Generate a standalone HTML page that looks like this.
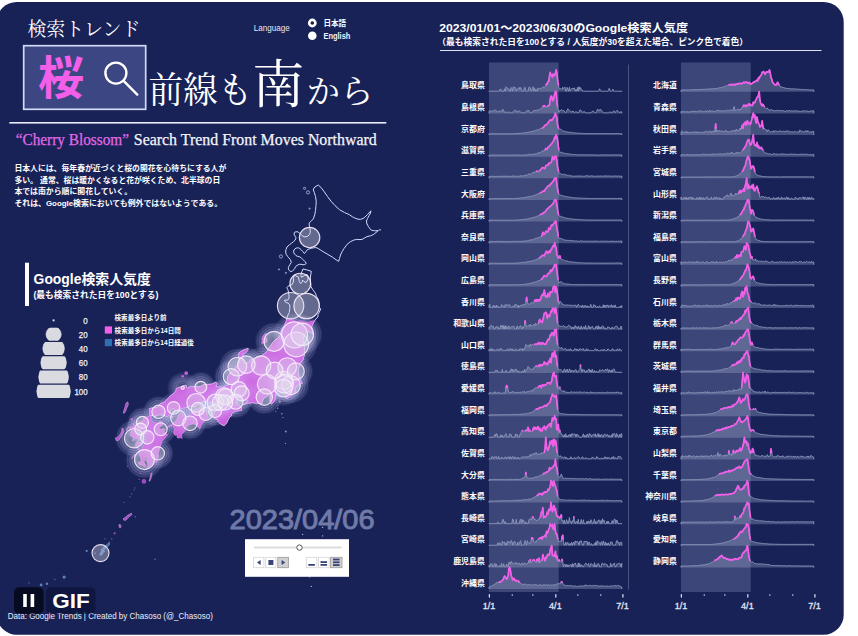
<!DOCTYPE html><html lang="ja"><head><meta charset="utf-8"><title>検索トレンド 桜前線も南から</title><style>html,body{margin:0;padding:0;background:#fff;font-family:"Liberation Sans",sans-serif}svg{display:block}.a{fill:#a9b0d0;fill-opacity:.32;stroke:#8f97bd;stroke-width:.9;stroke-linejoin:round;vector-effect:non-scaling-stroke}.p{fill:none;stroke:#f45fe9;stroke-width:1.7;stroke-linejoin:round;stroke-linecap:round;vector-effect:non-scaling-stroke}.t{font-family:"Liberation Sans","Noto Sans CJK JP",sans-serif;font-weight:bold;fill:#fff}.m{font-family:"Liberation Serif","Noto Serif CJK SC",serif;fill:#fff}</style></head><body><svg width="858" height="636" viewBox="0 0 858 636"><rect x="-3.3" y="2" width="847" height="632.7" rx="20" ry="20" fill="#182257"/><text class="m" x="27.4" y="36.2" font-size="19" textLength="113" lengthAdjust="spacingAndGlyphs">検索トレンド</text><rect x="23.7" y="45.7" width="122" height="63.6" fill="#3c4682" stroke="#d3d9f5" stroke-width="1.7"/><text x="37.9" y="94.2" font-family="Liberation Sans, Noto Sans CJK JP, sans-serif" font-weight="bold" font-size="46" fill="#f45fe9">桜</text><g fill="none" stroke="#fff" stroke-width="2.4" stroke-linecap="round"><circle cx="115.9" cy="73.1" r="10.5"/><path d="M123.6 80.8 L137.3 94.6"/></g><text class="m" x="148.4" y="103.2" font-size="36" textLength="104" lengthAdjust="spacingAndGlyphs">前線も</text><text class="m" x="252.3" y="102.5" font-size="52">南</text><text class="m" x="306.6" y="103.2" font-size="33" textLength="67" lengthAdjust="spacingAndGlyphs">から</text><rect x="9.3" y="122" width="377" height="1.6" fill="#e8ecfa"/><text x="15.7" y="144.7" font-family="Liberation Serif, serif" font-size="16.4" textLength="113.3" lengthAdjust="spacingAndGlyphs" fill="#e169e4" stroke="#e169e4" stroke-width=".25">“Cherry Blossom”</text><text x="133.8" y="144.7" font-family="Liberation Serif, serif" font-size="16.4" textLength="243" lengthAdjust="spacingAndGlyphs" fill="#f4f5fb" stroke="#f4f5fb" stroke-width=".25">Search Trend Front Moves Northward</text><text class="t" x="14.4" y="171.2" font-size="7.85" textLength="211.9" lengthAdjust="spacingAndGlyphs">日本人には、毎年春が近づくと桜の開花を心待ちにする人が</text><text class="t" x="14.4" y="182.75" font-size="7.85" textLength="205.9" lengthAdjust="spacingAndGlyphs">多い。 通常、桜は暖かくなると花が咲くため、北半球の日</text><text class="t" x="14.4" y="194.3" font-size="7.85" textLength="117.7" lengthAdjust="spacingAndGlyphs">本では南から順に開花していく。</text><text class="t" x="14.4" y="205.85" font-size="7.85" textLength="207.7" lengthAdjust="spacingAndGlyphs">それは、Google検索においても例外ではないようである。</text><text x="253.8" y="31" font-family="Liberation Sans, sans-serif" font-size="8.6" fill="#e4e7f5" textLength="36" lengthAdjust="spacingAndGlyphs">Language</text><circle cx="312.3" cy="23" r="3.1" fill="#1b1f3a" stroke="#fff" stroke-width="2.6"/><circle cx="312.3" cy="35.8" r="4.3" fill="#fff"/><text class="t" x="323.4" y="25.8" font-size="7.6" textLength="22.8" lengthAdjust="spacingAndGlyphs">日本語</text><text x="323.4" y="38.7" font-family="Liberation Sans, sans-serif" font-size="8.2" font-weight="bold" fill="#f0f2fa" textLength="27" lengthAdjust="spacingAndGlyphs">English</text><rect x="25" y="262.7" width="4" height="43.3" fill="#fff"/><text class="t" x="33.6" y="283.8" font-size="13.85" textLength="117.2" lengthAdjust="spacingAndGlyphs">Google検索人気度</text><text class="t" x="33.4" y="297.8" font-size="8.6" textLength="125" lengthAdjust="spacingAndGlyphs">(最も検索された日を100とする)</text><circle cx="53.6" cy="320.4" r="1.1" fill="#d5d8e2"/><text x="87.6" y="323.6" text-anchor="end" font-family="Liberation Sans, sans-serif" font-size="8.9" fill="#f2f3fa" stroke="#f2f3fa" stroke-width=".25" textLength="4.4" lengthAdjust="spacingAndGlyphs">0</text><clipPath id="cl20"><rect x="45.0" y="327.8" width="17.2" height="13.0" rx="3.5"/></clipPath><g clip-path="url(#cl20)"><ellipse cx="53.6" cy="334.3" rx="7.6" ry="7.6" fill="#dadbe1" stroke="#ececf0" stroke-width=".6"/></g><text x="87.6" y="337.5" text-anchor="end" font-family="Liberation Sans, sans-serif" font-size="8.9" fill="#f2f3fa" stroke="#f2f3fa" stroke-width=".25" textLength="8.8" lengthAdjust="spacingAndGlyphs">20</text><clipPath id="cl40"><rect x="41.8" y="342.0" width="23.6" height="13.0" rx="3.5"/></clipPath><g clip-path="url(#cl40)"><ellipse cx="53.6" cy="348.5" rx="10.8" ry="10.3" fill="#dadbe1" stroke="#ececf0" stroke-width=".6"/></g><text x="87.6" y="351.7" text-anchor="end" font-family="Liberation Sans, sans-serif" font-size="8.9" fill="#f2f3fa" stroke="#f2f3fa" stroke-width=".25" textLength="8.8" lengthAdjust="spacingAndGlyphs">40</text><clipPath id="cl60"><rect x="39.8" y="356.2" width="27.6" height="13.0" rx="3.5"/></clipPath><g clip-path="url(#cl60)"><ellipse cx="53.6" cy="362.7" rx="12.8" ry="12.2" fill="#dadbe1" stroke="#ececf0" stroke-width=".6"/></g><text x="87.6" y="365.9" text-anchor="end" font-family="Liberation Sans, sans-serif" font-size="8.9" fill="#f2f3fa" stroke="#f2f3fa" stroke-width=".25" textLength="8.8" lengthAdjust="spacingAndGlyphs">60</text><clipPath id="cl80"><rect x="37.7" y="370.5" width="31.8" height="13.0" rx="3.5"/></clipPath><g clip-path="url(#cl80)"><ellipse cx="53.6" cy="377.0" rx="14.9" ry="14.2" fill="#dadbe1" stroke="#ececf0" stroke-width=".6"/></g><text x="87.6" y="380.2" text-anchor="end" font-family="Liberation Sans, sans-serif" font-size="8.9" fill="#f2f3fa" stroke="#f2f3fa" stroke-width=".25" textLength="8.8" lengthAdjust="spacingAndGlyphs">80</text><clipPath id="cl100"><rect x="35.8" y="384.7" width="35.6" height="13.2" rx="3.5"/></clipPath><g clip-path="url(#cl100)"><ellipse cx="53.6" cy="391.3" rx="16.8" ry="16.0" fill="#dadbe1" stroke="#ececf0" stroke-width=".6"/></g><text x="87.6" y="394.5" text-anchor="end" font-family="Liberation Sans, sans-serif" font-size="8.9" fill="#f2f3fa" stroke="#f2f3fa" stroke-width=".25" textLength="13.2" lengthAdjust="spacingAndGlyphs">100</text><text class="t" x="114.6" y="319.9" font-size="6.5" textLength="52" lengthAdjust="spacingAndGlyphs">検索最多日より前</text><rect x="104.8" y="326.4" width="7.2" height="7.2" fill="#f45fe9"/><text class="t" x="114.6" y="332.7" font-size="6.5" textLength="66.2" lengthAdjust="spacingAndGlyphs">検索最多日から14日間</text><rect x="104.8" y="339" width="7.2" height="7.2" fill="#2f6fb0"/><text class="t" x="114.6" y="345.3" font-size="6.5" textLength="79.2" lengthAdjust="spacingAndGlyphs">検索最多日から14日経過後</text><g><circle cx="294.5" cy="334.9" r="22.5" fill="url(#halo)"/><circle cx="294.5" cy="334.9" r="15.5" fill="none" stroke="#e9e6ff" stroke-opacity="0.22" stroke-width=".9"/><circle cx="294.5" cy="334.9" r="17.8" fill="none" stroke="#e9e6ff" stroke-opacity="0.16" stroke-width=".9"/><circle cx="294.5" cy="334.9" r="20.2" fill="none" stroke="#e9e6ff" stroke-opacity="0.1" stroke-width=".9"/><circle cx="296.2" cy="344.4" r="21.9" fill="url(#halo)"/><circle cx="296.2" cy="344.4" r="14.9" fill="none" stroke="#e9e6ff" stroke-opacity="0.22" stroke-width=".9"/><circle cx="296.2" cy="344.4" r="17.2" fill="none" stroke="#e9e6ff" stroke-opacity="0.16" stroke-width=".9"/><circle cx="296.2" cy="344.4" r="19.6" fill="none" stroke="#e9e6ff" stroke-opacity="0.1" stroke-width=".9"/><circle cx="302.3" cy="334.3" r="20.7" fill="url(#halo)"/><circle cx="302.3" cy="334.3" r="13.7" fill="none" stroke="#e9e6ff" stroke-opacity="0.22" stroke-width=".9"/><circle cx="302.3" cy="334.3" r="16.0" fill="none" stroke="#e9e6ff" stroke-opacity="0.16" stroke-width=".9"/><circle cx="302.3" cy="334.3" r="18.4" fill="none" stroke="#e9e6ff" stroke-opacity="0.1" stroke-width=".9"/><circle cx="274.0" cy="341.4" r="19.5" fill="url(#halo)"/><circle cx="274.0" cy="341.4" r="12.5" fill="none" stroke="#e9e6ff" stroke-opacity="0.22" stroke-width=".9"/><circle cx="274.0" cy="341.4" r="14.8" fill="none" stroke="#e9e6ff" stroke-opacity="0.16" stroke-width=".9"/><circle cx="274.0" cy="341.4" r="17.2" fill="none" stroke="#e9e6ff" stroke-opacity="0.1" stroke-width=".9"/><circle cx="144.5" cy="459.6" r="19.5" fill="url(#halo)"/><circle cx="144.5" cy="459.6" r="12.5" fill="none" stroke="#e9e6ff" stroke-opacity="0.22" stroke-width=".9"/><circle cx="144.5" cy="459.6" r="14.8" fill="none" stroke="#e9e6ff" stroke-opacity="0.16" stroke-width=".9"/><circle cx="144.5" cy="459.6" r="17.2" fill="none" stroke="#e9e6ff" stroke-opacity="0.1" stroke-width=".9"/><circle cx="267.1" cy="384.2" r="19.2" fill="url(#halo)"/><circle cx="267.1" cy="384.2" r="12.2" fill="none" stroke="#e9e6ff" stroke-opacity="0.22" stroke-width=".9"/><circle cx="267.1" cy="384.2" r="14.5" fill="none" stroke="#e9e6ff" stroke-opacity="0.16" stroke-width=".9"/><circle cx="267.1" cy="384.2" r="16.9" fill="none" stroke="#e9e6ff" stroke-opacity="0.1" stroke-width=".9"/><circle cx="261.2" cy="365.5" r="19.2" fill="url(#halo)"/><circle cx="261.2" cy="365.5" r="12.2" fill="none" stroke="#e9e6ff" stroke-opacity="0.22" stroke-width=".9"/><circle cx="261.2" cy="365.5" r="14.5" fill="none" stroke="#e9e6ff" stroke-opacity="0.16" stroke-width=".9"/><circle cx="261.2" cy="365.5" r="16.9" fill="none" stroke="#e9e6ff" stroke-opacity="0.1" stroke-width=".9"/><circle cx="134.1" cy="438.2" r="19.2" fill="url(#halo)"/><circle cx="134.1" cy="438.2" r="12.2" fill="none" stroke="#e9e6ff" stroke-opacity="0.22" stroke-width=".9"/><circle cx="134.1" cy="438.2" r="14.5" fill="none" stroke="#e9e6ff" stroke-opacity="0.16" stroke-width=".9"/><circle cx="134.1" cy="438.2" r="16.9" fill="none" stroke="#e9e6ff" stroke-opacity="0.1" stroke-width=".9"/><circle cx="287.2" cy="367.1" r="18.9" fill="url(#halo)"/><circle cx="287.2" cy="367.1" r="11.9" fill="none" stroke="#e9e6ff" stroke-opacity="0.22" stroke-width=".9"/><circle cx="287.2" cy="367.1" r="14.2" fill="none" stroke="#e9e6ff" stroke-opacity="0.16" stroke-width=".9"/><circle cx="287.2" cy="367.1" r="16.6" fill="none" stroke="#e9e6ff" stroke-opacity="0.1" stroke-width=".9"/><circle cx="290.9" cy="385.3" r="18.9" fill="url(#halo)"/><circle cx="290.9" cy="385.3" r="11.9" fill="none" stroke="#e9e6ff" stroke-opacity="0.22" stroke-width=".9"/><circle cx="290.9" cy="385.3" r="14.2" fill="none" stroke="#e9e6ff" stroke-opacity="0.16" stroke-width=".9"/><circle cx="290.9" cy="385.3" r="16.6" fill="none" stroke="#e9e6ff" stroke-opacity="0.1" stroke-width=".9"/><circle cx="237.4" cy="366.6" r="18.9" fill="url(#halo)"/><circle cx="237.4" cy="366.6" r="11.9" fill="none" stroke="#e9e6ff" stroke-opacity="0.22" stroke-width=".9"/><circle cx="237.4" cy="366.6" r="14.2" fill="none" stroke="#e9e6ff" stroke-opacity="0.16" stroke-width=".9"/><circle cx="237.4" cy="366.6" r="16.6" fill="none" stroke="#e9e6ff" stroke-opacity="0.1" stroke-width=".9"/><circle cx="196.2" cy="402.9" r="18.9" fill="url(#halo)"/><circle cx="196.2" cy="402.9" r="11.9" fill="none" stroke="#e9e6ff" stroke-opacity="0.22" stroke-width=".9"/><circle cx="196.2" cy="402.9" r="14.2" fill="none" stroke="#e9e6ff" stroke-opacity="0.16" stroke-width=".9"/><circle cx="196.2" cy="402.9" r="16.6" fill="none" stroke="#e9e6ff" stroke-opacity="0.1" stroke-width=".9"/><circle cx="284.3" cy="383.7" r="18.8" fill="url(#halo)"/><circle cx="284.3" cy="383.7" r="11.8" fill="none" stroke="#e9e6ff" stroke-opacity="0.22" stroke-width=".9"/><circle cx="284.3" cy="383.7" r="14.1" fill="none" stroke="#e9e6ff" stroke-opacity="0.16" stroke-width=".9"/><circle cx="284.3" cy="383.7" r="16.5" fill="none" stroke="#e9e6ff" stroke-opacity="0.1" stroke-width=".9"/><circle cx="283.6" cy="380.5" r="18.5" fill="url(#halo)"/><circle cx="283.6" cy="380.5" r="11.5" fill="none" stroke="#e9e6ff" stroke-opacity="0.22" stroke-width=".9"/><circle cx="283.6" cy="380.5" r="13.8" fill="none" stroke="#e9e6ff" stroke-opacity="0.16" stroke-width=".9"/><circle cx="283.6" cy="380.5" r="16.2" fill="none" stroke="#e9e6ff" stroke-opacity="0.1" stroke-width=".9"/><circle cx="283.5" cy="388.2" r="18.3" fill="url(#halo)"/><circle cx="283.5" cy="388.2" r="11.3" fill="none" stroke="#e9e6ff" stroke-opacity="0.22" stroke-width=".9"/><circle cx="283.5" cy="388.2" r="13.6" fill="none" stroke="#e9e6ff" stroke-opacity="0.16" stroke-width=".9"/><circle cx="283.5" cy="388.2" r="16.0" fill="none" stroke="#e9e6ff" stroke-opacity="0.1" stroke-width=".9"/><circle cx="246.3" cy="364.6" r="18.3" fill="url(#halo)"/><circle cx="246.3" cy="364.6" r="11.3" fill="none" stroke="#e9e6ff" stroke-opacity="0.22" stroke-width=".9"/><circle cx="246.3" cy="364.6" r="13.6" fill="none" stroke="#e9e6ff" stroke-opacity="0.16" stroke-width=".9"/><circle cx="246.3" cy="364.6" r="16.0" fill="none" stroke="#e9e6ff" stroke-opacity="0.1" stroke-width=".9"/><circle cx="295.8" cy="371.4" r="18.0" fill="url(#halo)"/><circle cx="295.8" cy="371.4" r="11.0" fill="none" stroke="#e9e6ff" stroke-opacity="0.22" stroke-width=".9"/><circle cx="295.8" cy="371.4" r="13.3" fill="none" stroke="#e9e6ff" stroke-opacity="0.16" stroke-width=".9"/><circle cx="295.8" cy="371.4" r="15.7" fill="none" stroke="#e9e6ff" stroke-opacity="0.1" stroke-width=".9"/><circle cx="224.1" cy="396.2" r="18.0" fill="url(#halo)"/><circle cx="224.1" cy="396.2" r="11.0" fill="none" stroke="#e9e6ff" stroke-opacity="0.22" stroke-width=".9"/><circle cx="224.1" cy="396.2" r="13.3" fill="none" stroke="#e9e6ff" stroke-opacity="0.16" stroke-width=".9"/><circle cx="224.1" cy="396.2" r="15.7" fill="none" stroke="#e9e6ff" stroke-opacity="0.1" stroke-width=".9"/><circle cx="274.6" cy="370.4" r="17.8" fill="url(#halo)"/><circle cx="274.6" cy="370.4" r="10.8" fill="none" stroke="#e9e6ff" stroke-opacity="0.22" stroke-width=".9"/><circle cx="274.6" cy="370.4" r="13.1" fill="none" stroke="#e9e6ff" stroke-opacity="0.16" stroke-width=".9"/><circle cx="274.6" cy="370.4" r="15.5" fill="none" stroke="#e9e6ff" stroke-opacity="0.1" stroke-width=".9"/><circle cx="215.3" cy="402.4" r="17.8" fill="url(#halo)"/><circle cx="215.3" cy="402.4" r="10.8" fill="none" stroke="#e9e6ff" stroke-opacity="0.22" stroke-width=".9"/><circle cx="215.3" cy="402.4" r="13.1" fill="none" stroke="#e9e6ff" stroke-opacity="0.16" stroke-width=".9"/><circle cx="215.3" cy="402.4" r="15.5" fill="none" stroke="#e9e6ff" stroke-opacity="0.1" stroke-width=".9"/><circle cx="264.3" cy="397.1" r="17.7" fill="url(#halo)"/><circle cx="264.3" cy="397.1" r="10.7" fill="none" stroke="#e9e6ff" stroke-opacity="0.22" stroke-width=".9"/><circle cx="264.3" cy="397.1" r="13.0" fill="none" stroke="#e9e6ff" stroke-opacity="0.16" stroke-width=".9"/><circle cx="264.3" cy="397.1" r="15.4" fill="none" stroke="#e9e6ff" stroke-opacity="0.1" stroke-width=".9"/><circle cx="231.2" cy="376.6" r="17.5" fill="url(#halo)"/><circle cx="231.2" cy="376.6" r="10.5" fill="none" stroke="#e9e6ff" stroke-opacity="0.22" stroke-width=".9"/><circle cx="231.2" cy="376.6" r="12.8" fill="none" stroke="#e9e6ff" stroke-opacity="0.16" stroke-width=".9"/><circle cx="231.2" cy="376.6" r="15.2" fill="none" stroke="#e9e6ff" stroke-opacity="0.1" stroke-width=".9"/><circle cx="225.8" cy="396.6" r="17.5" fill="url(#halo)"/><circle cx="225.8" cy="396.6" r="10.5" fill="none" stroke="#e9e6ff" stroke-opacity="0.22" stroke-width=".9"/><circle cx="225.8" cy="396.6" r="12.8" fill="none" stroke="#e9e6ff" stroke-opacity="0.16" stroke-width=".9"/><circle cx="225.8" cy="396.6" r="15.2" fill="none" stroke="#e9e6ff" stroke-opacity="0.1" stroke-width=".9"/><circle cx="220.4" cy="402.5" r="17.5" fill="url(#halo)"/><circle cx="220.4" cy="402.5" r="10.5" fill="none" stroke="#e9e6ff" stroke-opacity="0.22" stroke-width=".9"/><circle cx="220.4" cy="402.5" r="12.8" fill="none" stroke="#e9e6ff" stroke-opacity="0.16" stroke-width=".9"/><circle cx="220.4" cy="402.5" r="15.2" fill="none" stroke="#e9e6ff" stroke-opacity="0.1" stroke-width=".9"/><circle cx="238.8" cy="389.3" r="17.2" fill="url(#halo)"/><circle cx="238.8" cy="389.3" r="10.2" fill="none" stroke="#e9e6ff" stroke-opacity="0.22" stroke-width=".9"/><circle cx="238.8" cy="389.3" r="12.5" fill="none" stroke="#e9e6ff" stroke-opacity="0.16" stroke-width=".9"/><circle cx="238.8" cy="389.3" r="14.9" fill="none" stroke="#e9e6ff" stroke-opacity="0.1" stroke-width=".9"/><circle cx="178.3" cy="418.1" r="17.2" fill="url(#halo)"/><circle cx="178.3" cy="418.1" r="10.2" fill="none" stroke="#e9e6ff" stroke-opacity="0.22" stroke-width=".9"/><circle cx="178.3" cy="418.1" r="12.5" fill="none" stroke="#e9e6ff" stroke-opacity="0.16" stroke-width=".9"/><circle cx="178.3" cy="418.1" r="14.9" fill="none" stroke="#e9e6ff" stroke-opacity="0.1" stroke-width=".9"/><circle cx="241.7" cy="393.3" r="17.0" fill="url(#halo)"/><circle cx="241.7" cy="393.3" r="10.0" fill="none" stroke="#e9e6ff" stroke-opacity="0.22" stroke-width=".9"/><circle cx="241.7" cy="393.3" r="12.3" fill="none" stroke="#e9e6ff" stroke-opacity="0.16" stroke-width=".9"/><circle cx="241.7" cy="393.3" r="14.7" fill="none" stroke="#e9e6ff" stroke-opacity="0.1" stroke-width=".9"/><circle cx="235.6" cy="401.7" r="17.0" fill="url(#halo)"/><circle cx="235.6" cy="401.7" r="10.0" fill="none" stroke="#e9e6ff" stroke-opacity="0.22" stroke-width=".9"/><circle cx="235.6" cy="401.7" r="12.3" fill="none" stroke="#e9e6ff" stroke-opacity="0.16" stroke-width=".9"/><circle cx="235.6" cy="401.7" r="14.7" fill="none" stroke="#e9e6ff" stroke-opacity="0.1" stroke-width=".9"/><circle cx="225.2" cy="402.5" r="17.0" fill="url(#halo)"/><circle cx="225.2" cy="402.5" r="10.0" fill="none" stroke="#e9e6ff" stroke-opacity="0.22" stroke-width=".9"/><circle cx="225.2" cy="402.5" r="12.3" fill="none" stroke="#e9e6ff" stroke-opacity="0.16" stroke-width=".9"/><circle cx="225.2" cy="402.5" r="14.7" fill="none" stroke="#e9e6ff" stroke-opacity="0.1" stroke-width=".9"/><circle cx="190.0" cy="423.3" r="16.8" fill="url(#halo)"/><circle cx="190.0" cy="423.3" r="9.8" fill="none" stroke="#e9e6ff" stroke-opacity="0.22" stroke-width=".9"/><circle cx="190.0" cy="423.3" r="12.1" fill="none" stroke="#e9e6ff" stroke-opacity="0.16" stroke-width=".9"/><circle cx="190.0" cy="423.3" r="14.5" fill="none" stroke="#e9e6ff" stroke-opacity="0.1" stroke-width=".9"/><circle cx="158.5" cy="411.8" r="16.2" fill="url(#halo)"/><circle cx="158.5" cy="411.8" r="9.2" fill="none" stroke="#e9e6ff" stroke-opacity="0.22" stroke-width=".9"/><circle cx="158.5" cy="411.8" r="11.5" fill="none" stroke="#e9e6ff" stroke-opacity="0.16" stroke-width=".9"/><circle cx="158.5" cy="411.8" r="13.9" fill="none" stroke="#e9e6ff" stroke-opacity="0.1" stroke-width=".9"/><circle cx="147.3" cy="437.4" r="16.2" fill="url(#halo)"/><circle cx="147.3" cy="437.4" r="9.2" fill="none" stroke="#e9e6ff" stroke-opacity="0.22" stroke-width=".9"/><circle cx="147.3" cy="437.4" r="11.5" fill="none" stroke="#e9e6ff" stroke-opacity="0.16" stroke-width=".9"/><circle cx="147.3" cy="437.4" r="13.9" fill="none" stroke="#e9e6ff" stroke-opacity="0.1" stroke-width=".9"/><circle cx="157.8" cy="453.3" r="16.2" fill="url(#halo)"/><circle cx="157.8" cy="453.3" r="9.2" fill="none" stroke="#e9e6ff" stroke-opacity="0.22" stroke-width=".9"/><circle cx="157.8" cy="453.3" r="11.5" fill="none" stroke="#e9e6ff" stroke-opacity="0.16" stroke-width=".9"/><circle cx="157.8" cy="453.3" r="13.9" fill="none" stroke="#e9e6ff" stroke-opacity="0.1" stroke-width=".9"/><circle cx="215.1" cy="411.0" r="16.0" fill="url(#halo)"/><circle cx="215.1" cy="411.0" r="9.0" fill="none" stroke="#e9e6ff" stroke-opacity="0.22" stroke-width=".9"/><circle cx="215.1" cy="411.0" r="11.3" fill="none" stroke="#e9e6ff" stroke-opacity="0.16" stroke-width=".9"/><circle cx="215.1" cy="411.0" r="13.7" fill="none" stroke="#e9e6ff" stroke-opacity="0.1" stroke-width=".9"/><circle cx="205.7" cy="414.0" r="16.0" fill="url(#halo)"/><circle cx="205.7" cy="414.0" r="9.0" fill="none" stroke="#e9e6ff" stroke-opacity="0.22" stroke-width=".9"/><circle cx="205.7" cy="414.0" r="11.3" fill="none" stroke="#e9e6ff" stroke-opacity="0.16" stroke-width=".9"/><circle cx="205.7" cy="414.0" r="13.7" fill="none" stroke="#e9e6ff" stroke-opacity="0.1" stroke-width=".9"/><circle cx="197.8" cy="408.9" r="16.0" fill="url(#halo)"/><circle cx="197.8" cy="408.9" r="9.0" fill="none" stroke="#e9e6ff" stroke-opacity="0.22" stroke-width=".9"/><circle cx="197.8" cy="408.9" r="11.3" fill="none" stroke="#e9e6ff" stroke-opacity="0.16" stroke-width=".9"/><circle cx="197.8" cy="408.9" r="13.7" fill="none" stroke="#e9e6ff" stroke-opacity="0.1" stroke-width=".9"/><circle cx="160.7" cy="429.2" r="16.0" fill="url(#halo)"/><circle cx="160.7" cy="429.2" r="9.0" fill="none" stroke="#e9e6ff" stroke-opacity="0.22" stroke-width=".9"/><circle cx="160.7" cy="429.2" r="11.3" fill="none" stroke="#e9e6ff" stroke-opacity="0.16" stroke-width=".9"/><circle cx="160.7" cy="429.2" r="13.7" fill="none" stroke="#e9e6ff" stroke-opacity="0.1" stroke-width=".9"/><circle cx="173.6" cy="407.9" r="15.8" fill="url(#halo)"/><circle cx="173.6" cy="407.9" r="8.8" fill="none" stroke="#e9e6ff" stroke-opacity="0.22" stroke-width=".9"/><circle cx="173.6" cy="407.9" r="11.1" fill="none" stroke="#e9e6ff" stroke-opacity="0.16" stroke-width=".9"/><circle cx="173.6" cy="407.9" r="13.5" fill="none" stroke="#e9e6ff" stroke-opacity="0.1" stroke-width=".9"/><circle cx="142.4" cy="422.4" r="15.6" fill="url(#halo)"/><circle cx="142.4" cy="422.4" r="8.6" fill="none" stroke="#e9e6ff" stroke-opacity="0.22" stroke-width=".9"/><circle cx="142.4" cy="422.4" r="10.9" fill="none" stroke="#e9e6ff" stroke-opacity="0.16" stroke-width=".9"/><circle cx="142.4" cy="422.4" r="13.3" fill="none" stroke="#e9e6ff" stroke-opacity="0.1" stroke-width=".9"/><circle cx="200.8" cy="387.2" r="16.0" fill="url(#halo)"/><circle cx="200.8" cy="387.2" r="8.4" fill="none" stroke="#e9e6ff" stroke-opacity="0.22" stroke-width=".9"/><circle cx="200.8" cy="387.2" r="10.7" fill="none" stroke="#e9e6ff" stroke-opacity="0.16" stroke-width=".9"/><circle cx="200.8" cy="387.2" r="13.1" fill="none" stroke="#e9e6ff" stroke-opacity="0.1" stroke-width=".9"/><circle cx="140.6" cy="429.0" r="15.4" fill="url(#halo)"/><circle cx="140.6" cy="429.0" r="8.4" fill="none" stroke="#e9e6ff" stroke-opacity="0.22" stroke-width=".9"/><circle cx="140.6" cy="429.0" r="10.7" fill="none" stroke="#e9e6ff" stroke-opacity="0.16" stroke-width=".9"/><circle cx="140.6" cy="429.0" r="13.1" fill="none" stroke="#e9e6ff" stroke-opacity="0.1" stroke-width=".9"/><circle cx="182.7" cy="387.8" r="16.0" fill="url(#halo)"/><circle cx="182.7" cy="387.8" r="4.1" fill="none" stroke="#e9e6ff" stroke-opacity="0.22" stroke-width=".9"/><circle cx="182.7" cy="387.8" r="6.4" fill="none" stroke="#e9e6ff" stroke-opacity="0.16" stroke-width=".9"/><circle cx="182.7" cy="387.8" r="8.8" fill="none" stroke="#e9e6ff" stroke-opacity="0.1" stroke-width=".9"/></g><g><clipPath id="south"><polygon points="273.7,317.6 287.5,318.0 292.1,319.0 296.6,321.3 301.2,320.6 307.4,322.3 311.9,320.6 327.2,320.0 327.2,433.5 136.0,433.5 136.0,317.6"/></clipPath><polygon points="318.3,185.0 321.0,187.5 323.9,191.3 327.5,196.5 331.0,201.2 335.0,205.6 339.5,209.7 344.5,212.5 349.4,214.7 352.5,216.8 355.1,218.2 358.0,219.2 360.7,219.3 363.0,218.5 365.0,217.1 367.5,214.5 370.9,210.8 370.5,213.0 369.2,215.4 367.5,218.5 366.4,221.0 367.0,224.0 368.5,226.7 370.0,228.8 371.3,230.2 374.5,230.8 378.4,230.6 376.0,232.5 373.5,234.5 370.5,235.8 367.1,236.6 364.5,238.0 362.1,239.4 359.0,239.6 356.5,239.4 353.5,240.2 350.8,241.5 348.5,243.0 346.6,245.1 344.0,248.5 342.2,251.5 340.5,255.0 339.5,258.5 338.6,261.4 336.0,259.7 332.4,257.1 328.0,254.5 323.9,252.1 320.5,250.0 318.3,248.6 316.2,247.6 313.5,247.8 311.5,248.3 309.0,249.0 307.3,249.7 305.8,251.8 304.4,253.5 302.8,251.5 301.1,249.7 299.8,248.5 298.3,247.8 296.5,248.0 295.0,248.8 294.0,250.0 293.6,251.1 293.8,252.8 294.5,254.0 295.8,255.4 297.4,256.3 299.5,256.8 301.1,257.7 303.0,259.6 304.9,261.5 306.3,263.4 304.8,264.5 303.0,264.8 301.0,264.3 299.2,264.3 297.0,265.5 295.5,266.7 294.8,268.3 294.1,269.5 292.5,270.8 290.8,271.7 289.3,270.6 288.4,269.1 288.4,267.5 288.9,266.2 290.2,264.3 291.2,262.5 291.0,261.0 290.3,259.6 288.8,257.8 287.5,256.3 286.2,254.2 285.6,252.1 286.0,249.5 287.0,246.9 289.2,245.0 291.7,243.1 293.5,241.7 295.0,240.3 295.7,238.9 295.9,237.5 294.8,235.8 294.1,234.2 294.2,233.0 294.5,232.3 296.0,231.8 297.8,231.8 299.2,232.8 300.2,233.7 302.0,235.5 304.0,236.8 306.0,236.8 308.0,236.0 309.5,234.5 310.2,232.5 310.2,230.0 309.8,227.4 309.2,225.0 309.1,223.1 311.0,221.3 313.3,218.9 314.8,214.5 315.5,210.4 316.0,205.5 316.2,201.2 315.5,196.5 314.3,192.5 313.3,189.9 314.0,187.8 316.0,186.3" fill="none" stroke="#d3dafc" stroke-width="1" stroke-linejoin="round"/><polygon points="302.9,269.0 306.6,269.8 311.3,271.3 310.9,273.9 310.4,277.0 310.4,281.0 310.9,286.5 312.7,289.5 315.3,293.1 316.5,296.3 318.5,300.1 319.3,304.1 319.3,307.3 320.7,309.1 319.3,312.1 318.1,314.6 317.8,317.0 315.8,319.0 313.8,321.9 312.7,324.3 311.6,326.3 312.2,329.8 312.7,334.1 310.4,332.1 308.9,331.3 306.6,332.3 305.1,333.7 304.0,335.6 303.2,339.5 303.7,343.4 304.7,349.2 304.3,355.0 302.9,360.0 300.9,362.6 299.1,366.5 298.5,369.3 297.9,372.0 298.5,375.9 299.4,378.8 301.2,381.6 302.3,383.3 300.0,383.9 296.3,386.3 295.1,388.8 295.1,391.0 293.7,394.0 290.5,395.7 287.3,398.5 285.3,397.0 286.4,394.8 285.8,390.8 287.6,389.5 289.3,387.3 290.5,385.4 288.7,383.9 285.6,384.8 285.6,386.9 283.8,388.2 283.8,389.9 285.0,391.8 283.2,394.2 282.6,392.0 281.0,391.0 279.0,390.6 276.1,392.0 276.0,394.0 274.9,395.0 275.2,397.2 274.8,400.4 272.9,402.8 271.2,404.1 270.2,401.3 270.3,398.3 270.5,396.1 271.5,395.0 268.8,394.4 266.3,396.6 264.5,397.6 263.4,399.1 261.9,401.9 261.9,404.1 259.2,403.5 256.9,403.0 255.3,403.2 253.8,402.8 252.3,402.6 247.7,403.2 243.4,404.5 244.6,403.0 248.0,401.9 247.7,400.4 246.5,400.0 243.9,400.4 242.8,399.4 243.1,400.7 242.6,402.2 240.8,400.7 240.5,398.9 240.5,396.6 240.8,395.7 238.8,396.1 237.7,397.4 236.7,399.4 235.9,401.9 236.5,404.1 238.2,405.0 239.3,405.6 240.8,406.3 241.6,408.7 241.6,410.2 239.3,410.6 236.2,411.0 233.1,412.4 231.2,413.9 231.6,415.6 229.5,417.2 227.8,420.4 227.0,422.2 225.5,424.4 224.1,425.7 222.0,424.8 220.1,423.5 218.6,422.2 217.7,421.1 218.2,420.2 215.9,418.9 213.4,417.4 213.7,415.6 214.0,413.7 215.1,412.4 214.5,411.1 213.6,410.2 214.8,409.3 216.3,408.4 217.1,407.2 218.6,405.6 219.4,404.5 218.9,403.2 217.8,402.2 216.6,402.2 215.4,402.6 213.3,403.5 212.3,403.3 210.2,402.2 207.6,400.9 205.1,401.1 203.0,401.5 201.0,402.6 199.6,403.9 198.0,404.1 196.9,404.5 196.7,405.9 194.3,407.2 193.1,405.9 191.4,406.3 189.5,405.9 188.0,406.9 185.0,407.8 183.1,408.0 180.5,409.1 178.1,410.0 175.3,410.8 173.5,408.5 171.5,408.9 170.0,410.6 170.1,412.1 169.3,414.3 168.4,415.9 166.9,416.5 165.7,416.1 163.5,414.5 162.0,415.2 160.0,414.6 157.4,415.2 155.1,416.5 153.9,415.8 152.1,415.2 150.2,416.1 149.9,414.6 150.1,412.6 149.5,410.0 149.3,408.7 151.3,408.2 154.0,407.8 157.4,407.4 158.6,405.6 160.5,403.7 164.0,402.6 165.8,400.4 167.8,398.5 170.0,396.4 171.9,394.8 174.2,392.9 176.1,390.5 176.2,388.6 178.1,387.8 180.4,386.9 183.4,385.8 185.7,385.4 186.8,386.0 185.7,386.9 186.5,387.8 187.7,388.2 190.3,386.9 192.6,386.7 194.9,386.9 198.0,386.9 200.3,386.5 202.2,385.4 204.1,384.8 206.8,384.4 209.9,384.4 212.5,383.9 215.9,382.0 217.1,383.9 215.6,386.3 217.1,386.7 218.3,387.3 219.8,386.3 220.9,387.3 224.0,387.3 226.3,385.4 228.9,384.4 228.1,381.6 227.2,378.2 228.2,375.9 229.8,373.3 232.4,371.2 234.2,369.7 236.7,366.1 238.5,363.0 239.6,360.7 239.0,358.4 238.8,356.1 238.8,353.0 241.6,351.1 244.6,349.6 248.1,348.6 247.7,350.5 245.4,353.0 241.9,354.4 243.9,355.9 243.1,356.9 242.6,357.8 243.5,359.8 242.9,361.5 244.0,362.8 246.5,363.4 249.2,362.1 249.7,360.3 251.8,359.6 254.3,358.8 256.2,357.8 259.2,356.5 262.2,355.4 264.8,353.4 266.8,351.7 269.1,348.2 270.0,346.5 272.2,343.4 274.5,340.5 278.3,338.0 280.7,335.2 280.9,331.7 282.1,328.6 284.7,324.9 286.2,321.3 287.5,316.0 289.3,312.5 289.8,308.5 289.8,305.1 288.2,303.1 285.9,302.5 284.4,300.1 287.9,300.1 289.0,298.1 289.0,296.1 288.7,293.1 287.9,289.7 286.8,287.7 288.2,286.1 292.1,284.5 293.3,282.0 293.6,280.0 293.6,277.4 294.3,274.7 295.9,276.0 298.6,277.0 298.8,279.0 299.4,281.6 300.5,283.5 302.3,282.0 302.5,280.0 304.0,281.6 306.1,282.7 307.7,280.0 308.1,278.4 308.1,276.0 307.0,274.3 304.3,275.6 301.5,277.2 300.9,275.6 301.2,273.9 302.0,271.5" fill="none" stroke="#d3dafc" stroke-width="1" stroke-linejoin="round"/><g fill="#d863e6" fill-opacity=".92" stroke="#e9a6f2" stroke-width=".5" stroke-linejoin="round"><polygon clip-path="url(#south)" points="302.9,269.0 306.6,269.8 311.3,271.3 310.9,273.9 310.4,277.0 310.4,281.0 310.9,286.5 312.7,289.5 315.3,293.1 316.5,296.3 318.5,300.1 319.3,304.1 319.3,307.3 320.7,309.1 319.3,312.1 318.1,314.6 317.8,317.0 315.8,319.0 313.8,321.9 312.7,324.3 311.6,326.3 312.2,329.8 312.7,334.1 310.4,332.1 308.9,331.3 306.6,332.3 305.1,333.7 304.0,335.6 303.2,339.5 303.7,343.4 304.7,349.2 304.3,355.0 302.9,360.0 300.9,362.6 299.1,366.5 298.5,369.3 297.9,372.0 298.5,375.9 299.4,378.8 301.2,381.6 302.3,383.3 300.0,383.9 296.3,386.3 295.1,388.8 295.1,391.0 293.7,394.0 290.5,395.7 287.3,398.5 285.3,397.0 286.4,394.8 285.8,390.8 287.6,389.5 289.3,387.3 290.5,385.4 288.7,383.9 285.6,384.8 285.6,386.9 283.8,388.2 283.8,389.9 285.0,391.8 283.2,394.2 282.6,392.0 281.0,391.0 279.0,390.6 276.1,392.0 276.0,394.0 274.9,395.0 275.2,397.2 274.8,400.4 272.9,402.8 271.2,404.1 270.2,401.3 270.3,398.3 270.5,396.1 271.5,395.0 268.8,394.4 266.3,396.6 264.5,397.6 263.4,399.1 261.9,401.9 261.9,404.1 259.2,403.5 256.9,403.0 255.3,403.2 253.8,402.8 252.3,402.6 247.7,403.2 243.4,404.5 244.6,403.0 248.0,401.9 247.7,400.4 246.5,400.0 243.9,400.4 242.8,399.4 243.1,400.7 242.6,402.2 240.8,400.7 240.5,398.9 240.5,396.6 240.8,395.7 238.8,396.1 237.7,397.4 236.7,399.4 235.9,401.9 236.5,404.1 238.2,405.0 239.3,405.6 240.8,406.3 241.6,408.7 241.6,410.2 239.3,410.6 236.2,411.0 233.1,412.4 231.2,413.9 231.6,415.6 229.5,417.2 227.8,420.4 227.0,422.2 225.5,424.4 224.1,425.7 222.0,424.8 220.1,423.5 218.6,422.2 217.7,421.1 218.2,420.2 215.9,418.9 213.4,417.4 213.7,415.6 214.0,413.7 215.1,412.4 214.5,411.1 213.6,410.2 214.8,409.3 216.3,408.4 217.1,407.2 218.6,405.6 219.4,404.5 218.9,403.2 217.8,402.2 216.6,402.2 215.4,402.6 213.3,403.5 212.3,403.3 210.2,402.2 207.6,400.9 205.1,401.1 203.0,401.5 201.0,402.6 199.6,403.9 198.0,404.1 196.9,404.5 196.7,405.9 194.3,407.2 193.1,405.9 191.4,406.3 189.5,405.9 188.0,406.9 185.0,407.8 183.1,408.0 180.5,409.1 178.1,410.0 175.3,410.8 173.5,408.5 171.5,408.9 170.0,410.6 170.1,412.1 169.3,414.3 168.4,415.9 166.9,416.5 165.7,416.1 163.5,414.5 162.0,415.2 160.0,414.6 157.4,415.2 155.1,416.5 153.9,415.8 152.1,415.2 150.2,416.1 149.9,414.6 150.1,412.6 149.5,410.0 149.3,408.7 151.3,408.2 154.0,407.8 157.4,407.4 158.6,405.6 160.5,403.7 164.0,402.6 165.8,400.4 167.8,398.5 170.0,396.4 171.9,394.8 174.2,392.9 176.1,390.5 176.2,388.6 178.1,387.8 180.4,386.9 183.4,385.8 185.7,385.4 186.8,386.0 185.7,386.9 186.5,387.8 187.7,388.2 190.3,386.9 192.6,386.7 194.9,386.9 198.0,386.9 200.3,386.5 202.2,385.4 204.1,384.8 206.8,384.4 209.9,384.4 212.5,383.9 215.9,382.0 217.1,383.9 215.6,386.3 217.1,386.7 218.3,387.3 219.8,386.3 220.9,387.3 224.0,387.3 226.3,385.4 228.9,384.4 228.1,381.6 227.2,378.2 228.2,375.9 229.8,373.3 232.4,371.2 234.2,369.7 236.7,366.1 238.5,363.0 239.6,360.7 239.0,358.4 238.8,356.1 238.8,353.0 241.6,351.1 244.6,349.6 248.1,348.6 247.7,350.5 245.4,353.0 241.9,354.4 243.9,355.9 243.1,356.9 242.6,357.8 243.5,359.8 242.9,361.5 244.0,362.8 246.5,363.4 249.2,362.1 249.7,360.3 251.8,359.6 254.3,358.8 256.2,357.8 259.2,356.5 262.2,355.4 264.8,353.4 266.8,351.7 269.1,348.2 270.0,346.5 272.2,343.4 274.5,340.5 278.3,338.0 280.7,335.2 280.9,331.7 282.1,328.6 284.7,324.9 286.2,321.3 287.5,316.0 289.3,312.5 289.8,308.5 289.8,305.1 288.2,303.1 285.9,302.5 284.4,300.1 287.9,300.1 289.0,298.1 289.0,296.1 288.7,293.1 287.9,289.7 286.8,287.7 288.2,286.1 292.1,284.5 293.3,282.0 293.6,280.0 293.6,277.4 294.3,274.7 295.9,276.0 298.6,277.0 298.8,279.0 299.4,281.6 300.5,283.5 302.3,282.0 302.5,280.0 304.0,281.6 306.1,282.7 307.7,280.0 308.1,278.4 308.1,276.0 307.0,274.3 304.3,275.6 301.5,277.2 300.9,275.6 301.2,273.9 302.0,271.5"/><polygon points="206.8,410.8 206.7,412.4 206.2,413.9 207.6,416.1 208.7,418.3 205.6,420.2 202.9,422.6 201.0,425.3 199.9,429.2 198.7,428.1 197.5,425.9 195.7,424.4 193.4,423.9 190.6,424.4 188.5,425.3 186.5,426.6 185.7,428.4 185.3,429.9 183.4,432.6 181.6,434.5 181.9,437.6 182.2,438.6 180.8,437.6 178.8,438.1 177.0,437.6 177.3,434.8 175.5,435.4 174.2,434.5 173.5,431.7 174.7,429.5 173.5,427.2 172.7,425.5 169.7,426.6 166.9,427.3 168.9,425.9 171.2,424.4 173.9,422.4 177.0,419.8 177.3,417.8 178.4,415.6 181.1,413.0 182.2,413.9 183.4,415.8 184.6,416.5 186.5,415.8 190.3,415.2 191.5,412.8 190.8,410.6 192.3,411.1 193.4,410.0 194.9,409.3 198.0,408.7 199.5,407.8 200.3,409.1 202.9,410.6 204.1,411.0"/><polygon points="150.8,416.1 151.3,417.4 151.3,419.3 151.6,420.4 153.1,422.2 154.4,422.6 156.6,423.1 158.2,422.6 160.2,421.1 162.0,421.6 162.6,423.1 162.3,425.3 161.2,426.2 159.2,427.5 158.9,428.4 161.2,429.0 163.5,428.6 165.1,429.0 164.3,430.3 163.8,431.4 165.1,432.1 165.8,433.5 167.8,434.8 166.3,436.3 165.8,437.2 164.0,439.0 162.0,441.2 161.2,444.1 160.2,447.2 159.4,449.5 158.3,453.5 158.5,456.2 157.4,458.9 157.0,461.6 156.5,463.0 154.7,461.9 152.8,461.2 152.1,462.8 152.1,464.3 150.5,466.1 147.9,467.8 146.1,469.6 146.7,467.8 147.9,466.1 147.9,463.4 147.0,461.0 145.5,460.1 145.9,458.9 147.0,458.9 147.5,456.7 145.5,457.1 144.7,459.3 144.1,462.5 145.9,465.5 144.9,467.0 142.9,465.7 140.6,464.8 139.4,464.8 138.7,463.4 138.0,462.1 140.9,462.1 140.9,458.9 140.1,456.7 139.1,454.4 138.9,451.3 139.8,450.2 141.3,449.9 142.1,448.1 143.6,445.4 145.2,442.6 143.9,441.2 142.9,440.5 144.4,439.7 145.9,439.4 145.2,437.7 144.4,435.4 142.4,433.0 141.8,431.2 140.1,430.3 138.7,430.8 137.5,431.7 139.1,434.1 137.8,435.4 137.1,436.3 140.6,435.9 141.7,437.6 139.8,440.3 138.7,440.8 139.1,438.6 136.8,438.1 134.8,439.0 132.2,441.2 132.6,439.9 134.0,438.3 132.6,437.2 130.6,435.4 130.6,432.6 131.4,431.7 131.7,430.6 130.2,429.0 129.6,427.0 131.4,427.2 133.7,428.1 133.2,425.9 133.7,423.5 134.9,424.4 135.5,425.0 137.5,423.5 138.6,422.2 139.4,421.6 140.6,422.6 142.1,422.6 141.8,421.6 140.6,421.1 142.1,420.7 142.9,420.2 143.2,418.5 144.1,417.0 146.1,417.0 148.2,416.5 149.8,415.8"/><polygon points="266.2,333.1 266.0,335.6 265.1,338.0 267.1,338.6 266.8,341.9 263.7,343.0 261.8,343.4 262.2,341.9 263.0,340.1 261.9,339.5 262.2,338.0 263.4,335.6 265.3,333.7"/><polygon points="212.8,404.1 211.3,406.9 211.0,408.9 211.7,410.0 210.2,411.1 208.2,411.5 207.3,410.8 207.9,409.3 209.1,407.4 210.2,406.3 211.4,405.0"/><polygon fill-opacity=".72" points="128.0,402.2 128.3,405.0 126.8,407.8 126.0,410.6 124.1,413.4 123.3,413.0 124.1,409.7 125.0,406.9 126.0,403.2 127.3,401.9"/><polygon fill-opacity=".72" points="152.1,472.7 151.6,476.8 150.1,480.8 149.0,481.2 150.1,477.6 150.8,474.1"/><polygon fill-opacity=".72" points="131.4,513.2 132.0,514.6 129.1,516.8 126.5,519.8 124.4,520.6 123.0,518.9 125.3,517.2 128.0,515.1"/><polygon points="137.5,441.7 139.1,442.6 139.1,445.4 136.8,448.1 136.0,448.1 135.7,445.4 136.3,442.6"/><polygon points="141.3,441.7 142.9,443.6 141.3,444.8 139.8,443.6"/><polygon fill-opacity=".72" points="129.1,426.2 128.6,428.1 126.5,430.3 126.0,429.9 127.3,427.7"/><polygon fill-opacity=".72" points="116.1,440.5 115.3,438.1 117.9,437.2 119.6,435.0 121.1,433.2 121.9,430.8 121.9,428.4 123.3,428.8 123.4,432.6 121.9,435.7 120.2,437.9 119.2,439.7 117.9,440.8"/><polygon points="201.5,405.0 202.7,405.9 202.2,406.9 200.3,407.2 199.9,405.9"/><polygon points="169.7,416.1 172.7,416.5 173.0,417.4 169.7,417.0"/><polygon points="173.0,410.6 174.5,411.1 174.5,413.0 173.5,413.4 172.7,411.9"/><polygon points="181.6,409.7 183.4,410.6 184.6,409.7 184.2,411.1 181.9,411.5"/><polygon fill-opacity=".72" points="134.8,454.0 134.2,455.3 131.4,458.0 131.7,458.5 133.7,456.2 135.2,454.4"/><polygon points="138.3,448.1 139.4,449.0 138.3,449.9 137.2,449.0"/><polygon fill-opacity=".72" points="119.9,524.1 121.1,526.2 120.4,527.9 119.2,527.2 118.9,525.0"/></g><polygon points="109.4,541.9 109.7,544.4 107.7,546.8 105.4,548.5 103.9,550.2 104.6,551.6 102.3,553.0 102.6,554.2 100.5,555.4 100.0,554.7 100.2,553.2 101.4,551.3 101.0,549.6 103.1,548.2 104.2,546.1 103.6,544.8 105.4,545.5 106.9,544.4" fill="#4f7fc4" fill-opacity=".8" stroke="#9db4e6" stroke-width=".4"/><circle cx="186.2" cy="373.1" r="1.9" fill="#d863e6" fill-opacity="0.9"/><circle cx="182.7" cy="376.3" r="1.2" fill="#d863e6" fill-opacity="0.9"/><circle cx="131.7" cy="419.3" r="1.2" fill="#d863e6" fill-opacity="0.9"/><circle cx="143.9" cy="481.4" r="2.3" fill="#d863e6" fill-opacity="0.7"/><circle cx="135.2" cy="516.8" r="0.7" fill="#d863e6" fill-opacity="0.7"/><circle cx="114.6" cy="533.3" r="1.1" fill="#d863e6" fill-opacity="0.7"/><circle cx="111.8" cy="538.9" r="0.6" fill="#6f8fd0" fill-opacity=".85"/><circle cx="86.7" cy="550.9" r="1.1" fill="#6f8fd0" fill-opacity=".85"/><circle cx="95.1" cy="553.3" r="0.7" fill="#6f8fd0" fill-opacity=".85"/><circle cx="64.1" cy="577.1" r="1.6" fill="#6f8fd0" fill-opacity=".85"/><circle cx="155.1" cy="559.3" r="0.7" fill="#6f8fd0" fill-opacity=".85"/><circle cx="279.8" cy="401.7" r="1.1" fill="#b9a4e6" fill-opacity=".8"/><circle cx="278.0" cy="405.6" r="0.6" fill="#b9a4e6" fill-opacity=".8"/><circle cx="277.7" cy="408.2" r="0.7" fill="#b9a4e6" fill-opacity=".8"/><circle cx="275.8" cy="411.3" r="0.6" fill="#b9a4e6" fill-opacity=".8"/><circle cx="281.8" cy="413.7" r="0.8" fill="#b9a4e6" fill-opacity=".8"/><circle cx="282.9" cy="417.6" r="0.6" fill="#b9a4e6" fill-opacity=".8"/><circle cx="285.8" cy="431.5" r="0.9" fill="#b9a4e6" fill-opacity=".8"/><circle cx="285.5" cy="443.4" r="0.6" fill="#b9a4e6" fill-opacity=".8"/><circle cx="308.0" cy="192.4" r="1.6" fill="none" stroke="#c3cdf7" stroke-width=".7"/><circle cx="304.6" cy="188.3" r="1.1" fill="none" stroke="#c3cdf7" stroke-width=".7"/><circle cx="280.9" cy="256.5" r="1.6" fill="none" stroke="#c3cdf7" stroke-width=".7"/><circle cx="309.6" cy="208.6" r="0.6" fill="none" stroke="#c3cdf7" stroke-width=".7"/><circle cx="380.0" cy="229.8" r="0.6" fill="none" stroke="#c3cdf7" stroke-width=".7"/><circle cx="279.0" cy="269.4" r="0.6" fill="none" stroke="#c3cdf7" stroke-width=".7"/><circle cx="285.9" cy="272.9" r="0.6" fill="none" stroke="#c3cdf7" stroke-width=".7"/><circle cx="134.8" cy="487.9" r="0.6" fill="#d863e6" fill-opacity="0.7"/><circle cx="134.0" cy="490.0" r="0.6" fill="#d863e6" fill-opacity="0.7"/><circle cx="131.4" cy="493.9" r="0.6" fill="#d863e6" fill-opacity="0.7"/><circle cx="129.9" cy="496.9" r="0.6" fill="#d863e6" fill-opacity="0.7"/><circle cx="123.8" cy="502.3" r="0.6" fill="#d863e6" fill-opacity="0.7"/><circle cx="140.6" cy="473.2" r="0.6" fill="#d863e6" fill-opacity="0.7"/><circle cx="139.1" cy="479.4" r="0.6" fill="#d863e6" fill-opacity="0.7"/><circle cx="127.6" cy="466.1" r="0.6" fill="#d863e6" fill-opacity="0.7"/><circle cx="46.9" cy="583.8" r="1.2" fill="#6f8fd0" fill-opacity=".85"/><circle cx="41.1" cy="585.0" r="1.4" fill="#6f8fd0" fill-opacity=".85"/><circle cx="28.9" cy="582.9" r="0.6" fill="#6f8fd0" fill-opacity=".85"/><circle cx="54.9" cy="579.4" r="0.6" fill="#6f8fd0" fill-opacity=".85"/><circle cx="102.0" cy="544.4" r="0.6" fill="#6f8fd0" fill-opacity=".85"/><circle cx="104.9" cy="538.8" r="0.6" fill="#6f8fd0" fill-opacity=".85"/><circle cx="322.6" cy="527.4" r=".7" fill="#c9d2f8" fill-opacity=".8"/><circle cx="302.6" cy="534.4" r=".7" fill="#c9d2f8" fill-opacity=".8"/><circle cx="322.6" cy="535.9" r=".7" fill="#c9d2f8" fill-opacity=".8"/><circle cx="309.7" cy="576.9" r=".7" fill="#c9d2f8" fill-opacity=".8"/><circle cx="311.3" cy="586.4" r=".7" fill="#c9d2f8" fill-opacity=".8"/></g><defs><radialGradient id="halo"><stop offset="0" stop-color="#d8d4ff" stop-opacity="0"/><stop offset=".42" stop-color="#d0ccff" stop-opacity=".24"/><stop offset=".65" stop-color="#c8c4ff" stop-opacity=".2"/><stop offset=".85" stop-color="#c4c0ff" stop-opacity=".1"/><stop offset="1" stop-color="#c4c0ff" stop-opacity="0"/></radialGradient></defs><g opacity=".45"><circle cx="294.5" cy="334.9" r="22.5" fill="url(#halo)"/><circle cx="296.2" cy="344.4" r="21.9" fill="url(#halo)"/><circle cx="302.3" cy="334.3" r="20.7" fill="url(#halo)"/><circle cx="274.0" cy="341.4" r="19.5" fill="url(#halo)"/><circle cx="144.5" cy="459.6" r="19.5" fill="url(#halo)"/><circle cx="267.1" cy="384.2" r="19.2" fill="url(#halo)"/><circle cx="261.2" cy="365.5" r="19.2" fill="url(#halo)"/><circle cx="134.1" cy="438.2" r="19.2" fill="url(#halo)"/><circle cx="287.2" cy="367.1" r="18.9" fill="url(#halo)"/><circle cx="290.9" cy="385.3" r="18.9" fill="url(#halo)"/><circle cx="237.4" cy="366.6" r="18.9" fill="url(#halo)"/><circle cx="196.2" cy="402.9" r="18.9" fill="url(#halo)"/><circle cx="284.3" cy="383.7" r="18.8" fill="url(#halo)"/><circle cx="283.6" cy="380.5" r="18.5" fill="url(#halo)"/><circle cx="283.5" cy="388.2" r="18.3" fill="url(#halo)"/><circle cx="246.3" cy="364.6" r="18.3" fill="url(#halo)"/><circle cx="295.8" cy="371.4" r="18.0" fill="url(#halo)"/><circle cx="224.1" cy="396.2" r="18.0" fill="url(#halo)"/><circle cx="274.6" cy="370.4" r="17.8" fill="url(#halo)"/><circle cx="215.3" cy="402.4" r="17.8" fill="url(#halo)"/><circle cx="264.3" cy="397.1" r="17.7" fill="url(#halo)"/><circle cx="231.2" cy="376.6" r="17.5" fill="url(#halo)"/><circle cx="225.8" cy="396.6" r="17.5" fill="url(#halo)"/><circle cx="220.4" cy="402.5" r="17.5" fill="url(#halo)"/><circle cx="238.8" cy="389.3" r="17.2" fill="url(#halo)"/><circle cx="178.3" cy="418.1" r="17.2" fill="url(#halo)"/><circle cx="241.7" cy="393.3" r="17.0" fill="url(#halo)"/><circle cx="235.6" cy="401.7" r="17.0" fill="url(#halo)"/><circle cx="225.2" cy="402.5" r="17.0" fill="url(#halo)"/><circle cx="190.0" cy="423.3" r="16.8" fill="url(#halo)"/><circle cx="158.5" cy="411.8" r="16.2" fill="url(#halo)"/><circle cx="147.3" cy="437.4" r="16.2" fill="url(#halo)"/><circle cx="157.8" cy="453.3" r="16.2" fill="url(#halo)"/><circle cx="215.1" cy="411.0" r="16.0" fill="url(#halo)"/><circle cx="205.7" cy="414.0" r="16.0" fill="url(#halo)"/><circle cx="197.8" cy="408.9" r="16.0" fill="url(#halo)"/><circle cx="160.7" cy="429.2" r="16.0" fill="url(#halo)"/><circle cx="173.6" cy="407.9" r="15.8" fill="url(#halo)"/><circle cx="142.4" cy="422.4" r="15.6" fill="url(#halo)"/><circle cx="200.8" cy="387.2" r="16.0" fill="url(#halo)"/><circle cx="140.6" cy="429.0" r="15.4" fill="url(#halo)"/><circle cx="182.7" cy="387.8" r="16.0" fill="url(#halo)"/></g><g><circle cx="290.6" cy="305.7" r="13.2" fill="#e4e1ee" fill-opacity=".37" stroke="#f8eefc" stroke-opacity=".9" stroke-width="1.15"/><circle cx="294.5" cy="334.9" r="13.0" fill="#e4e1ee" fill-opacity=".37" stroke="#f8eefc" stroke-opacity=".9" stroke-width="1.15"/><circle cx="306.6" cy="306.0" r="12.7" fill="#e4e1ee" fill-opacity=".37" stroke="#f8eefc" stroke-opacity=".9" stroke-width="1.15"/><circle cx="296.2" cy="344.4" r="12.4" fill="#e4e1ee" fill-opacity=".37" stroke="#f8eefc" stroke-opacity=".9" stroke-width="1.15"/><circle cx="302.3" cy="334.3" r="11.2" fill="#e4e1ee" fill-opacity=".37" stroke="#f8eefc" stroke-opacity=".9" stroke-width="1.15"/><circle cx="300.3" cy="283.6" r="10.4" fill="#e4e1ee" fill-opacity=".37" stroke="#f8eefc" stroke-opacity=".9" stroke-width="1.15"/><circle cx="309.6" cy="237.5" r="10.2" fill="#e4e1ee" fill-opacity=".37" stroke="#f8eefc" stroke-opacity=".9" stroke-width="1.15"/><circle cx="274.0" cy="341.4" r="10.0" fill="#e4e1ee" fill-opacity=".37" stroke="#f8eefc" stroke-opacity=".9" stroke-width="1.15"/><circle cx="144.5" cy="459.6" r="10.0" fill="#e4e1ee" fill-opacity=".37" stroke="#f8eefc" stroke-opacity=".9" stroke-width="1.15"/><circle cx="267.1" cy="384.2" r="9.7" fill="#e4e1ee" fill-opacity=".37" stroke="#f8eefc" stroke-opacity=".9" stroke-width="1.15"/><circle cx="261.2" cy="365.5" r="9.7" fill="#e4e1ee" fill-opacity=".37" stroke="#f8eefc" stroke-opacity=".9" stroke-width="1.15"/><circle cx="134.1" cy="438.2" r="9.7" fill="#e4e1ee" fill-opacity=".37" stroke="#f8eefc" stroke-opacity=".9" stroke-width="1.15"/><circle cx="287.2" cy="367.1" r="9.4" fill="#e4e1ee" fill-opacity=".37" stroke="#f8eefc" stroke-opacity=".9" stroke-width="1.15"/><circle cx="290.9" cy="385.3" r="9.4" fill="#e4e1ee" fill-opacity=".37" stroke="#f8eefc" stroke-opacity=".9" stroke-width="1.15"/><circle cx="237.4" cy="366.6" r="9.4" fill="#e4e1ee" fill-opacity=".37" stroke="#f8eefc" stroke-opacity=".9" stroke-width="1.15"/><circle cx="196.2" cy="402.9" r="9.4" fill="#e4e1ee" fill-opacity=".37" stroke="#f8eefc" stroke-opacity=".9" stroke-width="1.15"/><circle cx="284.3" cy="383.7" r="9.3" fill="#e4e1ee" fill-opacity=".37" stroke="#f8eefc" stroke-opacity=".9" stroke-width="1.15"/><circle cx="283.6" cy="380.5" r="9.0" fill="#e4e1ee" fill-opacity=".37" stroke="#f8eefc" stroke-opacity=".9" stroke-width="1.15"/><circle cx="283.5" cy="388.2" r="8.8" fill="#e4e1ee" fill-opacity=".37" stroke="#f8eefc" stroke-opacity=".9" stroke-width="1.15"/><circle cx="246.3" cy="364.6" r="8.8" fill="#e4e1ee" fill-opacity=".37" stroke="#f8eefc" stroke-opacity=".9" stroke-width="1.15"/><circle cx="295.8" cy="371.4" r="8.5" fill="#e4e1ee" fill-opacity=".37" stroke="#f8eefc" stroke-opacity=".9" stroke-width="1.15"/><circle cx="224.1" cy="396.2" r="8.5" fill="#e4e1ee" fill-opacity=".37" stroke="#f8eefc" stroke-opacity=".9" stroke-width="1.15"/><circle cx="100.5" cy="553.1" r="8.5" fill="#e4e1ee" fill-opacity=".37" stroke="#f8eefc" stroke-opacity=".9" stroke-width="1.15"/><circle cx="274.6" cy="370.4" r="8.3" fill="#e4e1ee" fill-opacity=".37" stroke="#f8eefc" stroke-opacity=".9" stroke-width="1.15"/><circle cx="215.3" cy="402.4" r="8.3" fill="#e4e1ee" fill-opacity=".37" stroke="#f8eefc" stroke-opacity=".9" stroke-width="1.15"/><circle cx="264.3" cy="397.1" r="8.2" fill="#e4e1ee" fill-opacity=".37" stroke="#f8eefc" stroke-opacity=".9" stroke-width="1.15"/><circle cx="231.2" cy="376.6" r="8.0" fill="#e4e1ee" fill-opacity=".37" stroke="#f8eefc" stroke-opacity=".9" stroke-width="1.15"/><circle cx="225.8" cy="396.6" r="8.0" fill="#e4e1ee" fill-opacity=".37" stroke="#f8eefc" stroke-opacity=".9" stroke-width="1.15"/><circle cx="220.4" cy="402.5" r="8.0" fill="#e4e1ee" fill-opacity=".37" stroke="#f8eefc" stroke-opacity=".9" stroke-width="1.15"/><circle cx="238.8" cy="389.3" r="7.7" fill="#e4e1ee" fill-opacity=".37" stroke="#f8eefc" stroke-opacity=".9" stroke-width="1.15"/><circle cx="178.3" cy="418.1" r="7.7" fill="#e4e1ee" fill-opacity=".37" stroke="#f8eefc" stroke-opacity=".9" stroke-width="1.15"/><circle cx="241.7" cy="393.3" r="7.5" fill="#e4e1ee" fill-opacity=".37" stroke="#f8eefc" stroke-opacity=".9" stroke-width="1.15"/><circle cx="235.6" cy="401.7" r="7.5" fill="#e4e1ee" fill-opacity=".37" stroke="#f8eefc" stroke-opacity=".9" stroke-width="1.15"/><circle cx="225.2" cy="402.5" r="7.5" fill="#e4e1ee" fill-opacity=".37" stroke="#f8eefc" stroke-opacity=".9" stroke-width="1.15"/><circle cx="190.0" cy="423.3" r="7.3" fill="#e4e1ee" fill-opacity=".37" stroke="#f8eefc" stroke-opacity=".9" stroke-width="1.15"/><circle cx="158.5" cy="411.8" r="6.7" fill="#e4e1ee" fill-opacity=".37" stroke="#f8eefc" stroke-opacity=".9" stroke-width="1.15"/><circle cx="147.3" cy="437.4" r="6.7" fill="#e4e1ee" fill-opacity=".37" stroke="#f8eefc" stroke-opacity=".9" stroke-width="1.15"/><circle cx="157.8" cy="453.3" r="6.7" fill="#e4e1ee" fill-opacity=".37" stroke="#f8eefc" stroke-opacity=".9" stroke-width="1.15"/><circle cx="215.1" cy="411.0" r="6.5" fill="#e4e1ee" fill-opacity=".37" stroke="#f8eefc" stroke-opacity=".9" stroke-width="1.15"/><circle cx="205.7" cy="414.0" r="6.5" fill="#e4e1ee" fill-opacity=".37" stroke="#f8eefc" stroke-opacity=".9" stroke-width="1.15"/><circle cx="197.8" cy="408.9" r="6.5" fill="#e4e1ee" fill-opacity=".37" stroke="#f8eefc" stroke-opacity=".9" stroke-width="1.15"/><circle cx="160.7" cy="429.2" r="6.5" fill="#e4e1ee" fill-opacity=".37" stroke="#f8eefc" stroke-opacity=".9" stroke-width="1.15"/><circle cx="173.6" cy="407.9" r="6.3" fill="#e4e1ee" fill-opacity=".37" stroke="#f8eefc" stroke-opacity=".9" stroke-width="1.15"/><circle cx="142.4" cy="422.4" r="6.1" fill="#e4e1ee" fill-opacity=".37" stroke="#f8eefc" stroke-opacity=".9" stroke-width="1.15"/><circle cx="200.8" cy="387.2" r="5.9" fill="#e4e1ee" fill-opacity=".37" stroke="#f8eefc" stroke-opacity=".9" stroke-width="1.15"/><circle cx="140.6" cy="429.0" r="5.9" fill="#e4e1ee" fill-opacity=".37" stroke="#f8eefc" stroke-opacity=".9" stroke-width="1.15"/><circle cx="182.7" cy="387.8" r="1.6" fill="#e4e1ee" fill-opacity=".37" stroke="#f8eefc" stroke-opacity=".9" stroke-width="1.15"/></g><text x="229.6" y="528.9" font-family="Liberation Sans, sans-serif" font-size="27.6" fill="#6f7aa7" stroke="#6f7aa7" stroke-width=".95" textLength="145" lengthAdjust="spacingAndGlyphs">2023/04/06</text><rect x="245" y="539.2" width="104" height="37.6" fill="#fff"/><rect x="253.8" y="546.6" width="88" height="2" rx="1" fill="#dcdcdc"/><circle cx="299.5" cy="547.6" r="2.7" fill="#fff" stroke="#555" stroke-width="1"/><rect x="253.6" y="557.3" width="10.3" height="10.4" fill="#fff" stroke="#d4d4d4" stroke-width=".8"/><path d="M260.6 559.9v5.2l-3.6-2.6z" fill="#3b4478"/><rect x="265.7" y="557.3" width="10.3" height="10.4" fill="#fff" stroke="#d4d4d4" stroke-width=".8"/><rect x="268.4" y="560" width="5" height="5" fill="#3b4478"/><rect x="277.8" y="557.3" width="10.6" height="10.4" fill="#d0d0d0" stroke="#9a9a9a" stroke-width=".8"/><path d="M281.6 559.9v5.2l3.6-2.6z" fill="#3b4478"/><rect x="306.3" y="557.3" width="10.6" height="10.4" fill="#fff" stroke="#d4d4d4" stroke-width=".8"/><rect x="308.3" y="564" width="6.6" height="1.8" fill="#3b4478"/><rect x="318.5" y="557.3" width="10.6" height="10.4" fill="#fff" stroke="#d4d4d4" stroke-width=".8"/><rect x="320.5" y="564" width="6.6" height="1.8" fill="#3b4478"/><rect x="320.5" y="561.2" width="6.6" height="1.8" fill="#3b4478"/><rect x="330.6" y="557.3" width="11.4" height="10.4" fill="#d0d0d0" stroke="#9a9a9a" stroke-width=".8"/><rect x="333" y="564.2" width="6.6" height="1.8" fill="#3b4478"/><rect x="333" y="561.4" width="6.6" height="1.8" fill="#3b4478"/><rect x="333" y="558.6" width="6.6" height="1.8" fill="#3b4478"/><text class="t" x="439.3" y="31.5" font-size="11.6" textLength="248.8" lengthAdjust="spacingAndGlyphs">2023/01/01～2023/06/30のGoogle検索人気度</text><text class="t" x="437.3" y="44.5" font-size="8.68" textLength="310.7" lengthAdjust="spacingAndGlyphs">（最も検索された日を100とする / 人気度が30を超えた場合、ピンク色で着色）</text><rect x="440" y="50" width="381.5" height="1" fill="#dfe3f5"/><rect x="489" y="62.5" width="69.7" height="529.5" fill="#3d4678"/><rect x="681" y="62.5" width="69.7" height="529.5" fill="#3d4678"/><rect x="628" y="64.5" width="1" height="525" fill="#4a5280"/><g transform="translate(489.0 91.20) scale(0.7376 -0.10650)"><path class="a" d="M0,-6 L0,0 L1,0 L2,0 L3,0 L4,0 L5,0 L6,0 L7,0 L8,0 L9,0 L10,0 L11,0 L12,0 L13,0 L14,0 L15,18 L16,20 L17,0 L18,0 L19,0 L20,0 L21,22 L22,0 L23,41 L24,37 L25,27 L26,22 L27,23 L28,0 L29,0 L30,35 L31,26 L32,0 L33,42 L34,36 L35,32 L36,33 L37,0 L38,17 L39,15 L40,31 L41,37 L42,19 L43,35 L44,14 L45,0 L46,0 L47,0 L48,33 L49,36 L50,0 L51,0 L52,0 L53,0 L54,34 L55,41 L56,30 L57,0 L58,15 L59,27 L60,42 L61,0 L62,26 L63,0 L64,15 L65,0 L66,27 L67,24 L68,26 L69,28 L70,26 L71,27 L72,34 L73,39 L74,37 L75,37 L76,45 L77,54 L78,68 L79,67 L80,92 L81,92 L82,143 L83,176 L84,155 L85,146 L86,131 L87,162 L88,153 L89,146 L90,169 L91,200 L92,173 L93,103 L94,67 L95,24 L96,22 L97,25 L98,20 L99,16 L100,37 L101,24 L102,32 L103,40 L104,0 L105,0 L106,36 L107,16 L108,0 L109,37 L110,0 L111,15 L112,20 L113,29 L114,20 L115,31 L116,29 L117,0 L118,15 L119,0 L120,36 L121,0 L122,42 L123,18 L124,34 L125,15 L126,15 L127,0 L128,0 L129,0 L130,0 L131,0 L132,0 L133,0 L134,0 L135,0 L136,0 L137,0 L138,0 L139,0 L140,0 L141,0 L142,0 L143,0 L144,0 L145,0 L146,0 L147,0 L148,0 L149,6 L150,23 L151,6 L152,0 L153,0 L154,0 L155,0 L156,0 L157,0 L158,0 L159,0 L160,0 L161,0 L162,7 L163,27 L164,7 L165,0 L166,0 L167,5 L168,20 L169,5 L170,0 L171,0 L172,0 L173,0 L174,0 L175,0 L176,0 L177,0 L178,0 L179,0 L180,0 L180,-6"/><polyline class="p" points="77.4,60 78,68 79,67 80,92 81,92 82,143 83,176 84,155 85,146 86,131 87,162 88,153 89,146 90,169 91,200 92,173 93,103 94,67 94.2,60"/></g><text class="t" x="461.1" y="88.4" font-size="7.9" textLength="23.7" lengthAdjust="spacingAndGlyphs">鳥取県</text><g transform="translate(489.0 112.82) scale(0.7376 -0.10650)"><path class="a" d="M0,-6 L0,10 L1,22 L2,19 L3,11 L4,17 L5,18 L6,17 L7,23 L8,26 L9,24 L10,21 L11,9 L12,7 L13,12 L14,19 L15,20 L16,12 L17,10 L18,28 L19,34 L20,19 L21,4 L22,5 L23,8 L24,5 L25,0 L26,5 L27,9 L28,5 L29,0 L30,0 L31,0 L32,8 L33,13 L34,18 L35,22 L36,26 L37,17 L38,8 L39,9 L40,16 L41,18 L42,14 L43,8 L44,0 L45,0 L46,0 L47,0 L48,0 L49,0 L50,11 L51,18 L52,18 L53,21 L54,22 L55,9 L56,0 L57,0 L58,0 L59,8 L60,20 L61,25 L62,22 L63,21 L64,23 L65,26 L66,25 L67,25 L68,30 L69,37 L70,39 L71,39 L72,46 L73,58 L74,66 L75,68 L76,60 L77,56 L78,54 L79,57 L80,68 L81,67 L82,73 L83,131 L84,158 L85,153 L86,116 L87,114 L88,144 L89,175 L90,197 L91,200 L92,109 L93,55 L94,31 L95,4 L96,20 L97,22 L98,29 L99,26 L100,22 L101,21 L102,18 L103,7 L104,0 L105,10 L106,26 L107,38 L108,29 L109,22 L110,19 L111,11 L112,5 L113,16 L114,17 L115,7 L116,0 L117,8 L118,14 L119,8 L120,0 L121,0 L122,7 L123,25 L124,28 L125,18 L126,9 L127,5 L128,8 L129,13 L130,8 L131,0 L132,0 L133,0 L134,0 L135,0 L136,0 L137,0 L138,0 L139,8 L140,14 L141,16 L142,12 L143,7 L144,0 L145,0 L146,12 L147,33 L148,32 L149,19 L150,24 L151,36 L152,26 L153,13 L154,9 L155,5 L156,0 L157,0 L158,0 L159,0 L160,0 L161,0 L162,0 L163,5 L164,9 L165,5 L166,0 L167,0 L168,11 L169,20 L170,11 L171,0 L172,12 L173,21 L174,21 L175,15 L176,9 L177,0 L178,8 L179,13 L180,8 L180,-6"/><polyline class="p" points="73.2,60 74,66 75,68 76,60"/><polyline class="p" points="79.3,60 80,68 81,67 82,73 83,131 84,158 85,153 86,116 87,114 88,144 89,175 90,197 91,200 92,109 92.9,60"/></g><text class="t" x="461.1" y="110.02" font-size="7.9" textLength="23.7" lengthAdjust="spacingAndGlyphs">島根県</text><g transform="translate(489.0 134.44) scale(0.7376 -0.10650)"><path class="a" d="M0,-6 L0,6 L1,5 L2,6 L3,6 L4,6 L5,7 L6,7 L7,6 L8,7 L9,6 L10,6 L11,6 L12,6 L13,6 L14,6 L15,6 L16,6 L17,6 L18,6 L19,6 L20,6 L21,7 L22,5 L23,6 L24,7 L25,6 L26,6 L27,6 L28,6 L29,7 L30,7 L31,7 L32,6 L33,6 L34,6 L35,8 L36,8 L37,8 L38,8 L39,10 L40,10 L41,10 L42,11 L43,11 L44,12 L45,12 L46,14 L47,14 L48,16 L49,16 L50,17 L51,19 L52,19 L53,19 L54,22 L55,22 L56,25 L57,27 L58,26 L59,28 L60,31 L61,35 L62,32 L63,38 L64,40 L65,42 L66,44 L67,44 L68,50 L69,51 L70,56 L71,59 L72,59 L73,63 L74,67 L75,80 L76,86 L77,90 L78,92 L79,98 L80,107 L81,121 L82,127 L83,135 L84,137 L85,133 L86,138 L87,153 L88,162 L89,178 L90,200 L91,173 L92,160 L93,88 L94,63 L95,48 L96,52 L97,50 L98,43 L99,37 L100,32 L101,32 L102,32 L103,26 L104,25 L105,25 L106,23 L107,22 L108,21 L109,21 L110,19 L111,18 L112,19 L113,15 L114,16 L115,15 L116,15 L117,14 L118,13 L119,12 L120,12 L121,12 L122,12 L123,11 L124,11 L125,11 L126,10 L127,9 L128,9 L129,9 L130,9 L131,9 L132,8 L133,8 L134,8 L135,8 L136,8 L137,7 L138,7 L139,9 L140,7 L141,9 L142,8 L143,7 L144,8 L145,8 L146,8 L147,7 L148,9 L149,8 L150,8 L151,7 L152,8 L153,8 L154,8 L155,9 L156,8 L157,8 L158,8 L159,7 L160,8 L161,7 L162,8 L163,8 L164,7 L165,8 L166,8 L167,8 L168,8 L169,8 L170,7 L171,7 L172,8 L173,8 L174,8 L175,7 L176,8 L177,8 L178,7 L179,7 L180,7 L180,-6"/><polyline class="p" points="72.2,60 73,63 74,67 75,80 76,86 77,90 78,92 79,98 80,107 81,121 82,127 83,135 84,137 85,133 86,138 87,153 88,162 89,178 90,200 91,173 92,160 93,88 94,63 94.2,60"/></g><text class="t" x="461.1" y="131.64" font-size="7.9" textLength="23.7" lengthAdjust="spacingAndGlyphs">京都府</text><g transform="translate(489.0 156.06) scale(0.7376 -0.10650)"><path class="a" d="M0,-6 L0,8 L1,9 L2,7 L3,9 L4,8 L5,9 L6,11 L7,10 L8,10 L9,9 L10,9 L11,9 L12,8 L13,9 L14,10 L15,9 L16,8 L17,9 L18,8 L19,8 L20,8 L21,9 L22,8 L23,9 L24,8 L25,8 L26,9 L27,9 L28,11 L29,9 L30,10 L31,8 L32,9 L33,9 L34,8 L35,9 L36,10 L37,8 L38,9 L39,11 L40,10 L41,10 L42,10 L43,8 L44,9 L45,9 L46,8 L47,10 L48,10 L49,10 L50,10 L51,13 L52,10 L53,15 L54,19 L55,15 L56,13 L57,14 L58,17 L59,15 L60,16 L61,19 L62,20 L63,20 L64,20 L65,22 L66,28 L67,30 L68,30 L69,33 L70,35 L71,38 L72,47 L73,53 L74,47 L75,55 L76,58 L77,71 L78,64 L79,66 L80,85 L81,87 L82,92 L83,102 L84,111 L85,116 L86,127 L87,136 L88,148 L89,178 L90,164 L91,200 L92,180 L93,147 L94,91 L95,42 L96,38 L97,35 L98,36 L99,35 L100,30 L101,28 L102,26 L103,27 L104,23 L105,22 L106,22 L107,22 L108,20 L109,21 L110,16 L111,17 L112,17 L113,14 L114,15 L115,14 L116,14 L117,15 L118,13 L119,12 L120,12 L121,10 L122,13 L123,11 L124,13 L125,12 L126,11 L127,11 L128,12 L129,12 L130,12 L131,11 L132,12 L133,10 L134,12 L135,11 L136,11 L137,11 L138,11 L139,13 L140,10 L141,10 L142,12 L143,12 L144,9 L145,10 L146,11 L147,9 L148,10 L149,10 L150,10 L151,11 L152,12 L153,12 L154,11 L155,10 L156,10 L157,11 L158,10 L159,11 L160,12 L161,10 L162,11 L163,9 L164,10 L165,11 L166,10 L167,12 L168,11 L169,10 L170,11 L171,10 L172,13 L173,11 L174,10 L175,11 L176,11 L177,12 L178,10 L179,11 L180,11 L180,-6"/><polyline class="p" points="76.2,60 77,71 78,64 79,66 80,85 81,87 82,92 83,102 84,111 85,116 86,127 87,136 88,148 89,178 90,164 91,200 92,180 93,147 94,91 94.6,60"/></g><text class="t" x="461.1" y="153.26" font-size="7.9" textLength="23.7" lengthAdjust="spacingAndGlyphs">滋賀県</text><g transform="translate(489.0 177.68) scale(0.7376 -0.10650)"><path class="a" d="M0,-6 L0,11 L1,11 L2,11 L3,15 L4,13 L5,13 L6,11 L7,11 L8,15 L9,11 L10,12 L11,12 L12,13 L13,13 L14,13 L15,12 L16,12 L17,14 L18,14 L19,13 L20,13 L21,15 L22,11 L23,13 L24,15 L25,13 L26,15 L27,10 L28,13 L29,13 L30,11 L31,14 L32,17 L33,14 L34,15 L35,15 L36,13 L37,14 L38,14 L39,13 L40,12 L41,15 L42,14 L43,18 L44,18 L45,15 L46,17 L47,17 L48,20 L49,20 L50,21 L51,30 L52,22 L53,30 L54,34 L55,37 L56,30 L57,35 L58,41 L59,48 L60,45 L61,54 L62,50 L63,55 L64,54 L65,63 L66,55 L67,59 L68,59 L69,67 L70,77 L71,82 L72,95 L73,95 L74,93 L75,85 L76,88 L77,114 L78,115 L79,118 L80,117 L81,136 L82,130 L83,142 L84,142 L85,156 L86,197 L87,178 L88,170 L89,200 L90,197 L91,198 L92,158 L93,98 L94,70 L95,38 L96,40 L97,39 L98,33 L99,28 L100,33 L101,32 L102,33 L103,29 L104,24 L105,29 L106,21 L107,20 L108,23 L109,17 L110,21 L111,17 L112,17 L113,14 L114,15 L115,13 L116,13 L117,14 L118,17 L119,13 L120,16 L121,16 L122,15 L123,15 L124,16 L125,14 L126,14 L127,14 L128,13 L129,15 L130,13 L131,17 L132,17 L133,20 L134,17 L135,15 L136,13 L137,13 L138,19 L139,16 L140,16 L141,14 L142,15 L143,14 L144,12 L145,11 L146,16 L147,14 L148,15 L149,15 L150,15 L151,16 L152,15 L153,13 L154,15 L155,14 L156,17 L157,16 L158,16 L159,17 L160,15 L161,14 L162,16 L163,14 L164,18 L165,13 L166,14 L167,14 L168,15 L169,16 L170,14 L171,14 L172,18 L173,15 L174,12 L175,18 L176,16 L177,13 L178,14 L179,14 L180,16 L180,-6"/><polyline class="p" points="64.7,60 65,63 65.4,60"/><polyline class="p" points="68.1,60 69,67 70,77 71,82 72,95 73,95 74,93 75,85 76,88 77,114 78,115 79,118 80,117 81,136 82,130 83,142 84,142 85,156 86,197 87,178 88,170 89,200 90,197 91,198 92,158 93,98 94,70 94.3,60"/></g><text class="t" x="461.1" y="174.88" font-size="7.9" textLength="23.7" lengthAdjust="spacingAndGlyphs">三重県</text><g transform="translate(489.0 199.30) scale(0.7376 -0.10650)"><path class="a" d="M0,-6 L0,6 L1,6 L2,6 L3,6 L4,7 L5,6 L6,6 L7,7 L8,6 L9,6 L10,7 L11,6 L12,6 L13,6 L14,6 L15,7 L16,7 L17,7 L18,6 L19,6 L20,7 L21,7 L22,6 L23,7 L24,7 L25,7 L26,7 L27,7 L28,7 L29,7 L30,7 L31,7 L32,7 L33,7 L34,7 L35,8 L36,8 L37,9 L38,10 L39,9 L40,10 L41,10 L42,11 L43,13 L44,13 L45,14 L46,15 L47,16 L48,16 L49,18 L50,18 L51,19 L52,22 L53,23 L54,23 L55,26 L56,26 L57,28 L58,31 L59,31 L60,33 L61,36 L62,39 L63,41 L64,44 L65,47 L66,51 L67,51 L68,55 L69,58 L70,63 L71,64 L72,71 L73,75 L74,78 L75,75 L76,87 L77,102 L78,106 L79,114 L80,126 L81,128 L82,124 L83,142 L84,145 L85,154 L86,163 L87,171 L88,180 L89,198 L90,200 L91,198 L92,146 L93,96 L94,63 L95,42 L96,43 L97,39 L98,37 L99,34 L100,33 L101,31 L102,29 L103,28 L104,27 L105,25 L106,23 L107,23 L108,20 L109,21 L110,20 L111,18 L112,17 L113,16 L114,16 L115,16 L116,14 L117,13 L118,14 L119,13 L120,11 L121,12 L122,11 L123,12 L124,11 L125,11 L126,10 L127,10 L128,9 L129,10 L130,9 L131,9 L132,9 L133,9 L134,9 L135,8 L136,8 L137,8 L138,8 L139,8 L140,8 L141,8 L142,8 L143,8 L144,8 L145,8 L146,8 L147,8 L148,8 L149,8 L150,8 L151,8 L152,8 L153,8 L154,8 L155,9 L156,8 L157,8 L158,8 L159,8 L160,8 L161,8 L162,8 L163,9 L164,8 L165,8 L166,8 L167,8 L168,8 L169,8 L170,8 L171,7 L172,8 L173,8 L174,8 L175,8 L176,8 L177,8 L178,9 L179,8 L180,9 L180,-6"/><polyline class="p" points="69.4,60 70,63 71,64 72,71 73,75 74,78 75,75 76,87 77,102 78,106 79,114 80,126 81,128 82,124 83,142 84,145 85,154 86,163 87,171 88,180 89,198 90,200 91,198 92,146 93,96 94,63 94.1,60"/></g><text class="t" x="461.1" y="196.5" font-size="7.9" textLength="23.7" lengthAdjust="spacingAndGlyphs">大阪府</text><g transform="translate(489.0 220.92) scale(0.7376 -0.10650)"><path class="a" d="M0,-6 L0,7 L1,6 L2,7 L3,7 L4,7 L5,7 L6,6 L7,6 L8,6 L9,7 L10,7 L11,6 L12,6 L13,7 L14,6 L15,7 L16,7 L17,7 L18,7 L19,7 L20,7 L21,7 L22,7 L23,6 L24,7 L25,7 L26,7 L27,7 L28,7 L29,7 L30,7 L31,7 L32,7 L33,7 L34,7 L35,7 L36,7 L37,7 L38,8 L39,8 L40,9 L41,10 L42,10 L43,11 L44,11 L45,12 L46,13 L47,14 L48,15 L49,15 L50,17 L51,18 L52,19 L53,19 L54,21 L55,24 L56,26 L57,27 L58,28 L59,29 L60,34 L61,33 L62,35 L63,38 L64,42 L65,45 L66,45 L67,50 L68,54 L69,58 L70,61 L71,63 L72,66 L73,70 L74,80 L75,78 L76,85 L77,93 L78,108 L79,111 L80,119 L81,126 L82,132 L83,137 L84,141 L85,150 L86,156 L87,161 L88,181 L89,194 L90,200 L91,191 L92,154 L93,104 L94,64 L95,46 L96,45 L97,43 L98,39 L99,38 L100,37 L101,33 L102,31 L103,32 L104,28 L105,25 L106,25 L107,22 L108,24 L109,21 L110,21 L111,19 L112,19 L113,18 L114,17 L115,16 L116,15 L117,15 L118,15 L119,15 L120,14 L121,12 L122,12 L123,12 L124,12 L125,11 L126,11 L127,11 L128,10 L129,10 L130,9 L131,9 L132,9 L133,9 L134,9 L135,9 L136,9 L137,9 L138,8 L139,8 L140,8 L141,8 L142,8 L143,8 L144,8 L145,8 L146,8 L147,8 L148,8 L149,9 L150,8 L151,8 L152,8 L153,8 L154,9 L155,8 L156,8 L157,9 L158,8 L159,8 L160,8 L161,8 L162,8 L163,8 L164,8 L165,8 L166,8 L167,9 L168,8 L169,8 L170,8 L171,8 L172,8 L173,9 L174,8 L175,8 L176,9 L177,8 L178,8 L179,8 L180,8 L180,-6"/><polyline class="p" points="69.7,60 70,61 71,63 72,66 73,70 74,80 75,78 76,85 77,93 78,108 79,111 80,119 81,126 82,132 83,137 84,141 85,150 86,156 87,161 88,181 89,194 90,200 91,191 92,154 93,104 94,64 94.2,60"/></g><text class="t" x="461.1" y="218.12" font-size="7.9" textLength="23.7" lengthAdjust="spacingAndGlyphs">兵庫県</text><g transform="translate(489.0 242.54) scale(0.7376 -0.10650)"><path class="a" d="M0,-6 L0,9 L1,8 L2,10 L3,10 L4,11 L5,10 L6,9 L7,10 L8,8 L9,10 L10,11 L11,13 L12,10 L13,10 L14,12 L15,10 L16,9 L17,10 L18,11 L19,10 L20,9 L21,10 L22,9 L23,10 L24,8 L25,9 L26,10 L27,9 L28,10 L29,10 L30,9 L31,10 L32,10 L33,13 L34,10 L35,10 L36,10 L37,10 L38,11 L39,12 L40,12 L41,11 L42,10 L43,10 L44,12 L45,13 L46,10 L47,14 L48,14 L49,14 L50,14 L51,18 L52,15 L53,20 L54,20 L55,23 L56,24 L57,23 L58,27 L59,26 L60,28 L61,35 L62,34 L63,39 L64,43 L65,38 L66,44 L67,47 L68,49 L69,48 L70,53 L71,55 L72,70 L73,97 L74,77 L75,76 L76,85 L77,107 L78,99 L79,103 L80,100 L81,138 L82,124 L83,125 L84,157 L85,165 L86,158 L87,173 L88,179 L89,192 L90,200 L91,194 L92,133 L93,104 L94,57 L95,38 L96,38 L97,38 L98,40 L99,33 L100,29 L101,29 L102,24 L103,24 L104,23 L105,20 L106,21 L107,20 L108,19 L109,21 L110,20 L111,18 L112,18 L113,16 L114,17 L115,17 L116,15 L117,14 L118,15 L119,17 L120,10 L121,13 L122,11 L123,13 L124,16 L125,14 L126,12 L127,15 L128,11 L129,12 L130,12 L131,13 L132,13 L133,12 L134,12 L135,12 L136,12 L137,12 L138,11 L139,13 L140,12 L141,12 L142,12 L143,14 L144,12 L145,14 L146,13 L147,12 L148,10 L149,12 L150,12 L151,12 L152,12 L153,12 L154,13 L155,11 L156,11 L157,12 L158,13 L159,12 L160,13 L161,12 L162,11 L163,10 L164,11 L165,13 L166,11 L167,13 L168,12 L169,12 L170,10 L171,12 L172,11 L173,12 L174,10 L175,12 L176,13 L177,11 L178,14 L179,10 L180,16 L180,-6"/><polyline class="p" points="71.3,60 72,70 73,97 74,77 75,76 76,85 77,107 78,99 79,103 80,100 81,138 82,124 83,125 84,157 85,165 86,158 87,173 88,179 89,192 90,200 91,194 92,133 93,104 93.9,60"/></g><text class="t" x="461.1" y="239.74" font-size="7.9" textLength="23.7" lengthAdjust="spacingAndGlyphs">奈良県</text><g transform="translate(489.0 264.16) scale(0.7376 -0.10650)"><path class="a" d="M0,-6 L0,8 L1,8 L2,10 L3,9 L4,8 L5,9 L6,7 L7,9 L8,9 L9,10 L10,7 L11,8 L12,8 L13,7 L14,8 L15,9 L16,8 L17,9 L18,8 L19,7 L20,9 L21,9 L22,9 L23,7 L24,8 L25,8 L26,10 L27,8 L28,9 L29,8 L30,9 L31,8 L32,9 L33,9 L34,10 L35,10 L36,10 L37,9 L38,10 L39,11 L40,11 L41,13 L42,12 L43,13 L44,15 L45,16 L46,18 L47,16 L48,17 L49,17 L50,18 L51,20 L52,23 L53,26 L54,25 L55,24 L56,25 L57,31 L58,30 L59,31 L60,33 L61,35 L62,39 L63,41 L64,45 L65,41 L66,51 L67,48 L68,57 L69,64 L70,63 L71,76 L72,80 L73,85 L74,82 L75,77 L76,97 L77,112 L78,122 L79,106 L80,101 L81,118 L82,125 L83,111 L84,139 L85,141 L86,161 L87,174 L88,165 L89,200 L90,167 L91,155 L92,91 L93,75 L94,56 L95,58 L96,78 L97,59 L98,44 L99,44 L100,40 L101,39 L102,33 L103,33 L104,33 L105,29 L106,27 L107,31 L108,24 L109,23 L110,24 L111,20 L112,22 L113,19 L114,17 L115,20 L116,19 L117,16 L118,17 L119,13 L120,15 L121,14 L122,13 L123,14 L124,12 L125,14 L126,10 L127,14 L128,11 L129,13 L130,10 L131,10 L132,10 L133,10 L134,11 L135,11 L136,11 L137,11 L138,12 L139,10 L140,11 L141,11 L142,9 L143,10 L144,10 L145,10 L146,10 L147,9 L148,11 L149,10 L150,10 L151,10 L152,10 L153,10 L154,10 L155,10 L156,10 L157,10 L158,9 L159,10 L160,9 L161,10 L162,10 L163,9 L164,11 L165,10 L166,9 L167,11 L168,10 L169,11 L170,9 L171,10 L172,10 L173,11 L174,11 L175,12 L176,10 L177,10 L178,11 L179,9 L180,10 L180,-6"/><polyline class="p" points="68.4,60 69,64 70,63 71,76 72,80 73,85 74,82 75,77 76,97 77,112 78,122 79,106 80,101 81,118 82,125 83,111 84,139 85,141 86,161 87,174 88,165 89,200 90,167 91,155 92,91 93,75 93.8,60"/><polyline class="p" points="95.1,60 96,78 96.9,60"/></g><text class="t" x="461.1" y="261.36" font-size="7.9" textLength="23.7" lengthAdjust="spacingAndGlyphs">岡山県</text><g transform="translate(489.0 285.78) scale(0.7376 -0.10650)"><path class="a" d="M0,-6 L0,9 L1,9 L2,11 L3,10 L4,8 L5,10 L6,9 L7,10 L8,9 L9,9 L10,9 L11,9 L12,9 L13,9 L14,9 L15,10 L16,9 L17,9 L18,10 L19,8 L20,9 L21,9 L22,9 L23,9 L24,9 L25,9 L26,9 L27,10 L28,9 L29,10 L30,9 L31,9 L32,9 L33,10 L34,10 L35,9 L36,9 L37,10 L38,10 L39,8 L40,10 L41,10 L42,9 L43,10 L44,11 L45,12 L46,13 L47,12 L48,14 L49,16 L50,15 L51,16 L52,19 L53,20 L54,20 L55,21 L56,25 L57,26 L58,28 L59,27 L60,31 L61,32 L62,38 L63,35 L64,37 L65,41 L66,46 L67,47 L68,43 L69,53 L70,56 L71,59 L72,68 L73,75 L74,89 L75,95 L76,88 L77,87 L78,89 L79,104 L80,116 L81,116 L82,115 L83,142 L84,150 L85,135 L86,153 L87,166 L88,179 L89,197 L90,186 L91,200 L92,142 L93,88 L94,49 L95,25 L96,34 L97,38 L98,37 L99,34 L100,27 L101,19 L102,19 L103,18 L104,18 L105,16 L106,17 L107,14 L108,16 L109,14 L110,14 L111,13 L112,12 L113,12 L114,12 L115,10 L116,11 L117,11 L118,13 L119,13 L120,10 L121,11 L122,11 L123,11 L124,10 L125,13 L126,11 L127,12 L128,11 L129,11 L130,10 L131,11 L132,12 L133,11 L134,10 L135,11 L136,11 L137,11 L138,11 L139,11 L140,10 L141,11 L142,12 L143,10 L144,10 L145,10 L146,12 L147,10 L148,10 L149,11 L150,10 L151,11 L152,12 L153,11 L154,11 L155,11 L156,11 L157,11 L158,11 L159,11 L160,11 L161,11 L162,10 L163,11 L164,10 L165,12 L166,11 L167,12 L168,10 L169,12 L170,12 L171,10 L172,10 L173,11 L174,11 L175,10 L176,10 L177,11 L178,10 L179,11 L180,12 L180,-6"/><polyline class="p" points="71.1,60 72,68 73,75 74,89 75,95 76,88 77,87 78,89 79,104 80,116 81,116 82,115 83,142 84,150 85,135 86,153 87,166 88,179 89,197 90,186 91,200 92,142 93,88 93.7,60"/></g><text class="t" x="461.1" y="282.98" font-size="7.9" textLength="23.7" lengthAdjust="spacingAndGlyphs">広島県</text><g transform="translate(489.0 307.40) scale(0.7376 -0.10650)"><path class="a" d="M0,-6 L0,25 L1,30 L2,0 L3,0 L4,0 L5,0 L6,21 L7,0 L8,14 L9,0 L10,21 L11,0 L12,14 L13,0 L14,0 L15,0 L16,0 L17,27 L18,18 L19,17 L20,0 L21,0 L22,27 L23,17 L24,27 L25,20 L26,22 L27,22 L28,26 L29,11 L30,0 L31,0 L32,11 L33,10 L34,0 L35,28 L36,24 L37,28 L38,18 L39,0 L40,21 L41,0 L42,16 L43,19 L44,23 L45,16 L46,29 L47,24 L48,26 L49,24 L50,45 L51,95 L52,46 L53,32 L54,34 L55,30 L56,36 L57,44 L58,42 L59,46 L60,41 L61,42 L62,67 L63,70 L64,54 L65,74 L66,70 L67,53 L68,74 L69,65 L70,79 L71,104 L72,117 L73,126 L74,111 L75,162 L76,122 L77,97 L78,109 L79,96 L80,132 L81,115 L82,101 L83,147 L84,143 L85,139 L86,151 L87,190 L88,197 L89,200 L90,141 L91,192 L92,163 L93,114 L94,39 L95,28 L96,58 L97,55 L98,47 L99,38 L100,24 L101,28 L102,21 L103,21 L104,23 L105,22 L106,25 L107,19 L108,21 L109,21 L110,22 L111,17 L112,20 L113,19 L114,18 L115,17 L116,21 L117,20 L118,19 L119,0 L120,17 L121,30 L122,15 L123,14 L124,11 L125,14 L126,0 L127,23 L128,0 L129,0 L130,19 L131,17 L132,0 L133,15 L134,0 L135,10 L136,0 L137,10 L138,29 L139,0 L140,0 L141,0 L142,26 L143,14 L144,19 L145,0 L146,0 L147,12 L148,0 L149,0 L150,15 L151,0 L152,0 L153,0 L154,0 L155,25 L156,0 L157,21 L158,0 L159,23 L160,15 L161,24 L162,0 L163,17 L164,11 L165,11 L166,25 L167,0 L168,17 L169,13 L170,0 L171,24 L172,0 L173,0 L174,0 L175,0 L176,0 L177,0 L178,14 L179,0 L180,17 L180,-6"/><polyline class="p" points="50.3,60 51,95 51.7,60"/><polyline class="p" points="61.7,60 62,67 63,70 63.6,60"/><polyline class="p" points="64.3,60 65,74 66,70 66.6,60"/><polyline class="p" points="67.3,60 68,74 69,65 70,79 71,104 72,117 73,126 74,111 75,162 76,122 77,97 78,109 79,96 80,132 81,115 82,101 83,147 84,143 85,139 86,151 87,190 88,197 89,200 90,141 91,192 92,163 93,114 93.7,60"/></g><text class="t" x="461.1" y="304.6" font-size="7.9" textLength="23.7" lengthAdjust="spacingAndGlyphs">香川県</text><g transform="translate(489.0 329.02) scale(0.7376 -0.10650)"><path class="a" d="M0,-6 L0,18 L1,17 L2,29 L3,35 L4,31 L5,17 L6,26 L7,0 L8,0 L9,17 L10,26 L11,12 L12,22 L13,0 L14,12 L15,0 L16,35 L17,19 L18,34 L19,0 L20,33 L21,0 L22,32 L23,0 L24,26 L25,0 L26,17 L27,31 L28,0 L29,12 L30,19 L31,26 L32,24 L33,25 L34,23 L35,0 L36,0 L37,0 L38,30 L39,19 L40,0 L41,20 L42,29 L43,32 L44,12 L45,0 L46,22 L47,13 L48,33 L49,77 L50,37 L51,22 L52,26 L53,33 L54,34 L55,24 L56,45 L57,26 L58,34 L59,34 L60,39 L61,44 L62,28 L63,55 L64,43 L65,40 L66,51 L67,46 L68,79 L69,90 L70,72 L71,72 L72,61 L73,85 L74,116 L75,147 L76,150 L77,158 L78,148 L79,100 L80,134 L81,122 L82,115 L83,139 L84,169 L85,161 L86,193 L87,194 L88,183 L89,149 L90,200 L91,180 L92,126 L93,51 L94,43 L95,28 L96,25 L97,25 L98,26 L99,23 L100,26 L101,33 L102,27 L103,16 L104,20 L105,18 L106,20 L107,28 L108,35 L109,30 L110,24 L111,24 L112,0 L113,16 L114,19 L115,0 L116,19 L117,33 L118,12 L119,22 L120,0 L121,26 L122,21 L123,0 L124,0 L125,29 L126,0 L127,0 L128,20 L129,19 L130,0 L131,34 L132,0 L133,0 L134,0 L135,32 L136,22 L137,0 L138,17 L139,13 L140,26 L141,14 L142,0 L143,0 L144,0 L145,28 L146,21 L147,0 L148,32 L149,0 L150,19 L151,16 L152,0 L153,24 L154,31 L155,25 L156,0 L157,13 L158,0 L159,0 L160,0 L161,21 L162,16 L163,13 L164,12 L165,0 L166,0 L167,20 L168,14 L169,0 L170,14 L171,23 L172,27 L173,27 L174,21 L175,14 L176,0 L177,0 L178,0 L179,28 L180,13 L180,-6"/><polyline class="p" points="48.6,60 49,77 49.4,60"/><polyline class="p" points="67.4,60 68,79 69,90 70,72 71,72 72,61 73,85 74,116 75,147 76,150 77,158 78,148 79,100 80,134 81,122 82,115 83,139 84,169 85,161 86,193 87,194 88,183 89,149 90,200 91,180 92,126 92.9,60"/></g><text class="t" x="453.2" y="326.22" font-size="7.9" textLength="31.6" lengthAdjust="spacingAndGlyphs">和歌山県</text><g transform="translate(489.0 350.64) scale(0.7376 -0.10650)"><path class="a" d="M0,-6 L0,12 L1,0 L2,18 L3,0 L4,19 L5,0 L6,0 L7,12 L8,0 L9,0 L10,0 L11,13 L12,16 L13,0 L14,0 L15,19 L16,18 L17,17 L18,12 L19,0 L20,0 L21,0 L22,0 L23,9 L24,0 L25,16 L26,11 L27,0 L28,17 L29,19 L30,16 L31,0 L32,17 L33,0 L34,0 L35,0 L36,17 L37,11 L38,0 L39,0 L40,10 L41,0 L42,19 L43,17 L44,10 L45,18 L46,0 L47,18 L48,15 L49,33 L50,59 L51,48 L52,44 L53,47 L54,53 L55,33 L56,60 L57,49 L58,58 L59,57 L60,52 L61,56 L62,61 L63,56 L64,63 L65,56 L66,56 L67,77 L68,74 L69,61 L70,72 L71,56 L72,76 L73,74 L74,65 L75,60 L76,63 L77,58 L78,81 L79,87 L80,107 L81,101 L82,115 L83,148 L84,142 L85,167 L86,151 L87,170 L88,140 L89,195 L90,166 L91,200 L92,105 L93,57 L94,36 L95,28 L96,27 L97,23 L98,26 L99,27 L100,15 L101,11 L102,16 L103,16 L104,19 L105,13 L106,0 L107,11 L108,9 L109,0 L110,17 L111,15 L112,0 L113,0 L114,0 L115,0 L116,18 L117,13 L118,17 L119,0 L120,16 L121,0 L122,0 L123,18 L124,18 L125,10 L126,12 L127,13 L128,19 L129,0 L130,0 L131,0 L132,18 L133,0 L134,12 L135,8 L136,0 L137,0 L138,7 L139,0 L140,0 L141,0 L142,0 L143,9 L144,17 L145,15 L146,0 L147,12 L148,0 L149,0 L150,0 L151,0 L152,9 L153,0 L154,9 L155,0 L156,14 L157,8 L158,0 L159,0 L160,0 L161,16 L162,14 L163,7 L164,0 L165,0 L166,0 L167,16 L168,17 L169,0 L170,0 L171,0 L172,8 L173,0 L174,16 L175,10 L176,0 L177,17 L178,8 L179,7 L180,0 L180,-6"/><polyline class="p" points="61.8,60 62,61 62.2,60"/><polyline class="p" points="63.6,60 64,63 64.4,60"/><polyline class="p" points="66.2,60 67,77 68,74 69,61 70,72 70.8,60"/><polyline class="p" points="71.2,60 72,76 73,74 74,65 75,60"/><polyline class="p" points="75,60 76,63 76.6,60"/><polyline class="p" points="77.1,60 78,81 79,87 80,107 81,101 82,115 83,148 84,142 85,167 86,151 87,170 88,140 89,195 90,166 91,200 92,105 92.9,60"/></g><text class="t" x="461.1" y="347.84" font-size="7.9" textLength="23.7" lengthAdjust="spacingAndGlyphs">山口県</text><g transform="translate(489.0 372.26) scale(0.7376 -0.10650)"><path class="a" d="M0,-6 L0,0 L1,0 L2,0 L3,0 L4,0 L5,0 L6,0 L7,0 L8,0 L9,18 L10,12 L11,21 L12,0 L13,0 L14,0 L15,0 L16,0 L17,0 L18,26 L19,0 L20,0 L21,0 L22,0 L23,19 L24,0 L25,0 L26,0 L27,0 L28,11 L29,0 L30,32 L31,18 L32,28 L33,0 L34,23 L35,14 L36,29 L37,28 L38,12 L39,0 L40,14 L41,0 L42,0 L43,0 L44,0 L45,13 L46,0 L47,0 L48,26 L49,0 L50,16 L51,30 L52,33 L53,54 L54,47 L55,39 L56,32 L57,25 L58,29 L59,28 L60,31 L61,46 L62,51 L63,49 L64,61 L65,53 L66,46 L67,63 L68,69 L69,48 L70,72 L71,69 L72,63 L73,73 L74,80 L75,98 L76,77 L77,86 L78,84 L79,70 L80,83 L81,105 L82,95 L83,130 L84,88 L85,145 L86,179 L87,147 L88,172 L89,200 L90,139 L91,158 L92,97 L93,48 L94,27 L95,28 L96,19 L97,26 L98,21 L99,15 L100,0 L101,0 L102,31 L103,26 L104,0 L105,17 L106,29 L107,0 L108,0 L109,32 L110,20 L111,0 L112,19 L113,12 L114,18 L115,0 L116,15 L117,23 L118,23 L119,0 L120,0 L121,12 L122,18 L123,25 L124,68 L125,29 L126,1 L127,26 L128,21 L129,24 L130,0 L131,0 L132,16 L133,0 L134,11 L135,30 L136,29 L137,0 L138,21 L139,0 L140,29 L141,0 L142,0 L143,17 L144,0 L145,0 L146,11 L147,0 L148,0 L149,0 L150,23 L151,21 L152,14 L153,14 L154,26 L155,17 L156,12 L157,13 L158,28 L159,17 L160,28 L161,31 L162,0 L163,22 L164,19 L165,0 L166,22 L167,0 L168,24 L169,32 L170,26 L171,0 L172,0 L173,0 L174,0 L175,0 L176,0 L177,0 L178,0 L179,0 L180,0 L180,-6"/><polyline class="p" points="63.9,60 64,61 64.1,60"/><polyline class="p" points="66.8,60 67,63 68,69 68.4,60"/><polyline class="p" points="69.5,60 70,72 71,69 72,63 73,73 74,80 75,98 76,77 77,86 78,84 79,70 80,83 81,105 82,95 83,130 84,88 85,145 86,179 87,147 88,172 89,200 90,139 91,158 92,97 92.8,60"/><polyline class="p" points="123.8,60 124,68 124.2,60"/></g><text class="t" x="461.1" y="369.46" font-size="7.9" textLength="23.7" lengthAdjust="spacingAndGlyphs">徳島県</text><g transform="translate(489.0 393.88) scale(0.7376 -0.10650)"><path class="a" d="M0,-6 L0,6 L1,15 L2,12 L3,9 L4,5 L5,7 L6,9 L7,6 L8,21 L9,7 L10,8 L11,6 L12,10 L13,18 L14,12 L15,9 L16,6 L17,6 L18,7 L19,7 L20,11 L21,8 L22,7 L23,59 L24,79 L25,63 L26,27 L27,17 L28,12 L29,12 L30,16 L31,13 L32,22 L33,20 L34,13 L35,13 L36,14 L37,11 L38,14 L39,13 L40,14 L41,13 L42,12 L43,17 L44,14 L45,21 L46,15 L47,20 L48,24 L49,12 L50,14 L51,21 L52,17 L53,26 L54,21 L55,21 L56,26 L57,28 L58,34 L59,29 L60,28 L61,49 L62,52 L63,56 L64,56 L65,58 L66,55 L67,63 L68,75 L69,76 L70,78 L71,59 L72,82 L73,87 L74,75 L75,79 L76,86 L77,84 L78,92 L79,101 L80,106 L81,104 L82,104 L83,91 L84,110 L85,118 L86,164 L87,191 L88,200 L89,165 L90,160 L91,170 L92,104 L93,59 L94,45 L95,40 L96,63 L97,41 L98,37 L99,29 L100,21 L101,25 L102,30 L103,17 L104,16 L105,15 L106,13 L107,15 L108,13 L109,13 L110,13 L111,18 L112,20 L113,16 L114,16 L115,14 L116,17 L117,14 L118,16 L119,16 L120,15 L121,17 L122,13 L123,19 L124,16 L125,19 L126,12 L127,10 L128,14 L129,21 L130,14 L131,13 L132,15 L133,12 L134,13 L135,9 L136,11 L137,11 L138,21 L139,10 L140,13 L141,11 L142,14 L143,11 L144,13 L145,8 L146,8 L147,16 L148,14 L149,12 L150,10 L151,10 L152,16 L153,12 L154,11 L155,11 L156,9 L157,13 L158,10 L159,11 L160,17 L161,17 L162,14 L163,10 L164,11 L165,16 L166,8 L167,12 L168,14 L169,16 L170,8 L171,11 L172,17 L173,10 L174,20 L175,12 L176,15 L177,9 L178,9 L179,10 L180,12 L180,-6"/><polyline class="p" points="23.1,60 24,79 25,63 25.1,60"/><polyline class="p" points="66.6,60 67,63 68,75 69,76 70,78 70.9,60"/><polyline class="p" points="71,60 72,82 73,87 74,75 75,79 76,86 77,84 78,92 79,101 80,106 81,104 82,104 83,91 84,110 85,118 86,164 87,191 88,200 89,165 90,160 91,170 92,104 93,60"/><polyline class="p" points="95.9,60 96,63 96.1,60"/></g><text class="t" x="461.1" y="391.08" font-size="7.9" textLength="23.7" lengthAdjust="spacingAndGlyphs">愛媛県</text><g transform="translate(489.0 415.50) scale(0.7376 -0.10650)"><path class="a" d="M0,-6 L0,6 L1,6 L2,6 L3,7 L4,6 L5,7 L6,6 L7,6 L8,6 L9,6 L10,7 L11,7 L12,6 L13,6 L14,8 L15,7 L16,8 L17,7 L18,9 L19,7 L20,8 L21,7 L22,7 L23,8 L24,8 L25,8 L26,8 L27,8 L28,8 L29,9 L30,8 L31,9 L32,10 L33,9 L34,9 L35,9 L36,10 L37,10 L38,10 L39,10 L40,10 L41,11 L42,10 L43,11 L44,13 L45,12 L46,13 L47,14 L48,15 L49,16 L50,15 L51,17 L52,20 L53,22 L54,22 L55,24 L56,25 L57,31 L58,29 L59,34 L60,37 L61,43 L62,53 L63,54 L64,61 L65,63 L66,60 L67,66 L68,72 L69,71 L70,78 L71,76 L72,78 L73,80 L74,85 L75,95 L76,88 L77,96 L78,89 L79,103 L80,107 L81,116 L82,121 L83,130 L84,164 L85,178 L86,200 L87,187 L88,190 L89,174 L90,173 L91,189 L92,129 L93,57 L94,36 L95,25 L96,21 L97,18 L98,18 L99,15 L100,16 L101,15 L102,13 L103,12 L104,12 L105,12 L106,11 L107,10 L108,12 L109,10 L110,10 L111,10 L112,10 L113,9 L114,9 L115,11 L116,10 L117,10 L118,10 L119,9 L120,9 L121,10 L122,9 L123,8 L124,8 L125,8 L126,9 L127,8 L128,8 L129,7 L130,8 L131,7 L132,8 L133,7 L134,8 L135,7 L136,8 L137,8 L138,8 L139,7 L140,7 L141,7 L142,7 L143,7 L144,8 L145,8 L146,8 L147,7 L148,7 L149,6 L150,7 L151,7 L152,7 L153,7 L154,7 L155,6 L156,7 L157,7 L158,7 L159,7 L160,7 L161,7 L162,7 L163,6 L164,7 L165,7 L166,6 L167,6 L168,6 L169,6 L170,7 L171,8 L172,7 L173,6 L174,6 L175,6 L176,7 L177,5 L178,7 L179,7 L180,6 L180,-6"/><polyline class="p" points="63.9,60 64,61 65,63 66,60"/><polyline class="p" points="66,60 67,66 68,72 69,71 70,78 71,76 72,78 73,80 74,85 75,95 76,88 77,96 78,89 79,103 80,107 81,116 82,121 83,130 84,164 85,178 86,200 87,187 88,190 89,174 90,173 91,189 92,129 93,60"/></g><text class="t" x="461.1" y="412.7" font-size="7.9" textLength="23.7" lengthAdjust="spacingAndGlyphs">福岡県</text><g transform="translate(489.0 437.12) scale(0.7376 -0.10650)"><path class="a" d="M0,-6 L0,0 L1,0 L2,0 L3,0 L4,0 L5,0 L6,0 L7,8 L8,26 L9,8 L10,34 L11,25 L12,0 L13,0 L14,0 L15,0 L16,23 L17,0 L18,18 L19,0 L20,0 L21,15 L22,21 L23,33 L24,13 L25,0 L26,0 L27,0 L28,30 L29,26 L30,25 L31,0 L32,0 L33,0 L34,0 L35,0 L36,30 L37,15 L38,28 L39,0 L40,0 L41,0 L42,27 L43,32 L44,50 L45,61 L46,58 L47,59 L48,56 L49,52 L50,65 L51,63 L52,62 L53,93 L54,51 L55,68 L56,55 L57,56 L58,50 L59,58 L60,84 L61,93 L62,75 L63,91 L64,76 L65,76 L66,97 L67,96 L68,68 L69,83 L70,58 L71,70 L72,60 L73,88 L74,86 L75,103 L76,81 L77,69 L78,97 L79,93 L80,112 L81,109 L82,124 L83,126 L84,95 L85,143 L86,180 L87,157 L88,170 L89,200 L90,172 L91,171 L92,71 L93,70 L94,121 L95,36 L96,64 L97,48 L98,26 L99,27 L100,12 L101,0 L102,23 L103,0 L104,32 L105,0 L106,13 L107,0 L108,21 L109,13 L110,28 L111,0 L112,30 L113,34 L114,18 L115,27 L116,30 L117,27 L118,0 L119,29 L120,21 L121,19 L122,0 L123,0 L124,0 L125,0 L126,0 L127,16 L128,31 L129,0 L130,18 L131,0 L132,0 L133,29 L134,20 L135,0 L136,34 L137,20 L138,25 L139,0 L140,15 L141,26 L142,21 L143,12 L144,33 L145,0 L146,16 L147,12 L148,34 L149,0 L150,23 L151,0 L152,25 L153,22 L154,0 L155,0 L156,24 L157,31 L158,15 L159,12 L160,25 L161,24 L162,0 L163,16 L164,0 L165,0 L166,22 L167,0 L168,33 L169,23 L170,34 L171,23 L172,0 L173,34 L174,20 L175,0 L176,0 L177,27 L178,0 L179,31 L180,32 L180,-6"/><polyline class="p" points="44.9,60 45,61 45.3,60"/><polyline class="p" points="49.6,60 50,65 51,63 52,62 53,93 53.8,60"/><polyline class="p" points="54.5,60 55,68 55.6,60"/><polyline class="p" points="59.1,60 60,84 61,93 62,75 63,91 64,76 65,76 66,97 67,96 68,68 69,83 69.9,60"/><polyline class="p" points="70.2,60 71,70 72,60"/><polyline class="p" points="72,60 73,88 74,86 75,103 76,81 77,69 78,97 79,93 80,112 81,109 82,124 83,126 84,95 85,143 86,180 87,157 88,170 89,200 90,172 91,171 92,71 93,70 94,121 94.7,60"/><polyline class="p" points="95.9,60 96,64 96.2,60"/></g><text class="t" x="461.1" y="434.32" font-size="7.9" textLength="23.7" lengthAdjust="spacingAndGlyphs">高知県</text><g transform="translate(489.0 458.74) scale(0.7376 -0.10650)"><path class="a" d="M0,-6 L0,0 L1,0 L2,0 L3,0 L4,22 L5,16 L6,0 L7,15 L8,22 L9,12 L10,20 L11,0 L12,0 L13,22 L14,0 L15,0 L16,0 L17,16 L18,9 L19,9 L20,0 L21,11 L22,12 L23,18 L24,0 L25,8 L26,16 L27,19 L28,0 L29,19 L30,0 L31,13 L32,22 L33,13 L34,0 L35,18 L36,9 L37,0 L38,11 L39,0 L40,13 L41,0 L42,0 L43,7 L44,15 L45,16 L46,19 L47,15 L48,19 L49,15 L50,15 L51,23 L52,15 L53,21 L54,23 L55,22 L56,40 L57,26 L58,38 L59,42 L60,49 L61,38 L62,51 L63,49 L64,59 L65,41 L66,42 L67,44 L68,41 L69,48 L70,42 L71,56 L72,46 L73,57 L74,57 L75,61 L76,90 L77,200 L78,112 L79,91 L80,79 L81,100 L82,132 L83,163 L84,138 L85,167 L86,173 L87,115 L88,182 L89,132 L90,173 L91,147 L92,70 L93,42 L94,25 L95,23 L96,22 L97,28 L98,17 L99,18 L100,12 L101,9 L102,15 L103,18 L104,0 L105,13 L106,0 L107,0 L108,0 L109,0 L110,0 L111,19 L112,0 L113,0 L114,0 L115,9 L116,14 L117,0 L118,0 L119,10 L120,13 L121,18 L122,16 L123,8 L124,0 L125,0 L126,13 L127,18 L128,0 L129,0 L130,0 L131,10 L132,8 L133,0 L134,0 L135,0 L136,0 L137,0 L138,0 L139,0 L140,17 L141,10 L142,10 L143,0 L144,0 L145,0 L146,21 L147,8 L148,11 L149,0 L150,0 L151,0 L152,0 L153,9 L154,0 L155,0 L156,0 L157,18 L158,15 L159,0 L160,14 L161,0 L162,9 L163,13 L164,0 L165,0 L166,0 L167,17 L168,0 L169,21 L170,0 L171,8 L172,8 L173,0 L174,0 L175,21 L176,21 L177,20 L178,18 L179,13 L180,0 L180,-6"/><polyline class="p" points="74.8,60 75,61 76,90 77,200 78,112 79,91 80,79 81,100 82,132 83,163 84,138 85,167 86,173 87,115 88,182 89,132 90,173 91,147 92,70 92.4,60"/></g><text class="t" x="461.1" y="455.94" font-size="7.9" textLength="23.7" lengthAdjust="spacingAndGlyphs">佐賀県</text><g transform="translate(489.0 480.36) scale(0.7376 -0.10650)"><path class="a" d="M0,-6 L0,7 L1,9 L2,8 L3,9 L4,6 L5,7 L6,7 L7,10 L8,10 L9,8 L10,9 L11,7 L12,9 L13,7 L14,8 L15,9 L16,9 L17,6 L18,7 L19,12 L20,8 L21,8 L22,6 L23,7 L24,10 L25,6 L26,6 L27,7 L28,13 L29,8 L30,7 L31,11 L32,7 L33,6 L34,9 L35,7 L36,10 L37,10 L38,10 L39,7 L40,8 L41,9 L42,11 L43,10 L44,13 L45,20 L46,21 L47,23 L48,26 L49,40 L50,74 L51,39 L52,22 L53,19 L54,18 L55,24 L56,18 L57,20 L58,22 L59,23 L60,23 L61,24 L62,26 L63,34 L64,37 L65,27 L66,35 L67,38 L68,45 L69,44 L70,49 L71,47 L72,51 L73,54 L74,65 L75,66 L76,66 L77,74 L78,78 L79,79 L80,83 L81,90 L82,119 L83,103 L84,110 L85,116 L86,121 L87,128 L88,142 L89,141 L90,200 L91,132 L92,120 L93,68 L94,31 L95,28 L96,28 L97,43 L98,60 L99,44 L100,23 L101,19 L102,17 L103,22 L104,23 L105,15 L106,16 L107,23 L108,16 L109,18 L110,18 L111,17 L112,19 L113,16 L114,18 L115,15 L116,17 L117,16 L118,15 L119,16 L120,13 L121,15 L122,18 L123,16 L124,13 L125,16 L126,19 L127,14 L128,14 L129,14 L130,13 L131,15 L132,18 L133,14 L134,12 L135,12 L136,14 L137,15 L138,17 L139,11 L140,10 L141,12 L142,12 L143,11 L144,12 L145,12 L146,10 L147,11 L148,11 L149,14 L150,12 L151,9 L152,10 L153,9 L154,11 L155,11 L156,11 L157,12 L158,11 L159,11 L160,13 L161,9 L162,8 L163,12 L164,10 L165,14 L166,9 L167,11 L168,14 L169,9 L170,12 L171,8 L172,11 L173,9 L174,11 L175,12 L176,9 L177,9 L178,12 L179,10 L180,7 L180,-6"/><polyline class="p" points="49.6,60 50,74 50.4,60"/><polyline class="p" points="73.5,60 74,65 75,66 76,66 77,74 78,78 79,79 80,83 81,90 82,119 83,103 84,110 85,116 86,121 87,128 88,142 89,141 90,200 91,132 92,120 93,68 93.2,60"/></g><text class="t" x="461.1" y="477.56" font-size="7.9" textLength="23.7" lengthAdjust="spacingAndGlyphs">大分県</text><g transform="translate(489.0 501.98) scale(0.7376 -0.10650)"><path class="a" d="M0,-6 L0,8 L1,8 L2,9 L3,9 L4,9 L5,8 L6,8 L7,8 L8,8 L9,9 L10,9 L11,10 L12,12 L13,11 L14,9 L15,10 L16,11 L17,9 L18,15 L19,10 L20,13 L21,13 L22,11 L23,10 L24,13 L25,12 L26,11 L27,10 L28,10 L29,10 L30,14 L31,10 L32,12 L33,15 L34,12 L35,18 L36,15 L37,13 L38,16 L39,15 L40,20 L41,14 L42,14 L43,16 L44,19 L45,17 L46,20 L47,17 L48,26 L49,22 L50,18 L51,22 L52,21 L53,27 L54,23 L55,28 L56,26 L57,29 L58,30 L59,35 L60,38 L61,41 L62,50 L63,52 L64,56 L65,57 L66,68 L67,67 L68,80 L69,75 L70,77 L71,78 L72,65 L73,83 L74,78 L75,93 L76,96 L77,92 L78,95 L79,97 L80,120 L81,112 L82,128 L83,145 L84,200 L85,195 L86,160 L87,150 L88,196 L89,169 L90,154 L91,122 L92,102 L93,55 L94,42 L95,30 L96,26 L97,22 L98,21 L99,20 L100,22 L101,21 L102,19 L103,17 L104,17 L105,18 L106,17 L107,17 L108,18 L109,18 L110,16 L111,16 L112,17 L113,18 L114,16 L115,16 L116,17 L117,16 L118,12 L119,15 L120,16 L121,13 L122,17 L123,17 L124,16 L125,18 L126,14 L127,13 L128,19 L129,18 L130,16 L131,18 L132,13 L133,15 L134,14 L135,17 L136,15 L137,17 L138,13 L139,13 L140,15 L141,15 L142,11 L143,13 L144,14 L145,14 L146,11 L147,15 L148,15 L149,15 L150,12 L151,14 L152,16 L153,14 L154,20 L155,11 L156,11 L157,12 L158,16 L159,12 L160,15 L161,16 L162,12 L163,15 L164,14 L165,12 L166,13 L167,17 L168,11 L169,10 L170,11 L171,12 L172,12 L173,14 L174,12 L175,15 L176,10 L177,14 L178,12 L179,14 L180,11 L180,-6"/><polyline class="p" points="65.3,60 66,68 67,67 68,80 69,75 70,77 71,78 72,65 73,83 74,78 75,93 76,96 77,92 78,95 79,97 80,120 81,112 82,128 83,145 84,200 85,195 86,160 87,150 88,196 89,169 90,154 91,122 92,102 92.9,60"/></g><text class="t" x="461.1" y="499.18" font-size="7.9" textLength="23.7" lengthAdjust="spacingAndGlyphs">熊本県</text><g transform="translate(489.0 523.60) scale(0.7376 -0.10650)"><path class="a" d="M0,-6 L0,0 L1,0 L2,0 L3,0 L4,0 L5,0 L6,0 L7,0 L8,0 L9,0 L10,0 L11,0 L12,17 L13,0 L14,0 L15,0 L16,0 L17,0 L18,27 L19,42 L20,21 L21,0 L22,20 L23,0 L24,0 L25,0 L26,0 L27,0 L28,0 L29,0 L30,0 L31,0 L32,44 L33,36 L34,0 L35,0 L36,0 L37,40 L38,0 L39,0 L40,0 L41,0 L42,31 L43,43 L44,0 L45,39 L46,18 L47,30 L48,0 L49,0 L50,17 L51,0 L52,0 L53,0 L54,30 L55,44 L56,45 L57,43 L58,36 L59,64 L60,60 L61,51 L62,34 L63,39 L64,29 L65,30 L66,33 L67,42 L68,42 L69,57 L70,65 L71,109 L72,108 L73,149 L74,46 L75,67 L76,57 L77,68 L78,79 L79,107 L80,91 L81,134 L82,124 L83,126 L84,200 L85,153 L86,112 L87,147 L88,170 L89,123 L90,144 L91,98 L92,72 L93,70 L94,52 L95,62 L96,39 L97,64 L98,82 L99,23 L100,28 L101,0 L102,34 L103,0 L104,0 L105,37 L106,23 L107,0 L108,14 L109,57 L110,14 L111,19 L112,0 L113,27 L114,16 L115,64 L116,21 L117,0 L118,20 L119,18 L120,0 L121,40 L122,0 L123,0 L124,0 L125,39 L126,0 L127,0 L128,36 L129,0 L130,0 L131,0 L132,0 L133,24 L134,0 L135,25 L136,18 L137,0 L138,37 L139,30 L140,0 L141,0 L142,16 L143,41 L144,0 L145,19 L146,0 L147,24 L148,19 L149,36 L150,21 L151,0 L152,30 L153,0 L154,45 L155,20 L156,31 L157,0 L158,0 L159,0 L160,24 L161,0 L162,21 L163,0 L164,0 L165,0 L166,0 L167,28 L168,0 L169,23 L170,42 L171,40 L172,0 L173,34 L174,26 L175,0 L176,0 L177,0 L178,0 L179,0 L180,0 L180,-6"/><polyline class="p" points="58.9,60 59,64 60,60"/><polyline class="p" points="69.4,60 70,65 71,109 72,108 73,149 73.9,60"/><polyline class="p" points="74.7,60 75,67 75.7,60"/><polyline class="p" points="76.3,60 77,68 78,79 79,107 80,91 81,134 82,124 83,126 84,200 85,153 86,112 87,147 88,170 89,123 90,144 91,98 92,72 93,70 93.6,60"/><polyline class="p" points="94.8,60 95,62 95.1,60"/><polyline class="p" points="96.8,60 97,64 98,82 98.4,60"/><polyline class="p" points="114.9,60 115,64 115.1,60"/></g><text class="t" x="461.1" y="520.8" font-size="7.9" textLength="23.7" lengthAdjust="spacingAndGlyphs">長崎県</text><g transform="translate(489.0 545.22) scale(0.7376 -0.10650)"><path class="a" d="M0,-6 L0,0 L1,0 L2,0 L3,0 L4,0 L5,0 L6,0 L7,0 L8,0 L9,0 L10,0 L11,0 L12,23 L13,0 L14,23 L15,21 L16,0 L17,0 L18,38 L19,26 L20,26 L21,29 L22,0 L23,23 L24,0 L25,39 L26,30 L27,34 L28,19 L29,31 L30,45 L31,40 L32,0 L33,21 L34,31 L35,37 L36,16 L37,0 L38,0 L39,28 L40,0 L41,18 L42,33 L43,43 L44,0 L45,0 L46,0 L47,0 L48,20 L49,44 L50,16 L51,0 L52,43 L53,26 L54,18 L55,20 L56,18 L57,37 L58,70 L59,68 L60,48 L61,31 L62,26 L63,35 L64,29 L65,45 L66,52 L67,53 L68,63 L69,67 L70,66 L71,75 L72,58 L73,78 L74,80 L75,86 L76,94 L77,78 L78,131 L79,112 L80,127 L81,149 L82,166 L83,200 L84,181 L85,177 L86,195 L87,151 L88,147 L89,200 L90,135 L91,105 L92,103 L93,67 L94,49 L95,30 L96,36 L97,39 L98,34 L99,81 L100,94 L101,26 L102,0 L103,0 L104,30 L105,0 L106,22 L107,28 L108,0 L109,0 L110,18 L111,0 L112,28 L113,0 L114,19 L115,30 L116,0 L117,41 L118,25 L119,36 L120,34 L121,29 L122,0 L123,37 L124,29 L125,43 L126,15 L127,0 L128,0 L129,38 L130,29 L131,40 L132,32 L133,37 L134,0 L135,27 L136,30 L137,0 L138,0 L139,16 L140,0 L141,0 L142,0 L143,18 L144,0 L145,34 L146,0 L147,41 L148,30 L149,27 L150,22 L151,0 L152,32 L153,30 L154,0 L155,41 L156,19 L157,0 L158,31 L159,0 L160,19 L161,0 L162,23 L163,0 L164,0 L165,32 L166,30 L167,29 L168,0 L169,0 L170,0 L171,0 L172,15 L173,42 L174,42 L175,22 L176,29 L177,0 L178,26 L179,30 L180,26 L180,-6"/><polyline class="p" points="57.7,60 58,70 59,68 59.4,60"/><polyline class="p" points="67.7,60 68,63 69,67 70,66 71,75 71.9,60"/><polyline class="p" points="72.1,60 73,78 74,80 75,86 76,94 77,78 78,131 79,112 80,127 81,149 82,166 83,200 84,181 85,177 86,195 87,151 88,147 89,200 90,135 91,105 92,103 93,67 93.4,60"/><polyline class="p" points="98.6,60 99,81 100,94 100.5,60"/></g><text class="t" x="461.1" y="542.42" font-size="7.9" textLength="23.7" lengthAdjust="spacingAndGlyphs">宮崎県</text><g transform="translate(489.0 566.84) scale(0.7376 -0.10650)"><path class="a" d="M0,-6 L0,16 L1,0 L2,28 L3,22 L4,30 L5,0 L6,0 L7,19 L8,33 L9,0 L10,26 L11,0 L12,0 L13,0 L14,13 L15,0 L16,0 L17,36 L18,0 L19,0 L20,29 L21,0 L22,0 L23,0 L24,27 L25,0 L26,0 L27,46 L28,36 L29,23 L30,52 L31,36 L32,33 L33,39 L34,32 L35,31 L36,30 L37,43 L38,26 L39,27 L40,33 L41,35 L42,19 L43,17 L44,34 L45,34 L46,33 L47,19 L48,35 L49,35 L50,31 L51,25 L52,32 L53,33 L54,60 L55,40 L56,68 L57,35 L58,42 L59,58 L60,67 L61,65 L62,57 L63,55 L64,41 L65,70 L66,70 L67,39 L68,82 L69,38 L70,56 L71,56 L72,64 L73,115 L74,83 L75,83 L76,52 L77,92 L78,84 L79,109 L80,119 L81,108 L82,115 L83,159 L84,178 L85,200 L86,109 L87,103 L88,111 L89,100 L90,145 L91,87 L92,102 L93,67 L94,51 L95,66 L96,44 L97,53 L98,51 L99,70 L100,50 L101,0 L102,16 L103,26 L104,0 L105,21 L106,0 L107,21 L108,0 L109,14 L110,18 L111,23 L112,0 L113,30 L114,0 L115,26 L116,29 L117,36 L118,16 L119,0 L120,0 L121,37 L122,0 L123,31 L124,0 L125,15 L126,19 L127,0 L128,0 L129,14 L130,22 L131,35 L132,29 L133,24 L134,15 L135,32 L136,0 L137,0 L138,32 L139,28 L140,21 L141,15 L142,0 L143,39 L144,0 L145,19 L146,0 L147,29 L148,29 L149,27 L150,0 L151,0 L152,0 L153,32 L154,35 L155,23 L156,18 L157,32 L158,27 L159,19 L160,23 L161,0 L162,0 L163,0 L164,0 L165,35 L166,0 L167,17 L168,15 L169,26 L170,37 L171,0 L172,0 L173,24 L174,22 L175,33 L176,29 L177,34 L178,27 L179,0 L180,34 L180,-6"/><polyline class="p" points="55.7,60 56,68 56.2,60"/><polyline class="p" points="59.2,60 60,67 61,65 61.6,60"/><polyline class="p" points="64.7,60 65,70 66,70 66.3,60"/><polyline class="p" points="67.5,60 68,82 68.5,60"/><polyline class="p" points="71.5,60 72,64 73,115 74,83 75,83 75.7,60"/><polyline class="p" points="76.2,60 77,92 78,84 79,109 80,119 81,108 82,115 83,159 84,178 85,200 86,109 87,103 88,111 89,100 90,145 91,87 92,102 93,67 93.4,60"/><polyline class="p" points="94.6,60 95,66 95.3,60"/><polyline class="p" points="98.5,60 99,70 99.5,60"/></g><text class="t" x="453.2" y="564.04" font-size="7.9" textLength="31.6" lengthAdjust="spacingAndGlyphs">鹿児島県</text><g transform="translate(489.0 588.46) scale(0.7376 -0.10650)"><path class="a" d="M0,-6 L0,12 L1,18 L2,20 L3,19 L4,25 L5,29 L6,29 L7,41 L8,37 L9,43 L10,55 L11,53 L12,56 L13,53 L14,62 L15,60 L16,63 L17,69 L18,78 L19,81 L20,98 L21,117 L22,110 L23,97 L24,87 L25,101 L26,125 L27,189 L28,200 L29,174 L30,122 L31,106 L32,79 L33,91 L34,95 L35,77 L36,71 L37,77 L38,70 L39,67 L40,71 L41,55 L42,53 L43,49 L44,45 L45,38 L46,40 L47,34 L48,42 L49,43 L50,36 L51,34 L52,32 L53,34 L54,36 L55,36 L56,35 L57,32 L58,33 L59,30 L60,36 L61,35 L62,36 L63,34 L64,34 L65,32 L66,30 L67,28 L68,33 L69,33 L70,37 L71,29 L72,32 L73,32 L74,32 L75,37 L76,28 L77,30 L78,37 L79,29 L80,37 L81,33 L82,30 L83,28 L84,35 L85,31 L86,29 L87,37 L88,34 L89,33 L90,29 L91,40 L92,40 L93,41 L94,50 L95,48 L96,43 L97,43 L98,62 L99,62 L100,43 L101,41 L102,30 L103,28 L104,23 L105,31 L106,25 L107,32 L108,25 L109,23 L110,29 L111,26 L112,27 L113,22 L114,24 L115,21 L116,23 L117,23 L118,21 L119,18 L120,19 L121,19 L122,25 L123,22 L124,21 L125,23 L126,25 L127,23 L128,22 L129,27 L130,22 L131,35 L132,26 L133,30 L134,24 L135,23 L136,30 L137,30 L138,27 L139,25 L140,23 L141,26 L142,30 L143,27 L144,25 L145,31 L146,25 L147,28 L148,22 L149,22 L150,23 L151,22 L152,27 L153,22 L154,24 L155,23 L156,21 L157,20 L158,22 L159,21 L160,21 L161,23 L162,21 L163,21 L164,20 L165,22 L166,24 L167,25 L168,25 L169,21 L170,28 L171,29 L172,24 L173,23 L174,27 L175,30 L176,24 L177,24 L178,21 L179,14 L180,13 L180,-6"/><polyline class="p" points="13.8,60 14,62 15,60"/><polyline class="p" points="15,60 16,63 17,69 18,78 19,81 20,98 21,117 22,110 23,97 24,87 25,101 26,125 27,189 28,200 29,174 30,122 31,106 32,79 33,91 34,95 35,77 36,71 37,77 38,70 39,67 40,71 40.7,60"/><polyline class="p" points="97.9,60 98,62 99,62 99.1,60"/></g><text class="t" x="461.1" y="585.66" font-size="7.9" textLength="23.7" lengthAdjust="spacingAndGlyphs">沖縄県</text><rect x="488.8" y="594.2" width="1.2" height="3.3" fill="#e4e8ff"/><text x="489.0" y="609.3" text-anchor="middle" font-family="Liberation Sans, sans-serif" font-size="9.1" fill="#e1e4f2" stroke="#e1e4f2" stroke-width=".3">1/1</text><rect x="555.2" y="594.2" width="1.2" height="3.3" fill="#e4e8ff"/><text x="555.4" y="609.3" text-anchor="middle" font-family="Liberation Sans, sans-serif" font-size="9.1" fill="#e1e4f2" stroke="#e1e4f2" stroke-width=".3">4/1</text><rect x="622.3" y="594.2" width="1.2" height="3.3" fill="#e4e8ff"/><text x="622.5" y="609.3" text-anchor="middle" font-family="Liberation Sans, sans-serif" font-size="9.1" fill="#e1e4f2" stroke="#e1e4f2" stroke-width=".3">7/1</text><rect x="511.7" y="594.3" width="1.1" height="1.5" fill="#cfd5f2"/><rect x="532.3" y="594.3" width="1.1" height="1.5" fill="#cfd5f2"/><rect x="577.3" y="594.3" width="1.1" height="1.5" fill="#cfd5f2"/><rect x="600.2" y="594.3" width="1.1" height="1.5" fill="#cfd5f2"/><g transform="translate(681.0 91.20) scale(0.7376 -0.10650)"><path class="a" d="M0,-6 L0,9 L1,11 L2,12 L3,12 L4,13 L5,13 L6,12 L7,11 L8,11 L9,11 L10,11 L11,11 L12,11 L13,15 L14,14 L15,12 L16,13 L17,13 L18,14 L19,15 L20,15 L21,15 L22,13 L23,15 L24,15 L25,16 L26,15 L27,17 L28,15 L29,17 L30,16 L31,19 L32,18 L33,18 L34,20 L35,19 L36,19 L37,20 L38,20 L39,21 L40,23 L41,22 L42,22 L43,23 L44,23 L45,23 L46,25 L47,26 L48,25 L49,27 L50,27 L51,31 L52,32 L53,29 L54,35 L55,35 L56,37 L57,36 L58,42 L59,44 L60,48 L61,47 L62,50 L63,53 L64,57 L65,60 L66,61 L67,62 L68,57 L69,64 L70,65 L71,59 L72,63 L73,59 L74,66 L75,67 L76,68 L77,65 L78,71 L79,73 L80,74 L81,72 L82,68 L83,75 L84,77 L85,85 L86,78 L87,83 L88,85 L89,86 L90,76 L91,78 L92,77 L93,82 L94,66 L95,69 L96,71 L97,75 L98,82 L99,88 L100,85 L101,96 L102,97 L103,105 L104,95 L105,128 L106,119 L107,137 L108,147 L109,154 L110,179 L111,178 L112,185 L113,171 L114,159 L115,173 L116,183 L117,181 L118,179 L119,180 L120,200 L121,172 L122,127 L123,115 L124,86 L125,78 L126,70 L127,62 L128,60 L129,53 L130,71 L131,84 L132,73 L133,56 L134,51 L135,39 L136,41 L137,39 L138,34 L139,35 L140,31 L141,31 L142,30 L143,26 L144,26 L145,24 L146,26 L147,25 L148,22 L149,24 L150,21 L151,22 L152,23 L153,22 L154,20 L155,21 L156,21 L157,18 L158,19 L159,21 L160,18 L161,16 L162,18 L163,15 L164,17 L165,16 L166,16 L167,15 L168,16 L169,15 L170,15 L171,14 L172,12 L173,13 L174,12 L175,13 L176,11 L177,12 L178,12 L179,12 L180,13 L180,-6"/><polyline class="p" points="65,60 66,61 67,62 67.4,60"/><polyline class="p" points="68.4,60 69,64 70,65 70.8,60"/><polyline class="p" points="71.2,60 72,63 72.8,60"/><polyline class="p" points="73.1,60 74,66 75,67 76,68 77,65 78,71 79,73 80,74 81,72 82,68 83,75 84,77 85,85 86,78 87,83 88,85 89,86 90,76 91,78 92,77 93,82 94,66 95,69 96,71 97,75 98,82 99,88 100,85 101,96 102,97 103,105 104,95 105,128 106,119 107,137 108,147 109,154 110,179 111,178 112,185 113,171 114,159 115,173 116,183 117,181 118,179 119,180 120,200 121,172 122,127 123,115 124,86 125,78 126,70 127,62 128,60"/><polyline class="p" points="129.4,60 130,71 131,84 132,73 132.8,60"/></g><text class="t" x="653.1" y="88.4" font-size="7.9" textLength="23.7" lengthAdjust="spacingAndGlyphs">北海道</text><g transform="translate(681.0 112.82) scale(0.7376 -0.10650)"><path class="a" d="M0,-6 L0,13 L1,12 L2,10 L3,13 L4,10 L5,9 L6,9 L7,10 L8,11 L9,10 L10,8 L11,9 L12,10 L13,10 L14,12 L15,14 L16,12 L17,15 L18,16 L19,11 L20,14 L21,9 L22,14 L23,18 L24,13 L25,19 L26,18 L27,13 L28,17 L29,11 L30,13 L31,13 L32,13 L33,17 L34,12 L35,17 L36,18 L37,13 L38,15 L39,26 L40,12 L41,15 L42,13 L43,19 L44,13 L45,13 L46,17 L47,14 L48,20 L49,23 L50,22 L51,19 L52,24 L53,16 L54,19 L55,20 L56,17 L57,18 L58,17 L59,20 L60,19 L61,18 L62,20 L63,24 L64,20 L65,20 L66,25 L67,29 L68,22 L69,26 L70,23 L71,35 L72,60 L73,21 L74,24 L75,24 L76,32 L77,34 L78,30 L79,27 L80,35 L81,27 L82,46 L83,44 L84,54 L85,73 L86,65 L87,71 L88,57 L89,71 L90,66 L91,74 L92,85 L93,69 L94,81 L95,72 L96,67 L97,68 L98,100 L99,94 L100,94 L101,115 L102,125 L103,145 L104,147 L105,168 L106,200 L107,123 L108,92 L109,76 L110,66 L111,81 L112,70 L113,56 L114,51 L115,41 L116,40 L117,45 L118,34 L119,32 L120,21 L121,29 L122,24 L123,31 L124,21 L125,24 L126,21 L127,19 L128,20 L129,18 L130,24 L131,21 L132,25 L133,21 L134,20 L135,21 L136,19 L137,24 L138,19 L139,19 L140,15 L141,15 L142,13 L143,22 L144,20 L145,17 L146,17 L147,25 L148,16 L149,16 L150,19 L151,17 L152,19 L153,17 L154,17 L155,17 L156,20 L157,20 L158,18 L159,13 L160,17 L161,14 L162,14 L163,12 L164,16 L165,19 L166,17 L167,18 L168,22 L169,13 L170,15 L171,18 L172,16 L173,12 L174,14 L175,16 L176,16 L177,17 L178,18 L179,20 L180,19 L180,-6"/><polyline class="p" points="84.3,60 85,73 86,65 87,71 87.8,60"/><polyline class="p" points="88.2,60 89,71 90,66 91,74 92,85 93,69 94,81 95,72 96,67 97,68 98,100 99,94 100,94 101,115 102,125 103,145 104,147 105,168 106,200 107,123 108,92 109,76 110,66 111,81 112,70 112.7,60"/></g><text class="t" x="653.1" y="110.02" font-size="7.9" textLength="23.7" lengthAdjust="spacingAndGlyphs">青森県</text><g transform="translate(681.0 134.44) scale(0.7376 -0.10650)"><path class="a" d="M0,-6 L0,17 L1,34 L2,17 L3,17 L4,21 L5,23 L6,18 L7,29 L8,13 L9,23 L10,18 L11,21 L12,19 L13,21 L14,19 L15,18 L16,19 L17,17 L18,28 L19,20 L20,21 L21,18 L22,28 L23,15 L24,19 L25,19 L26,19 L27,22 L28,18 L29,19 L30,21 L31,21 L32,27 L33,19 L34,30 L35,30 L36,24 L37,23 L38,26 L39,34 L40,29 L41,15 L42,29 L43,24 L44,23 L45,38 L46,26 L47,99 L48,25 L49,39 L50,30 L51,28 L52,41 L53,32 L54,27 L55,33 L56,30 L57,24 L58,32 L59,27 L60,36 L61,33 L62,35 L63,23 L64,19 L65,25 L66,33 L67,25 L68,29 L69,34 L70,35 L71,34 L72,34 L73,35 L74,29 L75,51 L76,37 L77,37 L78,32 L79,42 L80,60 L81,43 L82,54 L83,87 L84,59 L85,102 L86,99 L87,117 L88,87 L89,113 L90,128 L91,98 L92,111 L93,102 L94,93 L95,116 L96,143 L97,181 L98,200 L99,161 L100,184 L101,136 L102,107 L103,164 L104,129 L105,106 L106,92 L107,69 L108,81 L109,83 L110,127 L111,79 L112,48 L113,57 L114,48 L115,41 L116,44 L117,25 L118,44 L119,41 L120,31 L121,20 L122,24 L123,27 L124,28 L125,22 L126,36 L127,26 L128,32 L129,28 L130,32 L131,27 L132,26 L133,32 L134,33 L135,30 L136,31 L137,28 L138,27 L139,30 L140,26 L141,22 L142,33 L143,32 L144,31 L145,32 L146,33 L147,20 L148,24 L149,23 L150,26 L151,25 L152,21 L153,23 L154,29 L155,23 L156,27 L157,19 L158,25 L159,24 L160,18 L161,42 L162,35 L163,30 L164,29 L165,30 L166,25 L167,23 L168,22 L169,36 L170,33 L171,22 L172,36 L173,27 L174,22 L175,25 L176,21 L177,20 L178,33 L179,26 L180,27 L180,-6"/><polyline class="p" points="46.5,60 47,99 47.5,60"/><polyline class="p" points="82.2,60 83,87 84,60"/><polyline class="p" points="84,60 85,102 86,99 87,117 88,87 89,113 90,128 91,98 92,111 93,102 94,93 95,116 96,143 97,181 98,200 99,161 100,184 101,136 102,107 103,164 104,129 105,106 106,92 107,69 108,81 109,83 110,127 111,79 111.6,60"/></g><text class="t" x="653.1" y="131.64" font-size="7.9" textLength="23.7" lengthAdjust="spacingAndGlyphs">秋田県</text><g transform="translate(681.0 156.06) scale(0.7376 -0.10650)"><path class="a" d="M0,-6 L0,13 L1,11 L2,15 L3,12 L4,10 L5,14 L6,9 L7,11 L8,10 L9,18 L10,10 L11,11 L12,10 L13,11 L14,12 L15,13 L16,12 L17,11 L18,10 L19,15 L20,12 L21,12 L22,14 L23,15 L24,10 L25,12 L26,11 L27,15 L28,14 L29,11 L30,19 L31,20 L32,14 L33,17 L34,16 L35,12 L36,13 L37,15 L38,14 L39,17 L40,14 L41,12 L42,22 L43,16 L44,19 L45,14 L46,18 L47,19 L48,18 L49,18 L50,15 L51,24 L52,18 L53,21 L54,19 L55,21 L56,16 L57,19 L58,21 L59,21 L60,17 L61,23 L62,22 L63,27 L64,29 L65,21 L66,21 L67,26 L68,25 L69,37 L70,24 L71,25 L72,18 L73,27 L74,28 L75,28 L76,37 L77,26 L78,31 L79,28 L80,29 L81,31 L82,38 L83,52 L84,58 L85,66 L86,76 L87,90 L88,93 L89,120 L90,140 L91,153 L92,156 L93,130 L94,103 L95,108 L96,125 L97,164 L98,200 L99,122 L100,101 L101,100 L102,94 L103,128 L104,83 L105,99 L106,74 L107,77 L108,74 L109,83 L110,64 L111,60 L112,44 L113,35 L114,32 L115,26 L116,27 L117,24 L118,22 L119,19 L120,22 L121,17 L122,19 L123,16 L124,16 L125,21 L126,22 L127,21 L128,19 L129,17 L130,21 L131,16 L132,19 L133,14 L134,16 L135,20 L136,21 L137,16 L138,19 L139,20 L140,16 L141,22 L142,16 L143,14 L144,16 L145,17 L146,16 L147,16 L148,17 L149,22 L150,18 L151,17 L152,17 L153,17 L154,20 L155,14 L156,18 L157,13 L158,16 L159,15 L160,12 L161,18 L162,15 L163,19 L164,19 L165,15 L166,19 L167,14 L168,21 L169,14 L170,15 L171,19 L172,13 L173,13 L174,12 L175,14 L176,16 L177,11 L178,14 L179,14 L180,16 L180,-6"/><polyline class="p" points="84.2,60 85,66 86,76 87,90 88,93 89,120 90,140 91,153 92,156 93,130 94,103 95,108 96,125 97,164 98,200 99,122 100,101 101,100 102,94 103,128 104,83 105,99 106,74 107,77 108,74 109,83 110,64 111,60"/></g><text class="t" x="653.1" y="153.26" font-size="7.9" textLength="23.7" lengthAdjust="spacingAndGlyphs">岩手県</text><g transform="translate(681.0 177.68) scale(0.7376 -0.10650)"><path class="a" d="M0,-6 L0,5 L1,6 L2,6 L3,6 L4,6 L5,6 L6,6 L7,6 L8,6 L9,6 L10,6 L11,6 L12,6 L13,7 L14,6 L15,6 L16,7 L17,7 L18,6 L19,7 L20,7 L21,6 L22,6 L23,6 L24,6 L25,7 L26,6 L27,6 L28,7 L29,6 L30,7 L31,7 L32,7 L33,7 L34,7 L35,7 L36,7 L37,6 L38,7 L39,7 L40,7 L41,7 L42,7 L43,7 L44,7 L45,6 L46,7 L47,7 L48,7 L49,7 L50,7 L51,7 L52,7 L53,7 L54,7 L55,7 L56,7 L57,7 L58,7 L59,7 L60,7 L61,8 L62,7 L63,7 L64,7 L65,7 L66,7 L67,7 L68,8 L69,7 L70,8 L71,9 L72,10 L73,12 L74,14 L75,16 L76,18 L77,22 L78,26 L79,32 L80,36 L81,43 L82,50 L83,58 L84,70 L85,80 L86,101 L87,107 L88,139 L89,165 L90,187 L91,200 L92,183 L93,168 L94,124 L95,84 L96,93 L97,109 L98,109 L99,92 L100,59 L101,38 L102,32 L103,28 L104,23 L105,19 L106,18 L107,16 L108,16 L109,13 L110,12 L111,11 L112,11 L113,10 L114,9 L115,9 L116,9 L117,8 L118,8 L119,8 L120,8 L121,7 L122,8 L123,8 L124,8 L125,7 L126,8 L127,7 L128,7 L129,8 L130,8 L131,8 L132,8 L133,7 L134,7 L135,7 L136,7 L137,8 L138,8 L139,8 L140,7 L141,8 L142,8 L143,8 L144,8 L145,8 L146,8 L147,8 L148,8 L149,8 L150,7 L151,8 L152,8 L153,7 L154,9 L155,8 L156,8 L157,7 L158,8 L159,8 L160,8 L161,8 L162,7 L163,8 L164,9 L165,8 L166,7 L167,8 L168,8 L169,8 L170,8 L171,8 L172,8 L173,7 L174,8 L175,7 L176,8 L177,8 L178,8 L179,8 L180,8 L180,-6"/><polyline class="p" points="83.2,60 84,70 85,80 86,101 87,107 88,139 89,165 90,187 91,200 92,183 93,168 94,124 95,84 96,93 97,109 98,109 99,92 100,60"/></g><text class="t" x="653.1" y="174.88" font-size="7.9" textLength="23.7" lengthAdjust="spacingAndGlyphs">宮城県</text><g transform="translate(681.0 199.30) scale(0.7376 -0.10650)"><path class="a" d="M0,-6 L0,22 L1,12 L2,0 L3,0 L4,18 L5,14 L6,0 L7,20 L8,0 L9,13 L10,0 L11,21 L12,11 L13,14 L14,22 L15,0 L16,17 L17,10 L18,10 L19,0 L20,0 L21,0 L22,20 L23,0 L24,0 L25,19 L26,0 L27,19 L28,0 L29,0 L30,16 L31,0 L32,0 L33,13 L34,19 L35,19 L36,19 L37,0 L38,0 L39,0 L40,0 L41,21 L42,8 L43,0 L44,0 L45,20 L46,16 L47,0 L48,22 L49,19 L50,8 L51,0 L52,16 L53,0 L54,12 L55,0 L56,0 L57,0 L58,20 L59,23 L60,21 L61,29 L62,40 L63,41 L64,26 L65,26 L66,34 L67,51 L68,58 L69,31 L70,36 L71,34 L72,34 L73,39 L74,58 L75,42 L76,55 L77,54 L78,49 L79,72 L80,83 L81,62 L82,70 L83,84 L84,79 L85,100 L86,77 L87,127 L88,150 L89,200 L90,100 L91,140 L92,105 L93,122 L94,108 L95,112 L96,130 L97,102 L98,141 L99,85 L100,78 L101,105 L102,104 L103,123 L104,100 L105,68 L106,58 L107,15 L108,20 L109,25 L110,29 L111,19 L112,25 L113,17 L114,20 L115,22 L116,16 L117,13 L118,16 L119,18 L120,18 L121,0 L122,0 L123,9 L124,0 L125,14 L126,16 L127,0 L128,0 L129,14 L130,0 L131,16 L132,20 L133,0 L134,9 L135,0 L136,21 L137,17 L138,0 L139,9 L140,15 L141,0 L142,0 L143,21 L144,20 L145,0 L146,16 L147,0 L148,0 L149,0 L150,14 L151,0 L152,0 L153,0 L154,0 L155,21 L156,9 L157,12 L158,0 L159,0 L160,16 L161,12 L162,13 L163,8 L164,14 L165,22 L166,21 L167,0 L168,21 L169,17 L170,0 L171,0 L172,20 L173,0 L174,18 L175,0 L176,14 L177,20 L178,0 L179,11 L180,0 L180,-6"/><polyline class="p" points="78.5,60 79,72 80,83 81,62 82,70 83,84 84,79 85,100 86,77 87,127 88,150 89,200 90,100 91,140 92,105 93,122 94,108 95,112 96,130 97,102 98,141 99,85 100,78 101,105 102,104 103,123 104,100 105,68 105.8,60"/></g><text class="t" x="653.1" y="196.5" font-size="7.9" textLength="23.7" lengthAdjust="spacingAndGlyphs">山形県</text><g transform="translate(681.0 220.92) scale(0.7376 -0.10650)"><path class="a" d="M0,-6 L0,6 L1,6 L2,7 L3,6 L4,6 L5,7 L6,7 L7,7 L8,7 L9,7 L10,6 L11,7 L12,7 L13,7 L14,6 L15,6 L16,7 L17,6 L18,7 L19,6 L20,7 L21,7 L22,7 L23,7 L24,6 L25,7 L26,7 L27,6 L28,7 L29,7 L30,7 L31,7 L32,7 L33,7 L34,7 L35,7 L36,7 L37,7 L38,7 L39,8 L40,8 L41,7 L42,7 L43,7 L44,7 L45,7 L46,7 L47,7 L48,7 L49,7 L50,7 L51,7 L52,7 L53,8 L54,8 L55,8 L56,7 L57,7 L58,8 L59,7 L60,7 L61,7 L62,7 L63,8 L64,8 L65,9 L66,10 L67,11 L68,13 L69,15 L70,16 L71,20 L72,21 L73,23 L74,28 L75,27 L76,34 L77,39 L78,41 L79,48 L80,57 L81,67 L82,69 L83,86 L84,101 L85,102 L86,130 L87,137 L88,161 L89,172 L90,191 L91,200 L92,192 L93,139 L94,102 L95,66 L96,103 L97,101 L98,86 L99,58 L100,45 L101,41 L102,30 L103,31 L104,27 L105,24 L106,22 L107,20 L108,18 L109,17 L110,16 L111,14 L112,14 L113,13 L114,12 L115,11 L116,12 L117,10 L118,10 L119,10 L120,9 L121,8 L122,8 L123,8 L124,8 L125,8 L126,8 L127,8 L128,8 L129,8 L130,9 L131,8 L132,9 L133,8 L134,8 L135,8 L136,8 L137,8 L138,8 L139,9 L140,8 L141,9 L142,8 L143,8 L144,8 L145,8 L146,8 L147,9 L148,8 L149,8 L150,8 L151,8 L152,8 L153,8 L154,8 L155,8 L156,8 L157,8 L158,8 L159,8 L160,9 L161,9 L162,9 L163,8 L164,8 L165,9 L166,8 L167,8 L168,9 L169,8 L170,8 L171,7 L172,8 L173,7 L174,8 L175,8 L176,8 L177,8 L178,9 L179,8 L180,9 L180,-6"/><polyline class="p" points="80.3,60 81,67 82,69 83,86 84,101 85,102 86,130 87,137 88,161 89,172 90,191 91,200 92,192 93,139 94,102 95,66 96,103 97,101 98,86 98.9,60"/></g><text class="t" x="653.1" y="218.12" font-size="7.9" textLength="23.7" lengthAdjust="spacingAndGlyphs">新潟県</text><g transform="translate(681.0 242.54) scale(0.7376 -0.10650)"><path class="a" d="M0,-6 L0,7 L1,6 L2,7 L3,6 L4,7 L5,7 L6,7 L7,6 L8,7 L9,6 L10,7 L11,6 L12,6 L13,6 L14,7 L15,8 L16,6 L17,7 L18,7 L19,6 L20,7 L21,7 L22,8 L23,7 L24,8 L25,7 L26,7 L27,7 L28,8 L29,7 L30,8 L31,7 L32,7 L33,6 L34,7 L35,7 L36,7 L37,8 L38,8 L39,7 L40,9 L41,8 L42,8 L43,7 L44,7 L45,7 L46,8 L47,8 L48,7 L49,7 L50,8 L51,7 L52,7 L53,7 L54,8 L55,7 L56,7 L57,8 L58,7 L59,8 L60,8 L61,8 L62,8 L63,7 L64,8 L65,8 L66,8 L67,7 L68,7 L69,8 L70,8 L71,9 L72,8 L73,8 L74,9 L75,11 L76,14 L77,15 L78,18 L79,22 L80,29 L81,32 L82,41 L83,44 L84,54 L85,72 L86,76 L87,95 L88,117 L89,131 L90,165 L91,200 L92,190 L93,170 L94,149 L95,102 L96,104 L97,124 L98,132 L99,99 L100,63 L101,38 L102,29 L103,28 L104,22 L105,19 L106,20 L107,16 L108,12 L109,13 L110,11 L111,10 L112,10 L113,9 L114,8 L115,9 L116,9 L117,8 L118,7 L119,9 L120,8 L121,9 L122,9 L123,8 L124,8 L125,8 L126,8 L127,8 L128,7 L129,8 L130,8 L131,7 L132,7 L133,9 L134,8 L135,8 L136,9 L137,8 L138,8 L139,8 L140,9 L141,8 L142,7 L143,8 L144,8 L145,7 L146,8 L147,8 L148,7 L149,8 L150,8 L151,8 L152,8 L153,8 L154,8 L155,8 L156,8 L157,8 L158,7 L159,8 L160,9 L161,8 L162,8 L163,8 L164,8 L165,10 L166,8 L167,7 L168,8 L169,8 L170,10 L171,8 L172,8 L173,9 L174,8 L175,10 L176,8 L177,8 L178,8 L179,9 L180,8 L180,-6"/><polyline class="p" points="84.3,60 85,72 86,76 87,95 88,117 89,131 90,165 91,200 92,190 93,170 94,149 95,102 96,104 97,124 98,132 99,99 100,63 100.1,60"/></g><text class="t" x="653.1" y="239.74" font-size="7.9" textLength="23.7" lengthAdjust="spacingAndGlyphs">福島県</text><g transform="translate(681.0 264.16) scale(0.7376 -0.10650)"><path class="a" d="M0,-6 L0,23 L1,10 L2,16 L3,21 L4,13 L5,14 L6,24 L7,17 L8,12 L9,16 L10,20 L11,15 L12,23 L13,16 L14,20 L15,16 L16,20 L17,23 L18,11 L19,14 L20,19 L21,15 L22,30 L23,18 L24,19 L25,15 L26,16 L27,20 L28,16 L29,23 L30,18 L31,18 L32,12 L33,11 L34,17 L35,28 L36,17 L37,13 L38,14 L39,13 L40,14 L41,23 L42,23 L43,19 L44,25 L45,13 L46,12 L47,17 L48,27 L49,11 L50,18 L51,16 L52,19 L53,19 L54,16 L55,21 L56,16 L57,15 L58,20 L59,17 L60,25 L61,20 L62,20 L63,25 L64,33 L65,38 L66,31 L67,38 L68,41 L69,36 L70,47 L71,54 L72,56 L73,59 L74,68 L75,62 L76,88 L77,63 L78,80 L79,78 L80,86 L81,74 L82,117 L83,119 L84,117 L85,140 L86,169 L87,150 L88,135 L89,200 L90,190 L91,179 L92,148 L93,110 L94,88 L95,52 L96,71 L97,50 L98,38 L99,43 L100,35 L101,50 L102,32 L103,29 L104,34 L105,26 L106,29 L107,26 L108,26 L109,31 L110,21 L111,24 L112,26 L113,23 L114,27 L115,32 L116,26 L117,27 L118,19 L119,19 L120,17 L121,16 L122,22 L123,28 L124,23 L125,22 L126,16 L127,18 L128,16 L129,17 L130,17 L131,21 L132,16 L133,24 L134,21 L135,18 L136,24 L137,18 L138,23 L139,16 L140,24 L141,18 L142,15 L143,18 L144,21 L145,22 L146,15 L147,21 L148,18 L149,16 L150,13 L151,26 L152,14 L153,18 L154,19 L155,30 L156,22 L157,16 L158,17 L159,17 L160,26 L161,23 L162,21 L163,24 L164,23 L165,15 L166,17 L167,22 L168,16 L169,20 L170,26 L171,24 L172,17 L173,18 L174,20 L175,23 L176,13 L177,27 L178,18 L179,16 L180,21 L180,-6"/><polyline class="p" points="73.1,60 74,68 75,62 76,88 77,63 78,80 79,78 80,86 81,74 82,117 83,119 84,117 85,140 86,169 87,150 88,135 89,200 90,190 91,179 92,148 93,110 94,88 94.8,60"/><polyline class="p" points="95.4,60 96,71 96.5,60"/></g><text class="t" x="653.1" y="261.36" font-size="7.9" textLength="23.7" lengthAdjust="spacingAndGlyphs">富山県</text><g transform="translate(681.0 285.78) scale(0.7376 -0.10650)"><path class="a" d="M0,-6 L0,9 L1,8 L2,9 L3,8 L4,9 L5,9 L6,9 L7,9 L8,8 L9,9 L10,10 L11,8 L12,10 L13,9 L14,10 L15,9 L16,8 L17,9 L18,10 L19,8 L20,8 L21,8 L22,9 L23,10 L24,8 L25,10 L26,9 L27,8 L28,9 L29,10 L30,10 L31,8 L32,8 L33,11 L34,9 L35,10 L36,11 L37,10 L38,9 L39,10 L40,11 L41,9 L42,10 L43,10 L44,10 L45,9 L46,11 L47,10 L48,11 L49,10 L50,10 L51,10 L52,10 L53,10 L54,9 L55,10 L56,12 L57,11 L58,10 L59,11 L60,9 L61,10 L62,11 L63,10 L64,9 L65,11 L66,14 L67,12 L68,14 L69,18 L70,19 L71,24 L72,22 L73,27 L74,29 L75,33 L76,36 L77,44 L78,49 L79,50 L80,62 L81,71 L82,74 L83,92 L84,94 L85,108 L86,126 L87,144 L88,144 L89,169 L90,200 L91,187 L92,165 L93,125 L94,75 L95,66 L96,73 L97,88 L98,87 L99,65 L100,48 L101,38 L102,33 L103,26 L104,27 L105,27 L106,24 L107,22 L108,19 L109,19 L110,19 L111,18 L112,15 L113,18 L114,15 L115,13 L116,13 L117,13 L118,12 L119,13 L120,11 L121,13 L122,11 L123,10 L124,11 L125,9 L126,11 L127,12 L128,10 L129,11 L130,10 L131,12 L132,12 L133,12 L134,13 L135,12 L136,11 L137,10 L138,11 L139,11 L140,12 L141,10 L142,12 L143,12 L144,10 L145,10 L146,11 L147,12 L148,10 L149,11 L150,11 L151,11 L152,11 L153,10 L154,11 L155,11 L156,10 L157,11 L158,10 L159,12 L160,10 L161,10 L162,11 L163,10 L164,10 L165,11 L166,12 L167,13 L168,11 L169,10 L170,10 L171,11 L172,11 L173,9 L174,11 L175,11 L176,11 L177,12 L178,11 L179,11 L180,11 L180,-6"/><polyline class="p" points="79.8,60 80,62 81,71 82,74 83,92 84,94 85,108 86,126 87,144 88,144 89,169 90,200 91,187 92,165 93,125 94,75 95,66 96,73 97,88 98,87 99,65 99.3,60"/></g><text class="t" x="653.1" y="282.98" font-size="7.9" textLength="23.7" lengthAdjust="spacingAndGlyphs">長野県</text><g transform="translate(681.0 307.40) scale(0.7376 -0.10650)"><path class="a" d="M0,-6 L0,11 L1,19 L2,24 L3,11 L4,21 L5,14 L6,20 L7,11 L8,16 L9,13 L10,12 L11,11 L12,11 L13,14 L14,11 L15,12 L16,16 L17,19 L18,22 L19,18 L20,20 L21,15 L22,12 L23,13 L24,23 L25,18 L26,13 L27,10 L28,13 L29,18 L30,17 L31,13 L32,12 L33,19 L34,23 L35,14 L36,24 L37,11 L38,17 L39,10 L40,20 L41,16 L42,11 L43,16 L44,13 L45,18 L46,15 L47,18 L48,13 L49,15 L50,16 L51,15 L52,20 L53,16 L54,17 L55,15 L56,16 L57,27 L58,24 L59,26 L60,23 L61,20 L62,40 L63,32 L64,32 L65,31 L66,31 L67,44 L68,45 L69,44 L70,58 L71,60 L72,54 L73,65 L74,66 L75,87 L76,71 L77,93 L78,93 L79,79 L80,81 L81,103 L82,134 L83,150 L84,99 L85,144 L86,123 L87,184 L88,167 L89,200 L90,142 L91,126 L92,99 L93,68 L94,58 L95,58 L96,41 L97,39 L98,41 L99,37 L100,45 L101,41 L102,36 L103,29 L104,34 L105,35 L106,31 L107,34 L108,23 L109,21 L110,21 L111,22 L112,22 L113,24 L114,18 L115,21 L116,21 L117,18 L118,23 L119,20 L120,22 L121,22 L122,16 L123,17 L124,20 L125,24 L126,19 L127,31 L128,12 L129,20 L130,18 L131,21 L132,15 L133,14 L134,16 L135,17 L136,12 L137,18 L138,18 L139,14 L140,13 L141,21 L142,17 L143,22 L144,17 L145,16 L146,18 L147,16 L148,16 L149,25 L150,18 L151,13 L152,14 L153,19 L154,13 L155,22 L156,22 L157,15 L158,19 L159,18 L160,19 L161,17 L162,16 L163,22 L164,13 L165,15 L166,17 L167,20 L168,13 L169,15 L170,18 L171,16 L172,12 L173,15 L174,16 L175,20 L176,15 L177,17 L178,22 L179,21 L180,17 L180,-6"/><polyline class="p" points="72.5,60 73,65 74,66 75,87 76,71 77,93 78,93 79,79 80,81 81,103 82,134 83,150 84,99 85,144 86,123 87,184 88,167 89,200 90,142 91,126 92,99 93,68 93.8,60"/></g><text class="t" x="653.1" y="304.6" font-size="7.9" textLength="23.7" lengthAdjust="spacingAndGlyphs">石川県</text><g transform="translate(681.0 329.02) scale(0.7376 -0.10650)"><path class="a" d="M0,-6 L0,8 L1,7 L2,10 L3,9 L4,12 L5,10 L6,9 L7,10 L8,9 L9,10 L10,9 L11,8 L12,8 L13,9 L14,8 L15,13 L16,11 L17,10 L18,11 L19,9 L20,8 L21,13 L22,8 L23,10 L24,8 L25,12 L26,8 L27,13 L28,9 L29,10 L30,12 L31,11 L32,9 L33,11 L34,12 L35,10 L36,9 L37,11 L38,9 L39,8 L40,8 L41,8 L42,10 L43,12 L44,10 L45,10 L46,10 L47,13 L48,11 L49,11 L50,13 L51,14 L52,15 L53,17 L54,19 L55,20 L56,23 L57,26 L58,26 L59,32 L60,35 L61,37 L62,35 L63,33 L64,31 L65,36 L66,49 L67,52 L68,62 L69,67 L70,55 L71,51 L72,56 L73,59 L74,59 L75,74 L76,71 L77,82 L78,82 L79,91 L80,103 L81,91 L82,109 L83,114 L84,126 L85,137 L86,138 L87,172 L88,159 L89,185 L90,185 L91,200 L92,149 L93,96 L94,68 L95,60 L96,58 L97,50 L98,43 L99,39 L100,33 L101,37 L102,35 L103,29 L104,33 L105,22 L106,22 L107,22 L108,23 L109,19 L110,14 L111,18 L112,17 L113,16 L114,15 L115,15 L116,12 L117,12 L118,10 L119,14 L120,13 L121,12 L122,12 L123,12 L124,11 L125,9 L126,10 L127,12 L128,13 L129,10 L130,14 L131,10 L132,11 L133,10 L134,11 L135,12 L136,10 L137,12 L138,10 L139,12 L140,11 L141,12 L142,13 L143,9 L144,11 L145,12 L146,10 L147,12 L148,13 L149,10 L150,11 L151,11 L152,11 L153,10 L154,12 L155,12 L156,11 L157,12 L158,9 L159,10 L160,11 L161,15 L162,10 L163,10 L164,12 L165,11 L166,12 L167,13 L168,9 L169,13 L170,13 L171,11 L172,10 L173,11 L174,11 L175,9 L176,11 L177,10 L178,11 L179,12 L180,11 L180,-6"/><polyline class="p" points="67.8,60 68,62 69,67 69.6,60"/><polyline class="p" points="74.1,60 75,74 76,71 77,82 78,82 79,91 80,103 81,91 82,109 83,114 84,126 85,137 86,138 87,172 88,159 89,185 90,185 91,200 92,149 93,96 94,68 95,60"/></g><text class="t" x="653.1" y="326.22" font-size="7.9" textLength="23.7" lengthAdjust="spacingAndGlyphs">栃木県</text><g transform="translate(681.0 350.64) scale(0.7376 -0.10650)"><path class="a" d="M0,-6 L0,16 L1,7 L2,11 L3,14 L4,12 L5,11 L6,11 L7,13 L8,12 L9,13 L10,15 L11,9 L12,13 L13,13 L14,10 L15,10 L16,10 L17,9 L18,9 L19,9 L20,12 L21,12 L22,10 L23,11 L24,11 L25,12 L26,12 L27,12 L28,10 L29,11 L30,11 L31,11 L32,9 L33,11 L34,12 L35,10 L36,12 L37,9 L38,14 L39,11 L40,16 L41,12 L42,10 L43,9 L44,12 L45,11 L46,11 L47,9 L48,13 L49,9 L50,13 L51,13 L52,17 L53,16 L54,15 L55,19 L56,18 L57,21 L58,23 L59,24 L60,24 L61,27 L62,26 L63,31 L64,27 L65,32 L66,34 L67,41 L68,39 L69,60 L70,78 L71,69 L72,58 L73,54 L74,65 L75,81 L76,82 L77,96 L78,104 L79,107 L80,122 L81,124 L82,120 L83,123 L84,127 L85,148 L86,141 L87,166 L88,180 L89,184 L90,200 L91,198 L92,164 L93,117 L94,71 L95,46 L96,78 L97,61 L98,42 L99,35 L100,35 L101,31 L102,29 L103,25 L104,30 L105,30 L106,23 L107,22 L108,22 L109,22 L110,17 L111,18 L112,17 L113,16 L114,17 L115,13 L116,13 L117,13 L118,13 L119,12 L120,12 L121,12 L122,10 L123,12 L124,12 L125,11 L126,11 L127,15 L128,15 L129,12 L130,13 L131,15 L132,15 L133,13 L134,12 L135,13 L136,11 L137,15 L138,13 L139,11 L140,12 L141,12 L142,16 L143,13 L144,13 L145,12 L146,15 L147,14 L148,11 L149,11 L150,14 L151,12 L152,11 L153,12 L154,11 L155,13 L156,11 L157,14 L158,12 L159,14 L160,12 L161,13 L162,13 L163,12 L164,12 L165,13 L166,14 L167,13 L168,12 L169,13 L170,13 L171,14 L172,12 L173,11 L174,17 L175,15 L176,12 L177,12 L178,13 L179,15 L180,12 L180,-6"/><polyline class="p" points="69,60 70,78 71,69 71.8,60"/><polyline class="p" points="73.5,60 74,65 75,81 76,82 77,96 78,104 79,107 80,122 81,124 82,120 83,123 84,127 85,148 86,141 87,166 88,180 89,184 90,200 91,198 92,164 93,117 94,71 94.4,60"/><polyline class="p" points="95.4,60 96,78 97,61 97.1,60"/></g><text class="t" x="653.1" y="347.84" font-size="7.9" textLength="23.7" lengthAdjust="spacingAndGlyphs">群馬県</text><g transform="translate(681.0 372.26) scale(0.7376 -0.10650)"><path class="a" d="M0,-6 L0,9 L1,12 L2,10 L3,8 L4,9 L5,10 L6,11 L7,10 L8,10 L9,11 L10,11 L11,12 L12,11 L13,9 L14,12 L15,10 L16,9 L17,9 L18,10 L19,9 L20,10 L21,11 L22,9 L23,12 L24,11 L25,10 L26,12 L27,11 L28,11 L29,11 L30,9 L31,10 L32,10 L33,11 L34,8 L35,11 L36,10 L37,11 L38,10 L39,11 L40,13 L41,10 L42,11 L43,10 L44,13 L45,15 L46,15 L47,13 L48,13 L49,16 L50,21 L51,19 L52,19 L53,20 L54,22 L55,23 L56,22 L57,25 L58,32 L59,32 L60,32 L61,34 L62,34 L63,37 L64,37 L65,44 L66,45 L67,50 L68,48 L69,63 L70,67 L71,72 L72,65 L73,74 L74,75 L75,77 L76,95 L77,83 L78,101 L79,105 L80,91 L81,116 L82,108 L83,134 L84,138 L85,135 L86,171 L87,167 L88,181 L89,197 L90,200 L91,166 L92,150 L93,92 L94,64 L95,46 L96,46 L97,41 L98,39 L99,36 L100,34 L101,32 L102,32 L103,28 L104,27 L105,29 L106,26 L107,24 L108,25 L109,22 L110,19 L111,21 L112,19 L113,18 L114,17 L115,19 L116,16 L117,14 L118,14 L119,18 L120,14 L121,12 L122,14 L123,13 L124,14 L125,12 L126,12 L127,13 L128,12 L129,12 L130,12 L131,11 L132,12 L133,12 L134,12 L135,12 L136,13 L137,14 L138,13 L139,11 L140,12 L141,17 L142,13 L143,12 L144,10 L145,10 L146,10 L147,14 L148,11 L149,12 L150,11 L151,10 L152,11 L153,12 L154,12 L155,12 L156,11 L157,12 L158,12 L159,10 L160,11 L161,13 L162,12 L163,11 L164,11 L165,12 L166,11 L167,13 L168,12 L169,14 L170,11 L171,11 L172,15 L173,13 L174,11 L175,11 L176,13 L177,12 L178,11 L179,11 L180,13 L180,-6"/><polyline class="p" points="68.8,60 69,63 70,67 71,72 72,65 73,74 74,75 75,77 76,95 77,83 78,101 79,105 80,91 81,116 82,108 83,134 84,138 85,135 86,171 87,167 88,181 89,197 90,200 91,166 92,150 93,92 94,64 94.2,60"/></g><text class="t" x="653.1" y="369.46" font-size="7.9" textLength="23.7" lengthAdjust="spacingAndGlyphs">茨城県</text><g transform="translate(681.0 393.88) scale(0.7376 -0.10650)"><path class="a" d="M0,-6 L0,11 L1,14 L2,7 L3,8 L4,14 L5,9 L6,6 L7,8 L8,14 L9,11 L10,19 L11,14 L12,12 L13,11 L14,8 L15,10 L16,15 L17,8 L18,9 L19,10 L20,8 L21,9 L22,13 L23,17 L24,11 L25,18 L26,9 L27,15 L28,13 L29,11 L30,17 L31,10 L32,19 L33,17 L34,18 L35,11 L36,22 L37,8 L38,18 L39,12 L40,9 L41,10 L42,14 L43,12 L44,12 L45,13 L46,19 L47,12 L48,20 L49,15 L50,13 L51,21 L52,17 L53,16 L54,18 L55,20 L56,19 L57,18 L58,16 L59,19 L60,22 L61,21 L62,23 L63,23 L64,25 L65,31 L66,28 L67,28 L68,22 L69,26 L70,25 L71,40 L72,26 L73,36 L74,33 L75,31 L76,30 L77,42 L78,35 L79,49 L80,43 L81,42 L82,43 L83,115 L84,200 L85,160 L86,124 L87,106 L88,131 L89,186 L90,153 L91,169 L92,114 L93,61 L94,55 L95,42 L96,43 L97,32 L98,29 L99,19 L100,22 L101,17 L102,17 L103,17 L104,17 L105,12 L106,21 L107,14 L108,14 L109,14 L110,15 L111,20 L112,16 L113,15 L114,27 L115,10 L116,13 L117,17 L118,17 L119,13 L120,11 L121,10 L122,8 L123,11 L124,16 L125,8 L126,16 L127,12 L128,16 L129,13 L130,15 L131,12 L132,13 L133,12 L134,14 L135,14 L136,11 L137,13 L138,14 L139,12 L140,15 L141,13 L142,10 L143,13 L144,17 L145,9 L146,15 L147,18 L148,12 L149,11 L150,10 L151,17 L152,11 L153,9 L154,16 L155,10 L156,9 L157,9 L158,10 L159,13 L160,13 L161,10 L162,11 L163,11 L164,13 L165,8 L166,10 L167,10 L168,9 L169,9 L170,15 L171,14 L172,10 L173,8 L174,9 L175,14 L176,9 L177,9 L178,9 L179,11 L180,11 L180,-6"/><polyline class="p" points="82.2,60 83,115 84,200 85,160 86,124 87,106 88,131 89,186 90,153 91,169 92,114 93,61 93.2,60"/></g><text class="t" x="653.1" y="391.08" font-size="7.9" textLength="23.7" lengthAdjust="spacingAndGlyphs">福井県</text><g transform="translate(681.0 415.50) scale(0.7376 -0.10650)"><path class="a" d="M0,-6 L0,5 L1,5 L2,6 L3,6 L4,6 L5,6 L6,6 L7,6 L8,6 L9,7 L10,7 L11,6 L12,7 L13,7 L14,7 L15,7 L16,7 L17,8 L18,7 L19,8 L20,8 L21,7 L22,9 L23,8 L24,8 L25,9 L26,9 L27,10 L28,9 L29,10 L30,9 L31,10 L32,10 L33,11 L34,12 L35,13 L36,12 L37,13 L38,14 L39,16 L40,17 L41,17 L42,19 L43,20 L44,22 L45,25 L46,26 L47,27 L48,29 L49,36 L50,39 L51,42 L52,46 L53,51 L54,61 L55,58 L56,60 L57,65 L58,69 L59,68 L60,73 L61,70 L62,72 L63,74 L64,80 L65,80 L66,75 L67,83 L68,80 L69,81 L70,97 L71,87 L72,103 L73,101 L74,108 L75,112 L76,124 L77,129 L78,151 L79,171 L80,151 L81,116 L82,127 L83,136 L84,155 L85,143 L86,149 L87,161 L88,186 L89,197 L90,200 L91,168 L92,105 L93,68 L94,59 L95,54 L96,56 L97,52 L98,61 L99,56 L100,58 L101,62 L102,48 L103,37 L104,36 L105,32 L106,29 L107,27 L108,28 L109,23 L110,23 L111,22 L112,20 L113,19 L114,20 L115,17 L116,17 L117,16 L118,14 L119,14 L120,14 L121,12 L122,12 L123,13 L124,12 L125,11 L126,12 L127,11 L128,11 L129,11 L130,11 L131,11 L132,11 L133,10 L134,11 L135,9 L136,10 L137,9 L138,10 L139,10 L140,9 L141,9 L142,8 L143,8 L144,9 L145,8 L146,8 L147,8 L148,8 L149,8 L150,7 L151,7 L152,7 L153,7 L154,7 L155,7 L156,8 L157,7 L158,7 L159,6 L160,7 L161,6 L162,7 L163,6 L164,6 L165,5 L166,6 L167,6 L168,6 L169,6 L170,6 L171,6 L172,6 L173,6 L174,6 L175,6 L176,6 L177,6 L178,6 L179,6 L180,6 L180,-6"/><polyline class="p" points="53.9,60 54,61 54.3,60"/><polyline class="p" points="56,60 57,65 58,69 59,68 60,73 61,70 62,72 63,74 64,80 65,80 66,75 67,83 68,80 69,81 70,97 71,87 72,103 73,101 74,108 75,112 76,124 77,129 78,151 79,171 80,151 81,116 82,127 83,136 84,155 85,143 86,149 87,161 88,186 89,197 90,200 91,168 92,105 93,68 93.9,60"/><polyline class="p" points="97.9,60 98,61 98.2,60"/><polyline class="p" points="100.5,60 101,62 101.1,60"/></g><text class="t" x="653.1" y="412.7" font-size="7.9" textLength="23.7" lengthAdjust="spacingAndGlyphs">埼玉県</text><g transform="translate(681.0 437.12) scale(0.7376 -0.10650)"><path class="a" d="M0,-6 L0,8 L1,8 L2,8 L3,8 L4,8 L5,8 L6,9 L7,8 L8,9 L9,9 L10,9 L11,9 L12,9 L13,10 L14,10 L15,9 L16,10 L17,10 L18,11 L19,10 L20,11 L21,10 L22,11 L23,11 L24,12 L25,13 L26,12 L27,13 L28,14 L29,14 L30,17 L31,18 L32,18 L33,18 L34,21 L35,23 L36,24 L37,25 L38,28 L39,32 L40,32 L41,36 L42,37 L43,46 L44,45 L45,49 L46,52 L47,59 L48,61 L49,67 L50,66 L51,62 L52,70 L53,67 L54,69 L55,76 L56,71 L57,80 L58,81 L59,79 L60,88 L61,82 L62,90 L63,88 L64,96 L65,94 L66,95 L67,96 L68,105 L69,103 L70,106 L71,107 L72,113 L73,123 L74,120 L75,125 L76,142 L77,155 L78,165 L79,186 L80,169 L81,144 L82,145 L83,139 L84,146 L85,148 L86,156 L87,162 L88,174 L89,176 L90,200 L91,171 L92,113 L93,89 L94,67 L95,60 L96,65 L97,65 L98,65 L99,59 L100,50 L101,41 L102,43 L103,36 L104,35 L105,33 L106,30 L107,30 L108,26 L109,26 L110,26 L111,24 L112,22 L113,22 L114,22 L115,23 L116,20 L117,19 L118,18 L119,16 L120,18 L121,16 L122,16 L123,16 L124,14 L125,13 L126,13 L127,13 L128,13 L129,13 L130,12 L131,13 L132,12 L133,12 L134,11 L135,11 L136,11 L137,11 L138,11 L139,10 L140,11 L141,10 L142,11 L143,10 L144,9 L145,11 L146,11 L147,11 L148,10 L149,9 L150,9 L151,9 L152,9 L153,10 L154,9 L155,9 L156,9 L157,9 L158,9 L159,9 L160,9 L161,9 L162,8 L163,9 L164,8 L165,8 L166,9 L167,8 L168,8 L169,8 L170,8 L171,8 L172,8 L173,8 L174,8 L175,8 L176,9 L177,8 L178,8 L179,8 L180,7 L180,-6"/><polyline class="p" points="47.5,60 48,61 49,67 50,66 51,62 52,70 53,67 54,69 55,76 56,71 57,80 58,81 59,79 60,88 61,82 62,90 63,88 64,96 65,94 66,95 67,96 68,105 69,103 70,106 71,107 72,113 73,123 74,120 75,125 76,142 77,155 78,165 79,186 80,169 81,144 82,145 83,139 84,146 85,148 86,156 87,162 88,174 89,176 90,200 91,171 92,113 93,89 94,67 95,60"/><polyline class="p" points="95,60 96,65 97,65 98,65 98.8,60"/></g><text class="t" x="653.1" y="434.32" font-size="7.9" textLength="23.7" lengthAdjust="spacingAndGlyphs">東京都</text><g transform="translate(681.0 458.74) scale(0.7376 -0.10650)"><path class="a" d="M0,-6 L0,20 L1,16 L2,31 L3,17 L4,20 L5,17 L6,25 L7,28 L8,16 L9,19 L10,15 L11,35 L12,21 L13,26 L14,23 L15,16 L16,23 L17,29 L18,25 L19,17 L20,13 L21,28 L22,17 L23,24 L24,18 L25,21 L26,25 L27,27 L28,20 L29,29 L30,15 L31,26 L32,25 L33,22 L34,26 L35,25 L36,26 L37,20 L38,16 L39,24 L40,27 L41,35 L42,23 L43,24 L44,27 L45,26 L46,32 L47,33 L48,27 L49,28 L50,59 L51,30 L52,22 L53,45 L54,31 L55,27 L56,25 L57,31 L58,28 L59,30 L60,22 L61,38 L62,29 L63,30 L64,36 L65,75 L66,37 L67,40 L68,48 L69,31 L70,41 L71,78 L72,47 L73,49 L74,68 L75,65 L76,78 L77,69 L78,78 L79,80 L80,100 L81,73 L82,83 L83,95 L84,125 L85,153 L86,200 L87,151 L88,163 L89,164 L90,125 L91,142 L92,89 L93,82 L94,41 L95,66 L96,56 L97,95 L98,86 L99,48 L100,44 L101,28 L102,34 L103,31 L104,25 L105,29 L106,22 L107,25 L108,21 L109,29 L110,31 L111,27 L112,24 L113,19 L114,28 L115,20 L116,19 L117,39 L118,27 L119,18 L120,25 L121,26 L122,94 L123,52 L124,29 L125,19 L126,20 L127,16 L128,22 L129,16 L130,28 L131,32 L132,27 L133,26 L134,15 L135,21 L136,22 L137,18 L138,29 L139,20 L140,17 L141,11 L142,17 L143,22 L144,27 L145,15 L146,21 L147,25 L148,21 L149,18 L150,23 L151,18 L152,16 L153,24 L154,15 L155,26 L156,18 L157,11 L158,25 L159,19 L160,14 L161,16 L162,23 L163,22 L164,27 L165,16 L166,21 L167,14 L168,14 L169,15 L170,20 L171,25 L172,12 L173,26 L174,12 L175,15 L176,32 L177,24 L178,20 L179,20 L180,13 L180,-6"/><polyline class="p" points="64.6,60 65,75 65.4,60"/><polyline class="p" points="70.5,60 71,78 71.6,60"/><polyline class="p" points="73.6,60 74,68 75,65 76,78 77,69 78,78 79,80 80,100 81,73 82,83 83,95 84,125 85,153 86,200 87,151 88,163 89,164 90,125 91,142 92,89 93,82 93.5,60"/><polyline class="p" points="94.8,60 95,66 95.6,60"/><polyline class="p" points="96.1,60 97,95 98,86 98.7,60"/><polyline class="p" points="121.5,60 122,94 122.8,60"/></g><text class="t" x="653.1" y="455.94" font-size="7.9" textLength="23.7" lengthAdjust="spacingAndGlyphs">山梨県</text><g transform="translate(681.0 480.36) scale(0.7376 -0.10650)"><path class="a" d="M0,-6 L0,6 L1,6 L2,6 L3,6 L4,6 L5,7 L6,6 L7,6 L8,6 L9,7 L10,6 L11,7 L12,7 L13,7 L14,7 L15,6 L16,7 L17,7 L18,7 L19,8 L20,8 L21,8 L22,8 L23,8 L24,8 L25,9 L26,10 L27,9 L28,10 L29,10 L30,10 L31,11 L32,10 L33,11 L34,13 L35,13 L36,14 L37,16 L38,18 L39,18 L40,19 L41,23 L42,23 L43,26 L44,28 L45,27 L46,31 L47,34 L48,39 L49,42 L50,49 L51,52 L52,61 L53,61 L54,65 L55,67 L56,66 L57,67 L58,72 L59,73 L60,81 L61,77 L62,83 L63,82 L64,83 L65,94 L66,79 L67,84 L68,92 L69,88 L70,97 L71,98 L72,101 L73,103 L74,110 L75,117 L76,114 L77,122 L78,120 L79,130 L80,120 L81,114 L82,126 L83,128 L84,148 L85,157 L86,179 L87,185 L88,185 L89,196 L90,200 L91,160 L92,106 L93,71 L94,64 L95,58 L96,52 L97,48 L98,40 L99,38 L100,35 L101,33 L102,28 L103,28 L104,29 L105,28 L106,27 L107,24 L108,24 L109,22 L110,23 L111,19 L112,19 L113,18 L114,18 L115,16 L116,16 L117,16 L118,14 L119,15 L120,15 L121,14 L122,14 L123,13 L124,13 L125,14 L126,14 L127,12 L128,13 L129,13 L130,13 L131,11 L132,12 L133,12 L134,12 L135,12 L136,11 L137,11 L138,11 L139,11 L140,11 L141,10 L142,11 L143,11 L144,10 L145,9 L146,10 L147,10 L148,9 L149,11 L150,10 L151,10 L152,9 L153,9 L154,9 L155,9 L156,9 L157,9 L158,9 L159,9 L160,9 L161,9 L162,9 L163,9 L164,8 L165,8 L166,9 L167,8 L168,8 L169,8 L170,8 L171,8 L172,8 L173,8 L174,7 L175,9 L176,8 L177,9 L178,8 L179,8 L180,8 L180,-6"/><polyline class="p" points="51.9,60 52,61 53,61 54,65 55,67 56,66 57,67 58,72 59,73 60,81 61,77 62,83 63,82 64,83 65,94 66,79 67,84 68,92 69,88 70,97 71,98 72,101 73,103 74,110 75,117 76,114 77,122 78,120 79,130 80,120 81,114 82,126 83,128 84,148 85,157 86,179 87,185 88,185 89,196 90,200 91,160 92,106 93,71 94,64 94.7,60"/></g><text class="t" x="653.1" y="477.56" font-size="7.9" textLength="23.7" lengthAdjust="spacingAndGlyphs">千葉県</text><g transform="translate(681.0 501.98) scale(0.7376 -0.10650)"><path class="a" d="M0,-6 L0,8 L1,8 L2,8 L3,8 L4,8 L5,8 L6,9 L7,8 L8,8 L9,8 L10,9 L11,8 L12,9 L13,9 L14,9 L15,9 L16,10 L17,10 L18,10 L19,11 L20,11 L21,11 L22,11 L23,12 L24,11 L25,11 L26,13 L27,13 L28,14 L29,14 L30,15 L31,17 L32,18 L33,20 L34,20 L35,22 L36,24 L37,26 L38,29 L39,29 L40,32 L41,34 L42,37 L43,42 L44,47 L45,53 L46,59 L47,61 L48,64 L49,67 L50,64 L51,69 L52,66 L53,65 L54,68 L55,71 L56,69 L57,66 L58,71 L59,68 L60,70 L61,71 L62,71 L63,68 L64,69 L65,73 L66,76 L67,76 L68,76 L69,75 L70,82 L71,82 L72,83 L73,96 L74,99 L75,123 L76,129 L77,152 L78,148 L79,122 L80,115 L81,117 L82,113 L83,125 L84,131 L85,127 L86,154 L87,156 L88,163 L89,179 L90,200 L91,168 L92,81 L93,57 L94,51 L95,48 L96,45 L97,41 L98,38 L99,33 L100,31 L101,31 L102,31 L103,27 L104,25 L105,25 L106,23 L107,23 L108,21 L109,20 L110,21 L111,19 L112,19 L113,19 L114,17 L115,17 L116,16 L117,17 L118,17 L119,15 L120,15 L121,14 L122,14 L123,13 L124,13 L125,13 L126,13 L127,12 L128,12 L129,11 L130,12 L131,11 L132,12 L133,12 L134,12 L135,11 L136,11 L137,12 L138,11 L139,10 L140,11 L141,10 L142,10 L143,10 L144,10 L145,10 L146,10 L147,10 L148,9 L149,9 L150,10 L151,10 L152,9 L153,9 L154,9 L155,9 L156,9 L157,9 L158,9 L159,9 L160,9 L161,8 L162,9 L163,8 L164,9 L165,8 L166,8 L167,8 L168,8 L169,8 L170,8 L171,8 L172,8 L173,8 L174,8 L175,8 L176,8 L177,9 L178,8 L179,8 L180,8 L180,-6"/><polyline class="p" points="46.5,60 47,61 48,64 49,67 50,64 51,69 52,66 53,65 54,68 55,71 56,69 57,66 58,71 59,68 60,70 61,71 62,71 63,68 64,69 65,73 66,76 67,76 68,76 69,75 70,82 71,82 72,83 73,96 74,99 75,123 76,129 77,152 78,148 79,122 80,115 81,117 82,113 83,125 84,131 85,127 86,154 87,156 88,163 89,179 90,200 91,168 92,81 92.9,60"/></g><text class="t" x="645.2" y="499.18" font-size="7.9" textLength="31.6" lengthAdjust="spacingAndGlyphs">神奈川県</text><g transform="translate(681.0 523.60) scale(0.7376 -0.10650)"><path class="a" d="M0,-6 L0,14 L1,14 L2,12 L3,16 L4,15 L5,12 L6,13 L7,12 L8,13 L9,14 L10,13 L11,14 L12,16 L13,14 L14,12 L15,13 L16,16 L17,15 L18,13 L19,14 L20,14 L21,15 L22,17 L23,14 L24,11 L25,13 L26,15 L27,14 L28,15 L29,13 L30,14 L31,15 L32,12 L33,15 L34,15 L35,13 L36,14 L37,13 L38,12 L39,18 L40,17 L41,14 L42,12 L43,14 L44,13 L45,16 L46,14 L47,15 L48,16 L49,16 L50,16 L51,17 L52,16 L53,13 L54,13 L55,16 L56,16 L57,14 L58,15 L59,16 L60,17 L61,20 L62,15 L63,18 L64,16 L65,15 L66,17 L67,14 L68,13 L69,18 L70,19 L71,21 L72,33 L73,69 L74,34 L75,38 L76,56 L77,52 L78,49 L79,49 L80,69 L81,61 L82,82 L83,93 L84,94 L85,116 L86,149 L87,150 L88,173 L89,181 L90,200 L91,181 L92,190 L93,114 L94,68 L95,38 L96,48 L97,41 L98,42 L99,38 L100,30 L101,32 L102,33 L103,28 L104,31 L105,31 L106,23 L107,26 L108,27 L109,24 L110,25 L111,25 L112,23 L113,26 L114,18 L115,21 L116,20 L117,20 L118,20 L119,21 L120,20 L121,16 L122,20 L123,16 L124,21 L125,15 L126,18 L127,16 L128,16 L129,14 L130,14 L131,17 L132,19 L133,16 L134,15 L135,15 L136,15 L137,16 L138,16 L139,14 L140,15 L141,17 L142,18 L143,14 L144,16 L145,16 L146,14 L147,17 L148,19 L149,17 L150,15 L151,17 L152,17 L153,17 L154,16 L155,15 L156,16 L157,18 L158,20 L159,16 L160,19 L161,14 L162,18 L163,15 L164,18 L165,16 L166,18 L167,16 L168,18 L169,17 L170,14 L171,17 L172,15 L173,16 L174,15 L175,16 L176,19 L177,16 L178,17 L179,17 L180,19 L180,-6"/><polyline class="p" points="72.8,60 73,69 73.3,60"/><polyline class="p" points="79.5,60 80,69 81,61 82,82 83,93 84,94 85,116 86,149 87,150 88,173 89,181 90,200 91,181 92,190 93,114 94,68 94.3,60"/></g><text class="t" x="653.1" y="520.8" font-size="7.9" textLength="23.7" lengthAdjust="spacingAndGlyphs">岐阜県</text><g transform="translate(681.0 545.22) scale(0.7376 -0.10650)"><path class="a" d="M0,-6 L0,6 L1,7 L2,6 L3,6 L4,6 L5,6 L6,6 L7,6 L8,7 L9,6 L10,6 L11,6 L12,6 L13,6 L14,6 L15,6 L16,7 L17,6 L18,7 L19,6 L20,6 L21,6 L22,7 L23,7 L24,7 L25,7 L26,7 L27,6 L28,6 L29,6 L30,6 L31,7 L32,7 L33,7 L34,6 L35,7 L36,6 L37,7 L38,7 L39,7 L40,7 L41,8 L42,8 L43,8 L44,9 L45,10 L46,11 L47,12 L48,12 L49,13 L50,14 L51,15 L52,15 L53,16 L54,17 L55,20 L56,20 L57,22 L58,22 L59,25 L60,28 L61,30 L62,32 L63,32 L64,35 L65,35 L66,41 L67,44 L68,45 L69,50 L70,59 L71,54 L72,59 L73,64 L74,70 L75,74 L76,75 L77,93 L78,91 L79,115 L80,116 L81,130 L82,123 L83,124 L84,136 L85,150 L86,154 L87,167 L88,173 L89,200 L90,189 L91,193 L92,157 L93,92 L94,59 L95,38 L96,36 L97,34 L98,32 L99,30 L100,27 L101,29 L102,25 L103,22 L104,25 L105,22 L106,20 L107,19 L108,19 L109,19 L110,17 L111,15 L112,16 L113,14 L114,14 L115,14 L116,13 L117,14 L118,12 L119,12 L120,11 L121,11 L122,10 L123,11 L124,10 L125,10 L126,10 L127,9 L128,9 L129,9 L130,9 L131,9 L132,8 L133,8 L134,8 L135,9 L136,7 L137,8 L138,8 L139,8 L140,8 L141,8 L142,7 L143,8 L144,8 L145,8 L146,8 L147,8 L148,8 L149,8 L150,7 L151,8 L152,8 L153,8 L154,8 L155,8 L156,8 L157,7 L158,8 L159,8 L160,8 L161,8 L162,8 L163,8 L164,8 L165,8 L166,8 L167,8 L168,8 L169,8 L170,8 L171,8 L172,8 L173,8 L174,8 L175,8 L176,8 L177,9 L178,7 L179,8 L180,8 L180,-6"/><polyline class="p" points="72.2,60 73,64 74,70 75,74 76,75 77,93 78,91 79,115 80,116 81,130 82,123 83,124 84,136 85,150 86,154 87,167 88,173 89,200 90,189 91,193 92,157 93,92 94,60"/></g><text class="t" x="653.1" y="542.42" font-size="7.9" textLength="23.7" lengthAdjust="spacingAndGlyphs">愛知県</text><g transform="translate(681.0 566.84) scale(0.7376 -0.10650)"><path class="a" d="M0,-6 L0,9 L1,8 L2,7 L3,7 L4,8 L5,8 L6,8 L7,8 L8,8 L9,8 L10,9 L11,9 L12,9 L13,9 L14,11 L15,10 L16,11 L17,10 L18,11 L19,10 L20,12 L21,11 L22,13 L23,12 L24,12 L25,14 L26,15 L27,15 L28,16 L29,17 L30,17 L31,21 L32,19 L33,22 L34,23 L35,24 L36,26 L37,27 L38,31 L39,31 L40,38 L41,42 L42,43 L43,46 L44,49 L45,55 L46,62 L47,64 L48,68 L49,68 L50,79 L51,78 L52,94 L53,92 L54,103 L55,107 L56,101 L57,88 L58,82 L59,86 L60,85 L61,76 L62,72 L63,75 L64,72 L65,65 L66,69 L67,64 L68,71 L69,65 L70,61 L71,70 L72,72 L73,78 L74,69 L75,72 L76,73 L77,70 L78,76 L79,84 L80,87 L81,86 L82,86 L83,116 L84,130 L85,131 L86,144 L87,151 L88,151 L89,175 L90,200 L91,155 L92,99 L93,67 L94,53 L95,46 L96,43 L97,48 L98,40 L99,38 L100,29 L101,30 L102,28 L103,29 L104,28 L105,26 L106,28 L107,26 L108,29 L109,25 L110,26 L111,27 L112,27 L113,24 L114,24 L115,24 L116,23 L117,22 L118,22 L119,21 L120,20 L121,15 L122,14 L123,13 L124,13 L125,14 L126,12 L127,12 L128,12 L129,12 L130,11 L131,12 L132,12 L133,10 L134,10 L135,11 L136,11 L137,11 L138,10 L139,10 L140,10 L141,10 L142,9 L143,9 L144,10 L145,10 L146,9 L147,12 L148,10 L149,10 L150,8 L151,10 L152,8 L153,10 L154,8 L155,8 L156,10 L157,10 L158,9 L159,9 L160,8 L161,9 L162,7 L163,10 L164,8 L165,9 L166,8 L167,8 L168,8 L169,9 L170,8 L171,9 L172,8 L173,9 L174,8 L175,8 L176,7 L177,7 L178,8 L179,7 L180,8 L180,-6"/><polyline class="p" points="45.7,60 46,62 47,64 48,68 49,68 50,79 51,78 52,94 53,92 54,103 55,107 56,101 57,88 58,82 59,86 60,85 61,76 62,72 63,75 64,72 65,65 66,69 67,64 68,71 69,65 70,61 71,70 72,72 73,78 74,69 75,72 76,73 77,70 78,76 79,84 80,87 81,86 82,86 83,116 84,130 85,131 86,144 87,151 88,151 89,175 90,200 91,155 92,99 93,67 93.5,60"/></g><text class="t" x="653.1" y="564.04" font-size="7.9" textLength="23.7" lengthAdjust="spacingAndGlyphs">静岡県</text><rect x="680.8" y="594.2" width="1.2" height="3.3" fill="#e4e8ff"/><text x="681.0" y="609.3" text-anchor="middle" font-family="Liberation Sans, sans-serif" font-size="9.1" fill="#e1e4f2" stroke="#e1e4f2" stroke-width=".3">1/1</text><rect x="747.2" y="594.2" width="1.2" height="3.3" fill="#e4e8ff"/><text x="747.4" y="609.3" text-anchor="middle" font-family="Liberation Sans, sans-serif" font-size="9.1" fill="#e1e4f2" stroke="#e1e4f2" stroke-width=".3">4/1</text><rect x="814.3" y="594.2" width="1.2" height="3.3" fill="#e4e8ff"/><text x="814.5" y="609.3" text-anchor="middle" font-family="Liberation Sans, sans-serif" font-size="9.1" fill="#e1e4f2" stroke="#e1e4f2" stroke-width=".3">7/1</text><rect x="703.7" y="594.3" width="1.1" height="1.5" fill="#cfd5f2"/><rect x="724.3" y="594.3" width="1.1" height="1.5" fill="#cfd5f2"/><rect x="769.3" y="594.3" width="1.1" height="1.5" fill="#cfd5f2"/><rect x="792.2" y="594.3" width="1.1" height="1.5" fill="#cfd5f2"/><text x="7.8" y="618.8" font-family="Liberation Sans, sans-serif" font-size="8.6" fill="#eceef8" textLength="205" lengthAdjust="spacingAndGlyphs">Data: Google Trends | Created by Chasoso (@_Chasoso)</text><rect x="14" y="587.2" width="29.6" height="26.6" rx="5" fill="#050818" fill-opacity=".86"/><rect x="46" y="587.2" width="49.4" height="26.6" rx="5" fill="#0a0f30" fill-opacity=".62"/><rect x="23.2" y="594" width="3.6" height="13" fill="#fff"/><rect x="30.6" y="594" width="3.6" height="13" fill="#fff"/><text x="52.3" y="607.6" font-family="Liberation Sans, sans-serif" font-size="19.5" font-weight="bold" fill="#fff" textLength="37.5" lengthAdjust="spacingAndGlyphs">GIF</text></svg></body></html>
